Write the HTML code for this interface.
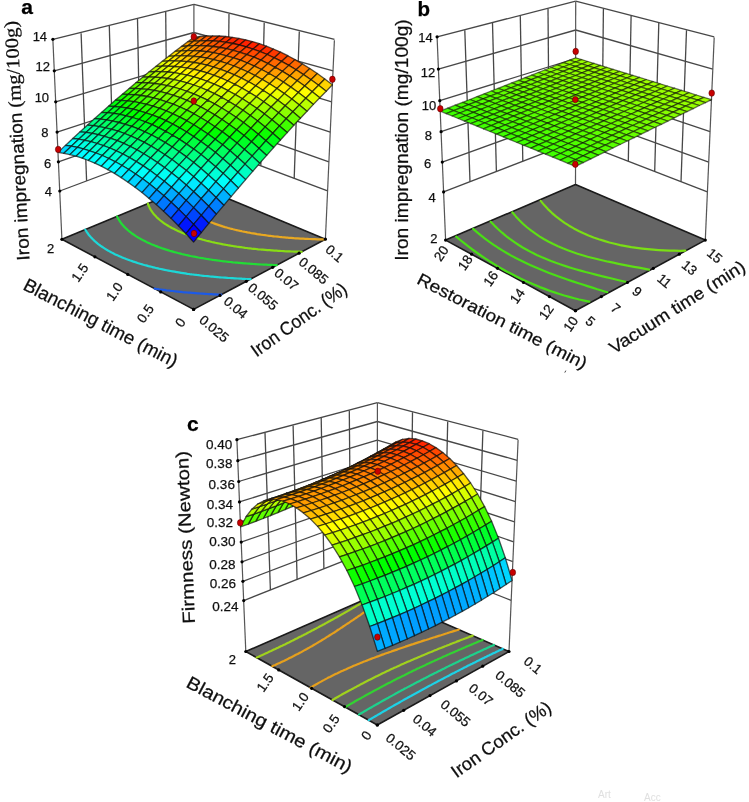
<!DOCTYPE html>
<html><head><meta charset="utf-8"><style>
html,body{margin:0;padding:0;background:#fff;}
svg{display:block;font-family:"Liberation Sans",sans-serif;}
</style></head><body>
<svg width="749" height="802" viewBox="0 0 749 802">
<defs><filter id="soft" x="0" y="0" width="100%" height="100%"><feGaussianBlur stdDeviation="0.45"/></filter></defs>
<rect width="749" height="802" fill="#fff"/>
<g filter="url(#soft)">
<line x1="59.8" y1="191.0" x2="193.9" y2="140.6" stroke="#474747" stroke-width="1.3"/>
<line x1="193.9" y1="140.6" x2="327.6" y2="190.9" stroke="#474747" stroke-width="1.3"/>
<line x1="58.4" y1="161.8" x2="193.9" y2="114.3" stroke="#474747" stroke-width="1.3"/>
<line x1="193.9" y1="114.3" x2="328.9" y2="161.8" stroke="#474747" stroke-width="1.3"/>
<line x1="57.1" y1="132.1" x2="193.9" y2="87.5" stroke="#474747" stroke-width="1.3"/>
<line x1="193.9" y1="87.5" x2="330.3" y2="132.1" stroke="#474747" stroke-width="1.3"/>
<line x1="55.7" y1="101.8" x2="193.9" y2="60.3" stroke="#474747" stroke-width="1.3"/>
<line x1="193.9" y1="60.3" x2="331.7" y2="101.8" stroke="#474747" stroke-width="1.3"/>
<line x1="54.3" y1="70.8" x2="193.9" y2="32.5" stroke="#474747" stroke-width="1.3"/>
<line x1="193.9" y1="32.5" x2="333.1" y2="70.8" stroke="#474747" stroke-width="1.3"/>
<line x1="52.9" y1="39.3" x2="193.9" y2="4.3" stroke="#474747" stroke-width="1.3"/>
<line x1="193.9" y1="4.3" x2="334.5" y2="39.3" stroke="#474747" stroke-width="1.3"/>
<line x1="86.6" y1="180.9" x2="81.1" y2="33.2" stroke="#474747" stroke-width="1.3"/>
<line x1="113.4" y1="170.8" x2="109.3" y2="26.1" stroke="#474747" stroke-width="1.3"/>
<line x1="140.2" y1="160.8" x2="137.5" y2="19.1" stroke="#474747" stroke-width="1.3"/>
<line x1="167.1" y1="150.7" x2="165.7" y2="12.1" stroke="#474747" stroke-width="1.3"/>
<line x1="294.2" y1="178.3" x2="299.3" y2="31.4" stroke="#474747" stroke-width="1.3"/>
<line x1="260.8" y1="165.8" x2="264.2" y2="22.7" stroke="#474747" stroke-width="1.3"/>
<line x1="227.3" y1="153.2" x2="229.0" y2="13.9" stroke="#474747" stroke-width="1.3"/>
<line x1="61.9" y1="239.3" x2="52.9" y2="40.2" stroke="#555" stroke-width="1.2"/>
<line x1="193.9" y1="184.4" x2="193.9" y2="5.1" stroke="#555" stroke-width="1.2"/>
<line x1="325.4" y1="239.2" x2="334.4" y2="40.2" stroke="#555" stroke-width="1.2"/>
<polygon points="193.6,309.4 61.9,239.3 193.9,184.4 325.4,239.2" fill="#656565" stroke="#1a1a1a" stroke-width="1.6" stroke-linejoin="round"/>
<polyline points="154.6,288.6 154.6,288.6 156.8,289.0 158.6,289.2 159.1,289.3 161.3,289.6 162.5,289.8 163.6,289.9 165.9,290.2 166.4,290.3 168.2,290.5 170.2,290.7 170.6,290.8 172.9,291.0 173.9,291.2 175.3,291.3 177.6,291.6 177.7,291.6 180.1,291.8 181.2,291.9 182.5,292.1 184.8,292.3 185.0,292.3 187.5,292.5 188.3,292.6 190.0,292.7 191.8,292.9 192.5,292.9 195.0,293.1 195.3,293.2 197.5,293.3 198.7,293.4 200.1,293.5 202.1,293.7 202.7,293.7 205.3,293.9 205.4,293.9 207.9,294.0 208.7,294.1 210.5,294.2 212.0,294.2 213.2,294.3 215.2,294.4 215.9,294.4 218.5,294.6 218.5,294.6 221.3,294.7" fill="none" stroke="#1e5ae6" stroke-width="2.2" stroke-linecap="round"/>
<polyline points="85.3,229.6 85.4,229.8 85.8,230.5 86.4,231.3 86.6,231.7 86.9,232.2 87.5,233.0 88.0,233.7 88.1,233.9 88.7,234.7 89.4,235.5 89.8,236.0 90.1,236.3 90.8,237.1 91.5,237.9 92.1,238.5 92.3,238.7 93.1,239.5 93.9,240.3 94.7,241.1 95.2,241.5 95.6,241.8 96.5,242.6 97.4,243.4 98.3,244.1 99.3,244.8 100.1,245.4 100.3,245.6 101.3,246.3 102.4,247.0 103.4,247.7 104.5,248.4 105.6,249.1 106.7,249.8 107.9,250.5 109.1,251.1 110.3,251.8 111.5,252.4 112.8,253.1 114.0,253.7 115.3,254.4 116.7,255.0 118.0,255.6 119.4,256.2 120.8,256.8 122.2,257.4 123.6,258.0 125.1,258.6 126.5,259.2 126.9,259.3 128.1,259.7 129.6,260.3 131.1,260.8 132.7,261.4 134.3,261.9 135.5,262.3 135.9,262.4 137.5,263.0 139.2,263.5 140.9,264.0 142.3,264.4 142.6,264.5 144.3,265.0 146.0,265.4 147.8,265.9 148.3,266.1 149.6,266.4 151.4,266.8 153.2,267.3 153.8,267.4 155.1,267.7 156.9,268.2 158.8,268.6 158.9,268.6 160.7,269.0 162.7,269.4 163.7,269.7 164.6,269.8 166.6,270.2 168.3,270.6 168.6,270.6 170.6,271.0 172.6,271.4 172.8,271.4 174.7,271.7 176.7,272.1 177.1,272.2 178.8,272.4 181.0,272.8 181.2,272.8 183.1,273.1 185.2,273.4 185.3,273.4 187.4,273.8 189.2,274.0 189.6,274.1 191.8,274.4 193.1,274.5 194.1,274.7 196.3,274.9 196.9,275.0 198.6,275.2 200.6,275.5 200.9,275.5 203.2,275.8 204.2,275.9 205.5,276.0 207.8,276.2 207.8,276.2 210.2,276.5 211.3,276.6 212.6,276.7 214.8,276.9 215.0,276.9 217.4,277.1 218.3,277.2 219.9,277.3 221.7,277.5 222.3,277.5 224.8,277.7 225.0,277.7 227.3,277.9 228.3,278.0 229.8,278.0 231.6,278.2 232.3,278.2 234.8,278.4 234.9,278.4 237.4,278.5 238.0,278.5 240.0,278.6 241.2,278.7 242.6,278.8 244.4,278.8 245.3,278.9 247.5,279.0 247.9,279.0 250.6,279.1" fill="none" stroke="#1ed8d8" stroke-width="2.2" stroke-linecap="round"/>
<polyline points="117.1,216.4 117.5,217.3 117.9,218.0 117.9,218.1 118.4,219.0 118.8,219.6 118.9,219.8 119.4,220.7 119.9,221.4 120.0,221.5 120.6,222.3 121.2,223.2 121.3,223.3 121.8,224.0 122.5,224.8 123.0,225.4 123.2,225.6 123.9,226.4 124.6,227.1 125.1,227.7 125.4,227.9 126.2,228.7 127.0,229.4 127.9,230.2 128.0,230.3 128.7,230.9 129.6,231.7 130.6,232.4 131.5,233.1 132.3,233.7 132.5,233.8 133.5,234.5 134.5,235.2 135.5,235.9 136.6,236.6 137.7,237.3 138.8,237.9 140.0,238.6 141.2,239.2 142.4,239.9 143.6,240.5 143.7,240.6 144.8,241.1 146.1,241.8 146.9,242.2 147.4,242.4 148.7,243.0 150.0,243.6 151.4,244.2 152.7,244.7 154.2,245.3 155.6,245.9 157.0,246.4 158.5,247.0 160.0,247.5 161.5,248.1 161.9,248.2 163.1,248.6 164.6,249.1 166.2,249.6 167.8,250.1 169.4,250.6 169.7,250.7 171.1,251.1 172.8,251.6 174.4,252.1 176.2,252.5 176.2,252.5 177.9,253.0 179.7,253.4 181.4,253.9 181.8,254.0 183.2,254.3 185.1,254.7 186.9,255.2 187.1,255.2 188.8,255.6 190.6,256.0 191.9,256.2 192.5,256.4 194.5,256.7 196.4,257.1 196.6,257.1 198.4,257.5 200.4,257.8 201.0,258.0 202.4,258.2 204.4,258.5 205.2,258.7 206.4,258.9 208.5,259.2 209.3,259.3 210.6,259.5 212.7,259.8 213.3,259.9 214.8,260.1 217.0,260.4 217.2,260.5 219.1,260.7 221.0,261.0 221.3,261.0 223.5,261.3 224.7,261.4 225.8,261.5 228.0,261.8 228.3,261.8 230.3,262.0 231.9,262.2 232.6,262.3 234.9,262.5 235.4,262.6 237.2,262.7 238.8,262.9 239.5,262.9 241.9,263.1 242.2,263.2 244.2,263.3 245.6,263.4 246.6,263.5 248.9,263.7 249.1,263.7 251.5,263.9 252.1,263.9 253.9,264.0 255.3,264.1 256.4,264.2 258.5,264.3 258.9,264.3 261.4,264.5 261.6,264.5 263.9,264.6 264.7,264.6 266.5,264.7 267.8,264.8 269.0,264.8 270.8,264.9 271.6,264.9 273.8,265.0 274.2,265.0 276.8,265.1" fill="none" stroke="#22dc36" stroke-width="2.2" stroke-linecap="round"/>
<polyline points="147.9,203.6 148.0,204.1 148.2,204.5 148.5,205.4 148.6,205.5 148.9,206.2 149.2,206.9 149.3,207.1 149.7,207.9 149.9,208.4 150.2,208.8 150.6,209.6 150.8,209.9 151.2,210.5 151.7,211.3 151.9,211.5 152.3,212.1 152.9,212.9 153.2,213.3 153.5,213.7 154.2,214.5 154.8,215.2 154.9,215.3 155.6,216.0 156.3,216.8 156.8,217.3 157.1,217.6 157.9,218.3 158.7,219.0 159.5,219.7 159.6,219.8 160.4,220.5 161.3,221.2 162.3,221.9 163.2,222.6 163.2,222.6 164.2,223.3 165.2,224.0 166.2,224.6 167.3,225.3 168.4,226.0 169.5,226.6 170.4,227.1 170.6,227.3 171.8,227.9 173.0,228.5 174.2,229.1 175.4,229.7 176.6,230.3 177.9,230.9 179.2,231.5 180.5,232.1 181.9,232.7 183.3,233.2 184.6,233.8 184.8,233.8 186.1,234.3 187.5,234.9 189.0,235.4 190.5,235.9 192.0,236.4 193.5,236.9 195.0,237.4 195.3,237.5 196.6,237.9 198.2,238.4 199.8,238.9 201.5,239.3 202.4,239.6 203.1,239.8 204.8,240.2 206.5,240.7 208.3,241.1 208.5,241.2 210.0,241.5 211.8,242.0 213.6,242.4 213.8,242.4 215.4,242.8 217.2,243.2 218.8,243.5 219.1,243.5 221.0,243.9 222.9,244.3 223.4,244.4 224.8,244.6 226.7,245.0 227.8,245.2 228.7,245.3 230.7,245.7 232.1,245.9 232.7,246.0 234.7,246.3 236.1,246.5 236.7,246.6 238.8,246.9 240.1,247.1 240.9,247.2 243.0,247.5 243.9,247.6 245.1,247.8 247.2,248.0 247.6,248.1 249.4,248.3 251.2,248.5 251.6,248.6 253.8,248.8 254.8,248.9 256.0,249.0 258.2,249.3 258.2,249.3 260.5,249.5 261.6,249.6 262.8,249.7 265.0,249.9 265.1,249.9 267.4,250.1 268.3,250.1 269.7,250.2 271.5,250.4 272.1,250.4 274.4,250.6 274.7,250.6 276.8,250.7 277.9,250.8 279.2,250.9 281.0,251.0 281.7,251.0 284.0,251.1 284.1,251.2 286.6,251.3 287.1,251.3 289.1,251.4 290.1,251.4 291.6,251.5 293.0,251.5 294.1,251.6 296.0,251.6 296.6,251.7 298.9,251.7 299.2,251.7 301.7,251.8" fill="none" stroke="#88dc14" stroke-width="2.2" stroke-linecap="round"/>
<polyline points="177.1,191.4 177.3,192.3 177.3,192.5 177.5,193.2 177.6,193.6 177.8,194.1 178.0,194.8 178.0,195.0 178.4,195.9 178.4,196.0 178.7,196.8 179.0,197.3 179.1,197.6 179.5,198.5 179.6,198.7 179.9,199.3 180.4,200.0 180.4,200.1 180.9,200.9 181.3,201.5 181.5,201.8 182.0,202.6 182.4,203.1 182.6,203.3 183.2,204.1 183.7,204.7 183.9,204.9 184.6,205.7 185.3,206.4 185.4,206.5 186.0,207.2 186.8,207.9 187.5,208.6 187.6,208.6 188.4,209.4 189.3,210.1 190.1,210.8 190.3,210.9 191.0,211.5 192.0,212.2 192.9,212.8 193.9,213.5 194.3,213.8 194.9,214.2 196.0,214.8 197.0,215.5 198.1,216.1 199.2,216.7 200.4,217.3 201.5,218.0 202.7,218.6 203.9,219.2 204.2,219.3 205.2,219.7 206.4,220.3 207.7,220.9 209.0,221.4 209.6,221.7 210.4,222.0 211.7,222.5 213.1,223.1 214.5,223.6 215.9,224.1 217.4,224.6 218.9,225.1 220.4,225.6 221.9,226.1 222.7,226.4 223.4,226.6 225.0,227.1 226.6,227.5 228.2,228.0 229.8,228.4 230.0,228.5 231.5,228.8 233.2,229.3 234.9,229.7 236.0,230.0 236.6,230.1 238.3,230.5 240.1,230.9 241.3,231.1 241.9,231.3 243.7,231.7 245.5,232.0 246.2,232.1 247.4,232.4 249.3,232.7 250.7,233.0 251.2,233.1 253.1,233.4 255.0,233.7 255.0,233.7 257.0,234.1 258.9,234.4 259.1,234.4 260.9,234.7 263.0,235.0 263.0,235.0 265.0,235.2 266.9,235.5 267.1,235.5 269.1,235.8 270.5,235.9 271.2,236.0 273.4,236.3 274.1,236.4 275.5,236.5 277.6,236.7 277.7,236.7 279.8,237.0 281.1,237.1 282.0,237.2 284.3,237.4 284.4,237.4 286.5,237.6 287.7,237.7 288.7,237.8 290.9,237.9 291.0,237.9 293.3,238.1 294.1,238.2 295.6,238.3 297.2,238.4 298.0,238.4 300.3,238.6 300.3,238.6 302.7,238.7 303.3,238.7 305.1,238.8 306.3,238.9 307.5,238.9 309.3,239.0 309.9,239.0 312.2,239.1 312.4,239.1 314.8,239.2 315.0,239.2 317.3,239.3 317.9,239.3 319.8,239.4 320.7,239.4 322.3,239.4 323.5,239.5 324.9,239.5" fill="none" stroke="#e8a820" stroke-width="2.2" stroke-linecap="round"/>
<circle cx="59.8" cy="191.0" r="1.6" fill="#000"/>
<circle cx="58.4" cy="161.8" r="1.6" fill="#000"/>
<circle cx="57.1" cy="132.1" r="1.6" fill="#000"/>
<circle cx="55.7" cy="101.8" r="1.6" fill="#000"/>
<circle cx="54.3" cy="70.8" r="1.6" fill="#000"/>
<circle cx="52.9" cy="39.3" r="1.6" fill="#000"/>
<circle cx="193.6" cy="309.4" r="1.6" fill="#000"/>
<circle cx="160.7" cy="291.9" r="1.6" fill="#000"/>
<circle cx="127.8" cy="274.4" r="1.6" fill="#000"/>
<circle cx="94.9" cy="256.8" r="1.6" fill="#000"/>
<circle cx="61.9" cy="239.3" r="1.6" fill="#000"/>
<circle cx="193.6" cy="309.4" r="1.6" fill="#000"/>
<circle cx="220.0" cy="295.4" r="1.6" fill="#000"/>
<circle cx="246.3" cy="281.3" r="1.6" fill="#000"/>
<circle cx="272.7" cy="267.3" r="1.6" fill="#000"/>
<circle cx="299.1" cy="253.2" r="1.6" fill="#000"/>
<circle cx="325.4" cy="239.2" r="1.6" fill="#000"/>
<g stroke="#0a0a0a" stroke-width="1.3" stroke-linejoin="round" stroke-opacity="0.68">
<polygon points="193.9,41.1 187.7,41.8 193.9,37.3 200.1,36.5" fill="#ff8500"/>
<polygon points="187.6,45.9 181.4,46.5 187.7,41.8 193.9,41.1" fill="#ffa200"/>
<polygon points="200.1,40.8 193.9,41.1 200.1,36.5 206.4,36.0" fill="#ff6e00"/>
<polygon points="181.3,50.8 175.1,51.3 181.4,46.5 187.6,45.9" fill="#ffc000"/>
<polygon points="193.9,45.6 187.6,45.9 193.9,41.1 200.1,40.8" fill="#ff8b00"/>
<polygon points="206.5,40.7 200.1,40.8 206.4,36.0 212.7,35.9" fill="#ff5a00"/>
<polygon points="174.9,55.8 168.8,56.3 175.1,51.3 181.3,50.8" fill="#ffde00"/>
<polygon points="187.5,50.6 181.3,50.8 187.6,45.9 193.9,45.6" fill="#ffaa00"/>
<polygon points="200.2,45.6 193.9,45.6 200.1,40.8 206.5,40.7" fill="#ff7800"/>
<polygon points="212.9,40.9 206.5,40.7 212.7,35.9 219.2,36.0" fill="#ff4900"/>
<polygon points="168.5,60.9 162.3,61.3 168.8,56.3 174.9,55.8" fill="#fffd00"/>
<polygon points="181.1,55.6 174.9,55.8 181.3,50.8 187.5,50.6" fill="#ffc800"/>
<polygon points="193.9,50.6 187.5,50.6 193.9,45.6 200.2,45.6" fill="#ff9600"/>
<polygon points="206.6,45.9 200.2,45.6 206.5,40.7 212.9,40.9" fill="#ff6700"/>
<polygon points="161.9,66.2 155.8,66.5 162.3,61.3 168.5,60.9" fill="#e1ff00"/>
<polygon points="219.4,41.4 212.9,40.9 219.2,36.0 225.7,36.5" fill="#ff3b00"/>
<polygon points="174.7,60.8 168.5,60.9 174.9,55.8 181.1,55.6" fill="#ffe800"/>
<polygon points="187.5,55.8 181.1,55.6 187.5,50.6 193.9,50.6" fill="#ffb600"/>
<polygon points="200.3,51.0 193.9,50.6 200.2,45.6 206.6,45.9" fill="#ff8600"/>
<polygon points="155.4,71.5 149.2,71.8 155.8,66.5 161.9,66.2" fill="#c1ff00"/>
<polygon points="213.1,46.5 206.6,45.9 212.9,40.9 219.4,41.4" fill="#ff5a00"/>
<polygon points="168.1,66.2 161.9,66.2 168.5,60.9 174.7,60.8" fill="#f6ff00"/>
<polygon points="226.0,42.3 219.4,41.4 225.7,36.5 232.3,37.3" fill="#ff3000"/>
<polygon points="181.0,61.1 174.7,60.8 181.1,55.6 187.5,55.8" fill="#ffd600"/>
<polygon points="148.7,77.0 142.6,77.2 149.2,71.8 155.4,71.5" fill="#9fff00"/>
<polygon points="193.8,56.3 187.5,55.8 193.9,50.6 200.3,51.0" fill="#ffa600"/>
<polygon points="206.8,51.7 200.3,51.0 206.6,45.9 213.1,46.5" fill="#ff7900"/>
<polygon points="161.6,71.6 155.4,71.5 161.9,66.2 168.1,66.2" fill="#d5ff00"/>
<polygon points="219.7,47.5 213.1,46.5 219.4,41.4 226.0,42.3" fill="#ff4f00"/>
<polygon points="174.4,66.5 168.1,66.2 174.7,60.8 181.0,61.1" fill="#fff600"/>
<polygon points="232.7,43.5 226.0,42.3 232.3,37.3 238.9,38.4" fill="#ff2800"/>
<polygon points="142.0,82.7 135.9,82.7 142.6,77.2 148.7,77.0" fill="#7dff00"/>
<polygon points="187.4,61.6 181.0,61.1 187.5,55.8 193.8,56.3" fill="#ffc600"/>
<polygon points="200.3,57.0 193.8,56.3 200.3,51.0 206.8,51.7" fill="#ff9900"/>
<polygon points="154.9,77.2 148.7,77.0 155.4,71.5 161.6,71.6" fill="#b3ff00"/>
<polygon points="213.3,52.7 206.8,51.7 213.1,46.5 219.7,47.5" fill="#ff6f00"/>
<polygon points="167.8,72.0 161.6,71.6 168.1,66.2 174.4,66.5" fill="#e6ff00"/>
<polygon points="226.4,48.7 219.7,47.5 226.0,42.3 232.7,43.5" fill="#ff4800"/>
<polygon points="135.2,88.4 129.2,88.4 135.9,82.7 142.0,82.7" fill="#5bff00"/>
<polygon points="180.8,67.1 174.4,66.5 181.0,61.1 187.4,61.6" fill="#ffe800"/>
<polygon points="239.4,45.0 232.7,43.5 238.9,38.4 245.7,39.8" fill="#ff2300"/>
<polygon points="193.8,62.5 187.4,61.6 193.8,56.3 200.3,57.0" fill="#ffba00"/>
<polygon points="148.2,82.9 142.0,82.7 148.7,77.0 154.9,77.2" fill="#91ff00"/>
<polygon points="206.9,58.2 200.3,57.0 206.8,51.7 213.3,52.7" fill="#ff9000"/>
<polygon points="161.2,77.7 154.9,77.2 161.6,71.6 167.8,72.0" fill="#c4ff00"/>
<polygon points="220.0,54.1 213.3,52.7 219.7,47.5 226.4,48.7" fill="#ff6800"/>
<polygon points="128.4,94.3 122.4,94.2 129.2,88.4 135.2,88.4" fill="#38ff00"/>
<polygon points="174.2,72.7 167.8,72.0 174.4,66.5 180.8,67.1" fill="#f5ff00"/>
<polygon points="233.1,50.3 226.4,48.7 232.7,43.5 239.4,45.0" fill="#ff4300"/>
<polygon points="187.3,68.1 180.8,67.1 187.4,61.6 193.8,62.5" fill="#ffdc00"/>
<polygon points="246.2,46.9 239.4,45.0 245.7,39.8 252.5,41.6" fill="#ff2100"/>
<polygon points="141.4,88.8 135.2,88.4 142.0,82.7 148.2,82.9" fill="#6eff00"/>
<polygon points="200.4,63.7 193.8,62.5 200.3,57.0 206.9,58.2" fill="#ffb100"/>
<polygon points="154.4,83.5 148.2,82.9 154.9,77.2 161.2,77.7" fill="#a1ff00"/>
<polygon points="213.5,59.6 206.9,58.2 213.3,52.7 220.0,54.1" fill="#ff8900"/>
<polygon points="121.5,100.3 115.5,100.1 122.4,94.2 128.4,94.3" fill="#13ff00"/>
<polygon points="167.5,78.5 161.2,77.7 167.8,72.0 174.2,72.7" fill="#d2ff00"/>
<polygon points="226.7,55.8 220.0,54.1 226.4,48.7 233.1,50.3" fill="#ff6400"/>
<polygon points="180.7,73.8 174.2,72.7 180.8,67.1 187.3,68.1" fill="#fffe00"/>
<polygon points="134.6,94.7 128.4,94.3 135.2,88.4 141.4,88.8" fill="#4aff00"/>
<polygon points="239.9,52.3 233.1,50.3 239.4,45.0 246.2,46.9" fill="#ff4200"/>
<polygon points="253.1,49.1 246.2,46.9 252.5,41.6 259.4,43.7" fill="#ff2300"/>
<polygon points="193.8,69.4 187.3,68.1 193.8,62.5 200.4,63.7" fill="#ffd300"/>
<polygon points="147.6,89.4 141.4,88.8 148.2,82.9 154.4,83.5" fill="#7eff00"/>
<polygon points="207.0,65.2 200.4,63.7 206.9,58.2 213.5,59.6" fill="#ffab00"/>
<polygon points="114.5,106.5 108.5,106.2 115.5,100.1 121.5,100.3" fill="#00ff11"/>
<polygon points="160.8,84.4 154.4,83.5 161.2,77.7 167.5,78.5" fill="#afff00"/>
<polygon points="220.3,61.4 213.5,59.6 220.0,54.1 226.7,55.8" fill="#ff8600"/>
<polygon points="174.0,79.6 167.5,78.5 174.2,72.7 180.7,73.8" fill="#ddff00"/>
<polygon points="127.6,100.8 121.5,100.3 128.4,94.3 134.6,94.7" fill="#26ff00"/>
<polygon points="233.5,57.8 226.7,55.8 233.1,50.3 239.9,52.3" fill="#ff6300"/>
<polygon points="246.8,54.6 239.9,52.3 246.2,46.9 253.1,49.1" fill="#ff4300"/>
<polygon points="187.2,75.1 180.7,73.8 187.3,68.1 193.8,69.4" fill="#fff600"/>
<polygon points="140.8,95.5 134.6,94.7 141.4,88.8 147.6,89.4" fill="#5aff00"/>
<polygon points="260.1,51.6 253.1,49.1 259.4,43.7 266.4,46.2" fill="#ff2700"/>
<polygon points="200.5,71.0 193.8,69.4 200.4,63.7 207.0,65.2" fill="#ffcd00"/>
<polygon points="107.5,112.7 101.5,112.4 108.5,106.2 114.5,106.5" fill="#00ff37"/>
<polygon points="154.0,90.4 147.6,89.4 154.4,83.5 160.8,84.4" fill="#8bff00"/>
<polygon points="213.7,67.1 207.0,65.2 213.5,59.6 220.3,61.4" fill="#ffa800"/>
<polygon points="120.7,107.1 114.5,106.5 121.5,100.3 127.6,100.8" fill="#01ff00"/>
<polygon points="167.2,85.6 160.8,84.4 167.5,78.5 174.0,79.6" fill="#b9ff00"/>
<polygon points="227.1,63.5 220.3,61.4 226.7,55.8 233.5,57.8" fill="#ff8500"/>
<polygon points="240.4,60.2 233.5,57.8 239.9,52.3 246.8,54.6" fill="#ff6500"/>
<polygon points="180.5,81.1 174.0,79.6 180.7,73.8 187.2,75.1" fill="#e5ff00"/>
<polygon points="133.9,101.7 127.6,100.8 134.6,94.7 140.8,95.5" fill="#35ff00"/>
<polygon points="253.8,57.2 246.8,54.6 253.1,49.1 260.1,51.6" fill="#ff4800"/>
<polygon points="193.8,76.9 187.2,75.1 193.8,69.4 200.5,71.0" fill="#fff000"/>
<polygon points="100.4,119.2 94.4,118.7 101.5,112.4 107.5,112.7" fill="#00ff5d"/>
<polygon points="267.2,54.5 260.1,51.6 266.4,46.2 273.4,49.0" fill="#ff2e00"/>
<polygon points="147.1,96.5 140.8,95.5 147.6,89.4 154.0,90.4" fill="#66ff00"/>
<polygon points="207.2,72.9 200.5,71.0 207.0,65.2 213.7,67.1" fill="#ffcb00"/>
<polygon points="113.6,113.4 107.5,112.7 114.5,106.5 120.7,107.1" fill="#00ff25"/>
<polygon points="160.4,91.7 154.0,90.4 160.8,84.4 167.2,85.6" fill="#95ff00"/>
<polygon points="220.5,69.3 213.7,67.1 220.3,61.4 227.1,63.5" fill="#ffa700"/>
<polygon points="234.0,66.0 227.1,63.5 233.5,57.8 240.4,60.2" fill="#ff8700"/>
<polygon points="173.7,87.1 167.2,85.6 174.0,79.6 180.5,81.1" fill="#c1ff00"/>
<polygon points="126.9,108.0 120.7,107.1 127.6,100.8 133.9,101.7" fill="#0fff00"/>
<polygon points="247.4,63.0 240.4,60.2 246.8,54.6 253.8,57.2" fill="#ff6a00"/>
<polygon points="187.1,82.9 180.5,81.1 187.2,75.1 193.8,76.9" fill="#eaff00"/>
<polygon points="93.3,125.7 87.3,125.2 94.4,118.7 100.4,119.2" fill="#00ff84"/>
<polygon points="260.8,60.2 253.8,57.2 260.1,51.6 267.2,54.5" fill="#ff5000"/>
<polygon points="140.2,102.8 133.9,101.7 140.8,95.5 147.1,96.5" fill="#41ff00"/>
<polygon points="274.3,57.8 267.2,54.5 273.4,49.0 280.6,52.1" fill="#ff3800"/>
<polygon points="200.5,78.9 193.8,76.9 200.5,71.0 207.2,72.9" fill="#ffee00"/>
<polygon points="106.5,119.9 100.4,119.2 107.5,112.7 113.6,113.4" fill="#00ff4c"/>
<polygon points="153.5,97.9 147.1,96.5 154.0,90.4 160.4,91.7" fill="#70ff00"/>
<polygon points="214.0,75.3 207.2,72.9 213.7,67.1 220.5,69.3" fill="#ffcb00"/>
<polygon points="227.4,71.9 220.5,69.3 227.1,63.5 234.0,66.0" fill="#ffaa00"/>
<polygon points="166.9,93.3 160.4,91.7 167.2,85.6 173.7,87.1" fill="#9cff00"/>
<polygon points="119.8,114.4 113.6,113.4 120.7,107.1 126.9,108.0" fill="#00ff17"/>
<polygon points="240.9,68.8 234.0,66.0 240.4,60.2 247.4,63.0" fill="#ff8d00"/>
<polygon points="86.0,132.4 80.1,131.8 87.3,125.2 93.3,125.7" fill="#00ffab"/>
<polygon points="180.3,89.0 173.7,87.1 180.5,81.1 187.1,82.9" fill="#c5ff00"/>
<polygon points="254.4,66.1 247.4,63.0 253.8,57.2 260.8,60.2" fill="#ff7200"/>
<polygon points="133.2,109.2 126.9,108.0 133.9,101.7 140.2,102.8" fill="#1bff00"/>
<polygon points="268.0,63.6 260.8,60.2 267.2,54.5 274.3,57.8" fill="#ff5a00"/>
<polygon points="193.8,85.0 187.1,82.9 193.8,76.9 200.5,78.9" fill="#ecff00"/>
<polygon points="281.5,61.4 274.3,57.8 280.6,52.1 287.8,55.7" fill="#ff4500"/>
<polygon points="99.3,126.6 93.3,125.7 100.4,119.2 106.5,119.9" fill="#00ff73"/>
<polygon points="146.6,104.3 140.2,102.8 147.1,96.5 153.5,97.9" fill="#4aff00"/>
<polygon points="207.3,81.3 200.5,78.9 207.2,72.9 214.0,75.3" fill="#ffef00"/>
<polygon points="220.8,77.9 214.0,75.3 220.5,69.3 227.4,71.9" fill="#ffce00"/>
<polygon points="160.0,99.7 153.5,97.9 160.4,91.7 166.9,93.3" fill="#77ff00"/>
<polygon points="112.7,121.1 106.5,119.9 113.6,113.4 119.8,114.4" fill="#00ff3e"/>
<polygon points="234.4,74.8 227.4,71.9 234.0,66.0 240.9,68.8" fill="#ffb000"/>
<polygon points="78.7,139.2 72.8,138.5 80.1,131.8 86.0,132.4" fill="#00ffd3"/>
<polygon points="173.5,95.3 166.9,93.3 173.7,87.1 180.3,89.0" fill="#a0ff00"/>
<polygon points="126.1,115.8 119.8,114.4 126.9,108.0 133.2,109.2" fill="#00ff0c"/>
<polygon points="248.0,72.0 240.9,68.8 247.4,63.0 254.4,66.1" fill="#ff9500"/>
<polygon points="261.5,69.5 254.4,66.1 260.8,60.2 268.0,63.6" fill="#ff7d00"/>
<polygon points="187.0,91.3 180.3,89.0 187.1,82.9 193.8,85.0" fill="#c7ff00"/>
<polygon points="92.1,133.4 86.0,132.4 93.3,125.7 99.3,126.6" fill="#00ff9b"/>
<polygon points="275.1,67.3 268.0,63.6 274.3,57.8 281.5,61.4" fill="#ff6800"/>
<polygon points="139.5,110.8 133.2,109.2 140.2,102.8 146.6,104.3" fill="#24ff00"/>
<polygon points="200.6,87.5 193.8,85.0 200.5,78.9 207.3,81.3" fill="#ebff00"/>
<polygon points="288.8,65.4 281.5,61.4 287.8,55.7 295.0,59.6" fill="#ff5500"/>
<polygon points="153.0,106.2 146.6,104.3 153.5,97.9 160.0,99.7" fill="#50ff00"/>
<polygon points="214.2,84.1 207.3,81.3 214.0,75.3 220.8,77.9" fill="#fff200"/>
<polygon points="105.5,127.8 99.3,126.6 106.5,119.9 112.7,121.1" fill="#00ff66"/>
<polygon points="227.8,81.0 220.8,77.9 227.4,71.9 234.4,74.8" fill="#ffd400"/>
<polygon points="71.3,146.2 65.4,145.4 72.8,138.5 78.7,139.2" fill="#00fffc"/>
<polygon points="166.6,101.8 160.0,99.7 166.9,93.3 173.5,95.3" fill="#7aff00"/>
<polygon points="118.9,122.5 112.7,121.1 119.8,114.4 126.1,115.8" fill="#00ff33"/>
<polygon points="241.4,78.1 234.4,74.8 240.9,68.8 248.0,72.0" fill="#ffb900"/>
<polygon points="180.2,97.7 173.5,95.3 180.3,89.0 187.0,91.3" fill="#a1ff00"/>
<polygon points="255.1,75.6 248.0,72.0 254.4,66.1 261.5,69.5" fill="#ffa100"/>
<polygon points="84.7,140.3 78.7,139.2 86.0,132.4 92.1,133.4" fill="#00ffc4"/>
<polygon points="132.4,117.5 126.1,115.8 133.2,109.2 139.5,110.8" fill="#00ff03"/>
<polygon points="268.7,73.3 261.5,69.5 268.0,63.6 275.1,67.3" fill="#ff8b00"/>
<polygon points="193.8,93.9 187.0,91.3 193.8,85.0 200.6,87.5" fill="#c5ff00"/>
<polygon points="282.4,71.4 275.1,67.3 281.5,61.4 288.8,65.4" fill="#ff7800"/>
<polygon points="296.1,69.8 288.8,65.4 295.0,59.6 302.4,63.9" fill="#ff6800"/>
<polygon points="146.0,112.8 139.5,110.8 146.6,104.3 153.0,106.2" fill="#29ff00"/>
<polygon points="98.2,134.7 92.1,133.4 99.3,126.6 105.5,127.8" fill="#00ff8e"/>
<polygon points="207.4,90.4 200.6,87.5 207.3,81.3 214.2,84.1" fill="#e6ff00"/>
<polygon points="63.9,153.3 58.0,152.4 65.4,145.4 71.3,146.2" fill="#00d8ff"/>
<polygon points="221.1,87.2 214.2,84.1 220.8,77.9 227.8,81.0" fill="#fff900"/>
<polygon points="159.6,108.3 153.0,106.2 160.0,99.7 166.6,101.8" fill="#53ff00"/>
<polygon points="111.7,129.3 105.5,127.8 112.7,121.1 118.9,122.5" fill="#00ff5b"/>
<polygon points="234.8,84.3 227.8,81.0 234.4,74.8 241.4,78.1" fill="#ffde00"/>
<polygon points="173.2,104.2 166.6,101.8 173.5,95.3 180.2,97.7" fill="#7bff00"/>
<polygon points="248.5,81.8 241.4,78.1 248.0,72.0 255.1,75.6" fill="#ffc500"/>
<polygon points="77.4,147.4 71.3,146.2 78.7,139.2 84.7,140.3" fill="#00ffed"/>
<polygon points="125.3,124.3 118.9,122.5 126.1,115.8 132.4,117.5" fill="#00ff2b"/>
<polygon points="262.3,79.5 255.1,75.6 261.5,69.5 268.7,73.3" fill="#ffaf00"/>
<polygon points="186.9,100.4 180.2,97.7 187.0,91.3 193.8,93.9" fill="#9fff00"/>
<polygon points="276.0,77.5 268.7,73.3 275.1,67.3 282.4,71.4" fill="#ff9c00"/>
<polygon points="289.8,75.9 282.4,71.4 288.8,65.4 296.1,69.8" fill="#ff8c00"/>
<polygon points="90.9,141.7 84.7,140.3 92.1,133.4 98.2,134.7" fill="#00ffb7"/>
<polygon points="138.9,119.5 132.4,117.5 139.5,110.8 146.0,112.8" fill="#02ff00"/>
<polygon points="200.6,96.9 193.8,93.9 200.6,87.5 207.4,90.4" fill="#c1ff00"/>
<polygon points="303.5,74.6 296.1,69.8 302.4,63.9 309.8,68.5" fill="#ff7f00"/>
<polygon points="214.4,93.6 207.4,90.4 214.2,84.1 221.1,87.2" fill="#dfff00"/>
<polygon points="152.6,115.1 146.0,112.8 153.0,106.2 159.6,108.3" fill="#2cff00"/>
<polygon points="104.4,136.3 98.2,134.7 105.5,127.8 111.7,129.3" fill="#00ff84"/>
<polygon points="228.1,90.7 221.1,87.2 227.8,81.0 234.8,84.3" fill="#fbff00"/>
<polygon points="166.3,110.9 159.6,108.3 166.6,101.8 173.2,104.2" fill="#54ff00"/>
<polygon points="69.9,154.6 63.9,153.3 71.3,146.2 77.4,147.4" fill="#00e7ff"/>
<polygon points="241.9,88.1 234.8,84.3 241.4,78.1 248.5,81.8" fill="#ffea00"/>
<polygon points="118.0,131.2 111.7,129.3 118.9,122.5 125.3,124.3" fill="#00ff54"/>
<polygon points="255.7,85.8 248.5,81.8 255.1,75.6 262.3,79.5" fill="#ffd400"/>
<polygon points="180.0,107.0 173.2,104.2 180.2,97.7 186.9,100.4" fill="#78ff00"/>
<polygon points="269.5,83.8 262.3,79.5 268.7,73.3 276.0,77.5" fill="#ffc100"/>
<polygon points="83.5,148.9 77.4,147.4 84.7,140.3 90.9,141.7" fill="#00ffe1"/>
<polygon points="283.4,82.1 276.0,77.5 282.4,71.4 289.8,75.9" fill="#ffb000"/>
<polygon points="131.7,126.4 125.3,124.3 132.4,117.5 138.9,119.5" fill="#00ff26"/>
<polygon points="193.8,103.5 186.9,100.4 193.8,93.9 200.6,96.9" fill="#9aff00"/>
<polygon points="297.2,80.8 289.8,75.9 296.1,69.8 303.5,74.6" fill="#ffa300"/>
<polygon points="311.0,79.7 303.5,74.6 309.8,68.5 317.3,73.5" fill="#ff9800"/>
<polygon points="207.6,100.2 200.6,96.9 207.4,90.4 214.4,93.6" fill="#b9ff00"/>
<polygon points="145.4,121.9 138.9,119.5 146.0,112.8 152.6,115.1" fill="#04ff00"/>
<polygon points="97.1,143.5 90.9,141.7 98.2,134.7 104.4,136.3" fill="#00ffae"/>
<polygon points="221.4,97.2 214.4,93.6 221.1,87.2 228.1,90.7" fill="#d5ff00"/>
<polygon points="159.2,117.7 152.6,115.1 159.6,108.3 166.3,110.9" fill="#2cff00"/>
<polygon points="235.3,94.6 228.1,90.7 234.8,84.3 241.9,88.1" fill="#eeff00"/>
<polygon points="110.7,138.3 104.4,136.3 111.7,129.3 118.0,131.2" fill="#00ff7d"/>
<polygon points="249.1,92.3 241.9,88.1 248.5,81.8 255.7,85.8" fill="#fff900"/>
<polygon points="173.0,113.8 166.3,110.9 173.2,104.2 180.0,107.0" fill="#51ff00"/>
<polygon points="263.0,90.2 255.7,85.8 262.3,79.5 269.5,83.8" fill="#ffe600"/>
<polygon points="76.0,156.2 69.9,154.6 77.4,147.4 83.5,148.9" fill="#00f2ff"/>
<polygon points="124.5,133.5 118.0,131.2 125.3,124.3 131.7,126.4" fill="#00ff4f"/>
<polygon points="276.9,88.5 269.5,83.8 276.0,77.5 283.4,82.1" fill="#ffd500"/>
<polygon points="186.8,110.2 180.0,107.0 186.9,100.4 193.8,103.5" fill="#73ff00"/>
<polygon points="290.8,87.1 283.4,82.1 289.8,75.9 297.2,80.8" fill="#ffc700"/>
<polygon points="304.7,86.0 297.2,80.8 303.5,74.6 311.0,79.7" fill="#ffbc00"/>
<polygon points="318.6,85.2 311.0,79.7 317.3,73.5 324.8,79.0" fill="#ffb400"/>
<polygon points="200.7,106.9 193.8,103.5 200.6,96.9 207.6,100.2" fill="#92ff00"/>
<polygon points="138.3,128.9 131.7,126.4 138.9,119.5 145.4,121.9" fill="#00ff25"/>
<polygon points="89.6,150.8 83.5,148.9 90.9,141.7 97.1,143.5" fill="#00ffd8"/>
<polygon points="214.6,103.9 207.6,100.2 214.4,93.6 221.4,97.2" fill="#aeff00"/>
<polygon points="152.1,124.7 145.4,121.9 152.6,115.1 159.2,117.7" fill="#03ff00"/>
<polygon points="228.5,101.2 221.4,97.2 228.1,90.7 235.3,94.6" fill="#c8ff00"/>
<polygon points="103.4,145.6 97.1,143.5 104.4,136.3 110.7,138.3" fill="#00ffa7"/>
<polygon points="242.4,98.8 235.3,94.6 241.9,88.1 249.1,92.3" fill="#dfff00"/>
<polygon points="165.9,120.7 159.2,117.7 166.3,110.9 173.0,113.8" fill="#29ff00"/>
<polygon points="256.4,96.8 249.1,92.3 255.7,85.8 263.0,90.2" fill="#f2ff00"/>
<polygon points="117.2,140.7 110.7,138.3 118.0,131.2 124.5,133.5" fill="#00ff79"/>
<polygon points="270.3,95.0 263.0,90.2 269.5,83.8 276.9,88.5" fill="#fffb00"/>
<polygon points="179.8,117.1 173.0,113.8 180.0,107.0 186.8,110.2" fill="#4bff00"/>
<polygon points="284.3,93.6 276.9,88.5 283.4,82.1 290.8,87.1" fill="#ffed00"/>
<polygon points="298.3,92.5 290.8,87.1 297.2,80.8 304.7,86.0" fill="#ffe100"/>
<polygon points="312.2,91.7 304.7,86.0 311.0,79.7 318.6,85.2" fill="#ffd900"/>
<polygon points="326.2,91.2 318.6,85.2 324.8,79.0 332.4,84.8" fill="#ffd300"/>
<polygon points="193.8,113.7 186.8,110.2 193.8,103.5 200.7,106.9" fill="#6aff00"/>
<polygon points="131.0,136.1 124.5,133.5 131.7,126.4 138.3,128.9" fill="#00ff4e"/>
<polygon points="82.2,158.2 76.0,156.2 83.5,148.9 89.6,150.8" fill="#00fbff"/>
<polygon points="207.7,110.7 200.7,106.9 207.6,100.2 214.6,103.9" fill="#87ff00"/>
<polygon points="144.9,131.8 138.3,128.9 145.4,121.9 152.1,124.7" fill="#00ff26"/>
<polygon points="221.7,108.0 214.6,103.9 221.4,97.2 228.5,101.2" fill="#a1ff00"/>
<polygon points="95.9,153.0 89.6,150.8 97.1,143.5 103.4,145.6" fill="#00ffd2"/>
<polygon points="235.7,105.6 228.5,101.2 235.3,94.6 242.4,98.8" fill="#b8ff00"/>
<polygon points="158.8,127.8 152.1,124.7 159.2,117.7 165.9,120.7" fill="#00ff00"/>
<polygon points="249.7,103.5 242.4,98.8 249.1,92.3 256.4,96.8" fill="#ccff00"/>
<polygon points="109.8,148.0 103.4,145.6 110.7,138.3 117.2,140.7" fill="#00ffa4"/>
<polygon points="263.7,101.7 256.4,96.8 263.0,90.2 270.3,95.0" fill="#ddff00"/>
<polygon points="172.8,124.1 165.9,120.7 173.0,113.8 179.8,117.1" fill="#22ff00"/>
<polygon points="277.8,100.2 270.3,95.0 276.9,88.5 284.3,93.6" fill="#ebff00"/>
<polygon points="291.8,99.1 284.3,93.6 290.8,87.1 298.3,92.5" fill="#f7ff00"/>
<polygon points="305.8,98.2 298.3,92.5 304.7,86.0 312.2,91.7" fill="#fffe00"/>
<polygon points="123.7,143.4 117.2,140.7 124.5,133.5 131.0,136.1" fill="#00ff78"/>
<polygon points="186.7,120.7 179.8,117.1 186.8,110.2 193.8,113.7" fill="#42ff00"/>
<polygon points="319.8,97.7 312.2,91.7 318.6,85.2 326.2,91.2" fill="#fff800"/>
<polygon points="200.8,117.7 193.8,113.7 200.7,106.9 207.7,110.7" fill="#5fff00"/>
<polygon points="137.6,139.1 131.0,136.1 138.3,128.9 144.9,131.8" fill="#00ff50"/>
<polygon points="88.4,160.5 82.2,158.2 89.6,150.8 95.9,153.0" fill="#00fffd"/>
<polygon points="214.8,114.9 207.7,110.7 214.6,103.9 221.7,108.0" fill="#79ff00"/>
<polygon points="228.9,112.5 221.7,108.0 228.5,101.2 235.7,105.6" fill="#90ff00"/>
<polygon points="151.6,135.0 144.9,131.8 152.1,124.7 158.8,127.8" fill="#00ff2a"/>
<polygon points="243.0,110.3 235.7,105.6 242.4,98.8 249.7,103.5" fill="#a4ff00"/>
<polygon points="102.3,155.5 95.9,153.0 103.4,145.6 109.8,148.0" fill="#00ffcf"/>
<polygon points="165.6,131.3 158.8,127.8 165.9,120.7 172.8,124.1" fill="#00ff07"/>
<polygon points="257.0,108.5 249.7,103.5 256.4,96.8 263.7,101.7" fill="#b6ff00"/>
<polygon points="271.1,107.0 263.7,101.7 270.3,95.0 277.8,100.2" fill="#c5ff00"/>
<polygon points="285.2,105.8 277.8,100.2 284.3,93.6 291.8,99.1" fill="#d0ff00"/>
<polygon points="116.3,150.9 109.8,148.0 117.2,140.7 123.7,143.4" fill="#00ffa3"/>
<polygon points="179.7,127.9 172.8,124.1 179.8,117.1 186.7,120.7" fill="#19ff00"/>
<polygon points="299.4,104.9 291.8,99.1 298.3,92.5 305.8,98.2" fill="#d9ff00"/>
<polygon points="313.4,104.4 305.8,98.2 312.2,91.7 319.8,97.7" fill="#e0ff00"/>
<polygon points="193.7,124.8 186.7,120.7 193.8,113.7 200.8,117.7" fill="#36ff00"/>
<polygon points="130.3,146.5 123.7,143.4 131.0,136.1 137.6,139.1" fill="#00ff7a"/>
<polygon points="207.9,122.0 200.8,117.7 207.7,110.7 214.8,114.9" fill="#50ff00"/>
<polygon points="144.3,142.4 137.6,139.1 144.9,131.8 151.6,135.0" fill="#00ff54"/>
<polygon points="222.0,119.5 214.8,114.9 221.7,108.0 228.9,112.5" fill="#68ff00"/>
<polygon points="94.8,163.2 88.4,160.5 95.9,153.0 102.3,155.5" fill="#00fffb"/>
<polygon points="236.1,117.3 228.9,112.5 235.7,105.6 243.0,110.3" fill="#7cff00"/>
<polygon points="158.4,138.6 151.6,135.0 158.8,127.8 165.6,131.3" fill="#00ff31"/>
<polygon points="250.3,115.5 243.0,110.3 249.7,103.5 257.0,108.5" fill="#8eff00"/>
<polygon points="264.5,113.9 257.0,108.5 263.7,101.7 271.1,107.0" fill="#9dff00"/>
<polygon points="108.8,158.5 102.3,155.5 109.8,148.0 116.3,150.9" fill="#00ffcf"/>
<polygon points="278.6,112.7 271.1,107.0 277.8,100.2 285.2,105.8" fill="#a9ff00"/>
<polygon points="172.5,135.2 165.6,131.3 172.8,124.1 179.7,127.9" fill="#00ff11"/>
<polygon points="292.8,111.8 285.2,105.8 291.8,99.1 299.4,104.9" fill="#b2ff00"/>
<polygon points="307.0,111.2 299.4,104.9 305.8,98.2 313.4,104.4" fill="#b9ff00"/>
<polygon points="186.7,132.0 179.7,127.9 186.7,120.7 193.7,124.8" fill="#0cff00"/>
<polygon points="122.9,154.0 116.3,150.9 123.7,143.4 130.3,146.5" fill="#00ffa6"/>
<polygon points="200.8,129.2 193.7,124.8 200.8,117.7 207.9,122.0" fill="#27ff00"/>
<polygon points="137.0,149.9 130.3,146.5 137.6,139.1 144.3,142.4" fill="#00ff7f"/>
<polygon points="215.0,126.7 207.9,122.0 214.8,114.9 222.0,119.5" fill="#3fff00"/>
<polygon points="229.2,124.5 222.0,119.5 228.9,112.5 236.1,117.3" fill="#54ff00"/>
<polygon points="151.1,146.1 144.3,142.4 151.6,135.0 158.4,138.6" fill="#00ff5c"/>
<polygon points="243.5,122.6 236.1,117.3 243.0,110.3 250.3,115.5" fill="#66ff00"/>
<polygon points="257.7,121.0 250.3,115.5 257.0,108.5 264.5,113.9" fill="#75ff00"/>
<polygon points="101.3,166.2 94.8,163.2 102.3,155.5 108.8,158.5" fill="#00fffb"/>
<polygon points="272.0,119.7 264.5,113.9 271.1,107.0 278.6,112.7" fill="#81ff00"/>
<polygon points="165.3,142.6 158.4,138.6 165.6,131.3 172.5,135.2" fill="#00ff3b"/>
<polygon points="286.2,118.8 278.6,112.7 285.2,105.8 292.8,111.8" fill="#8bff00"/>
<polygon points="300.4,118.2 292.8,111.8 299.4,104.9 307.0,111.2" fill="#91ff00"/>
<polygon points="179.5,139.4 172.5,135.2 179.7,127.9 186.7,132.0" fill="#00ff1e"/>
<polygon points="115.4,161.8 108.8,158.5 116.3,150.9 122.9,154.0" fill="#00ffd2"/>
<polygon points="193.7,136.6 186.7,132.0 193.7,124.8 200.8,129.2" fill="#00ff03"/>
<polygon points="129.5,157.6 122.9,154.0 130.3,146.5 137.0,149.9" fill="#00ffab"/>
<polygon points="208.0,134.0 200.8,129.2 207.9,122.0 215.0,126.7" fill="#15ff00"/>
<polygon points="222.3,131.8 215.0,126.7 222.0,119.5 229.2,124.5" fill="#2aff00"/>
<polygon points="143.7,153.8 137.0,149.9 144.3,142.4 151.1,146.1" fill="#00ff87"/>
<polygon points="236.6,129.8 229.2,124.5 236.1,117.3 243.5,122.6" fill="#3dff00"/>
<polygon points="250.9,128.2 243.5,122.6 250.3,115.5 257.7,121.0" fill="#4cff00"/>
<polygon points="158.0,150.2 151.1,146.1 158.4,138.6 165.3,142.6" fill="#00ff67"/>
<polygon points="265.2,126.9 257.7,121.0 264.5,113.9 272.0,119.7" fill="#59ff00"/>
<polygon points="279.5,125.9 272.0,119.7 278.6,112.7 286.2,118.8" fill="#62ff00"/>
<polygon points="293.8,125.3 286.2,118.8 292.8,111.8 300.4,118.2" fill="#69ff00"/>
<polygon points="172.3,147.0 165.3,142.6 172.5,135.2 179.5,139.4" fill="#00ff49"/>
<polygon points="107.8,169.6 101.3,166.2 108.8,158.5 115.4,161.8" fill="#00fffe"/>
<polygon points="186.6,144.1 179.5,139.4 186.7,132.0 193.7,136.6" fill="#00ff2e"/>
<polygon points="122.0,165.5 115.4,161.8 122.9,154.0 129.5,157.6" fill="#00ffd8"/>
<polygon points="200.9,141.5 193.7,136.6 200.8,129.2 208.0,134.0" fill="#00ff15"/>
<polygon points="215.2,139.2 208.0,134.0 215.0,126.7 222.3,131.8" fill="#00ff00"/>
<polygon points="136.3,161.6 129.5,157.6 137.0,149.9 143.7,153.8" fill="#00ffb4"/>
<polygon points="229.6,137.2 222.3,131.8 229.2,124.5 236.6,129.8" fill="#13ff00"/>
<polygon points="244.0,135.6 236.6,129.8 243.5,122.6 250.9,128.2" fill="#22ff00"/>
<polygon points="150.6,158.0 143.7,153.8 151.1,146.1 158.0,150.2" fill="#00ff93"/>
<polygon points="258.4,134.3 250.9,128.2 257.7,121.0 265.2,126.9" fill="#2fff00"/>
<polygon points="272.8,133.3 265.2,126.9 272.0,119.7 279.5,125.9" fill="#39ff00"/>
<polygon points="287.2,132.6 279.5,125.9 286.2,118.8 293.8,125.3" fill="#41ff00"/>
<polygon points="164.9,154.7 158.0,150.2 165.3,142.6 172.3,147.0" fill="#00ff74"/>
<polygon points="179.3,151.8 172.3,147.0 179.5,139.4 186.6,144.1" fill="#00ff59"/>
<polygon points="114.5,173.4 107.8,169.6 115.4,161.8 122.0,165.5" fill="#00f9ff"/>
<polygon points="193.7,149.1 186.6,144.1 193.7,136.6 200.9,141.5" fill="#00ff40"/>
<polygon points="208.1,146.8 200.9,141.5 208.0,134.0 215.2,139.2" fill="#00ff2b"/>
<polygon points="128.8,169.5 122.0,165.5 129.5,157.6 136.3,161.6" fill="#00ffe0"/>
<polygon points="222.6,144.8 215.2,139.2 222.3,131.8 229.6,137.2" fill="#00ff18"/>
<polygon points="237.0,143.1 229.6,137.2 236.6,129.8 244.0,135.6" fill="#00ff08"/>
<polygon points="143.2,165.9 136.3,161.6 143.7,153.8 150.6,158.0" fill="#00ffbf"/>
<polygon points="251.5,141.8 244.0,135.6 250.9,128.2 258.4,134.3" fill="#05ff00"/>
<polygon points="265.9,140.7 258.4,134.3 265.2,126.9 272.8,133.3" fill="#10ff00"/>
<polygon points="280.4,140.0 272.8,133.3 279.5,125.9 287.2,132.6" fill="#17ff00"/>
<polygon points="157.6,162.6 150.6,158.0 158.0,150.2 164.9,154.7" fill="#00ffa1"/>
<polygon points="172.0,159.6 164.9,154.7 172.3,147.0 179.3,151.8" fill="#00ff85"/>
<polygon points="186.5,156.9 179.3,151.8 186.6,144.1 193.7,149.1" fill="#00ff6c"/>
<polygon points="201.0,154.6 193.7,149.1 200.9,141.5 208.1,146.8" fill="#00ff56"/>
<polygon points="121.2,177.6 114.5,173.4 122.0,165.5 128.8,169.5" fill="#00f0ff"/>
<polygon points="215.5,152.5 208.1,146.8 215.2,139.2 222.6,144.8" fill="#00ff43"/>
<polygon points="230.0,150.8 222.6,144.8 229.6,137.2 237.0,143.1" fill="#00ff33"/>
<polygon points="135.6,174.0 128.8,169.5 136.3,161.6 143.2,165.9" fill="#00ffec"/>
<polygon points="244.5,149.4 237.0,143.1 244.0,135.6 251.5,141.8" fill="#00ff25"/>
<polygon points="259.1,148.4 251.5,141.8 258.4,134.3 265.9,140.7" fill="#00ff1b"/>
<polygon points="273.6,147.6 265.9,140.7 272.8,133.3 280.4,140.0" fill="#00ff13"/>
<polygon points="150.1,170.6 143.2,165.9 150.6,158.0 157.6,162.6" fill="#00ffce"/>
<polygon points="164.6,167.6 157.6,162.6 164.9,154.7 172.0,159.6" fill="#00ffb2"/>
<polygon points="179.1,164.9 172.0,159.6 179.3,151.8 186.5,156.9" fill="#00ff99"/>
<polygon points="193.7,162.5 186.5,156.9 193.7,149.1 201.0,154.6" fill="#00ff82"/>
<polygon points="208.3,160.4 201.0,154.6 208.1,146.8 215.5,152.5" fill="#00ff6f"/>
<polygon points="222.9,158.7 215.5,152.5 222.6,144.8 230.0,150.8" fill="#00ff5f"/>
<polygon points="128.0,182.2 121.2,177.6 128.8,169.5 135.6,174.0" fill="#00e4ff"/>
<polygon points="237.5,157.3 230.0,150.8 237.0,143.1 244.5,149.4" fill="#00ff51"/>
<polygon points="252.1,156.1 244.5,149.4 251.5,141.8 259.1,148.4" fill="#00ff46"/>
<polygon points="266.7,155.4 259.1,148.4 265.9,140.7 273.6,147.6" fill="#00ff3e"/>
<polygon points="142.6,178.8 135.6,174.0 143.2,165.9 150.1,170.6" fill="#00fffb"/>
<polygon points="157.1,175.8 150.1,170.6 157.6,162.6 164.6,167.6" fill="#00ffdf"/>
<polygon points="171.7,173.0 164.6,167.6 172.0,159.6 179.1,164.9" fill="#00ffc6"/>
<polygon points="186.4,170.6 179.1,164.9 186.5,156.9 193.7,162.5" fill="#00ffaf"/>
<polygon points="201.0,168.5 193.7,162.5 201.0,154.6 208.3,160.4" fill="#00ff9c"/>
<polygon points="215.7,166.7 208.3,160.4 215.5,152.5 222.9,158.7" fill="#00ff8b"/>
<polygon points="230.4,165.2 222.9,158.7 230.0,150.8 237.5,157.3" fill="#00ff7d"/>
<polygon points="245.0,164.1 237.5,157.3 244.5,149.4 252.1,156.1" fill="#00ff72"/>
<polygon points="135.0,187.2 128.0,182.2 135.6,174.0 142.6,178.8" fill="#00d4ff"/>
<polygon points="259.7,163.3 252.1,156.1 259.1,148.4 266.7,155.4" fill="#00ff6a"/>
<polygon points="149.6,184.1 142.6,178.8 150.1,170.6 157.1,175.8" fill="#00f1ff"/>
<polygon points="164.3,181.3 157.1,175.8 164.6,167.6 171.7,173.0" fill="#00fff4"/>
<polygon points="179.0,178.8 171.7,173.0 179.1,164.9 186.4,170.6" fill="#00ffdd"/>
<polygon points="193.7,176.7 186.4,170.6 193.7,162.5 201.0,168.5" fill="#00ffc9"/>
<polygon points="208.4,174.9 201.0,168.5 208.3,160.4 215.7,166.7" fill="#00ffb8"/>
<polygon points="223.2,173.4 215.7,166.7 222.9,158.7 230.4,165.2" fill="#00ffaa"/>
<polygon points="237.9,172.2 230.4,165.2 237.5,157.3 245.0,164.1" fill="#00ff9e"/>
<polygon points="252.7,171.4 245.0,164.1 252.1,156.1 259.7,163.3" fill="#00ff96"/>
<polygon points="142.0,192.6 135.0,187.2 142.6,178.8 149.6,184.1" fill="#00c2ff"/>
<polygon points="156.7,189.8 149.6,184.1 157.1,175.8 164.3,181.3" fill="#00dcff"/>
<polygon points="171.5,187.3 164.3,181.3 171.7,173.0 179.0,178.8" fill="#00f3ff"/>
<polygon points="186.3,185.1 179.0,178.8 186.4,170.6 193.7,176.7" fill="#00fff7"/>
<polygon points="201.1,183.2 193.7,176.7 201.0,168.5 208.4,174.9" fill="#00ffe6"/>
<polygon points="215.9,181.7 208.4,174.9 215.7,166.7 223.2,173.4" fill="#00ffd7"/>
<polygon points="230.7,180.5 223.2,173.4 230.4,165.2 237.9,172.2" fill="#00ffcc"/>
<polygon points="245.6,179.6 237.9,172.2 245.0,164.1 252.7,171.4" fill="#00ffc3"/>
<polygon points="149.1,198.4 142.0,192.6 149.6,184.1 156.7,189.8" fill="#00acff"/>
<polygon points="163.9,195.8 156.7,189.8 164.3,181.3 171.5,187.3" fill="#00c4ff"/>
<polygon points="178.8,193.6 171.5,187.3 179.0,178.8 186.3,185.1" fill="#00d8ff"/>
<polygon points="193.7,191.7 186.3,185.1 193.7,176.7 201.1,183.2" fill="#00eaff"/>
<polygon points="208.6,190.2 201.1,183.2 208.4,174.9 215.9,181.7" fill="#00f8ff"/>
<polygon points="223.5,188.9 215.9,181.7 223.2,173.4 230.7,180.5" fill="#00fffa"/>
<polygon points="238.4,188.0 230.7,180.5 237.9,172.2 245.6,179.6" fill="#00fff1"/>
<polygon points="156.3,204.6 149.1,198.4 156.7,189.8 163.9,195.8" fill="#0094ff"/>
<polygon points="171.2,202.3 163.9,195.8 171.5,187.3 178.8,193.6" fill="#00a9ff"/>
<polygon points="186.2,200.4 178.8,193.6 186.3,185.1 193.7,191.7" fill="#00baff"/>
<polygon points="201.1,198.8 193.7,191.7 201.1,183.2 208.6,190.2" fill="#00c9ff"/>
<polygon points="216.1,197.5 208.6,190.2 215.9,181.7 223.5,188.9" fill="#00d6ff"/>
<polygon points="231.1,196.6 223.5,188.9 230.7,180.5 238.4,188.0" fill="#00dfff"/>
<polygon points="163.6,211.2 156.3,204.6 163.9,195.8 171.2,202.3" fill="#0078ff"/>
<polygon points="178.6,209.3 171.2,202.3 178.8,193.6 186.2,200.4" fill="#008aff"/>
<polygon points="193.6,207.6 186.2,200.4 193.7,191.7 201.1,198.8" fill="#009aff"/>
<polygon points="208.7,206.3 201.1,198.8 208.6,190.2 216.1,197.5" fill="#00a6ff"/>
<polygon points="223.8,205.3 216.1,197.5 223.5,188.9 231.1,196.6" fill="#00b0ff"/>
<polygon points="171.0,218.3 163.6,211.2 171.2,202.3 178.6,209.3" fill="#005aff"/>
<polygon points="186.1,216.6 178.6,209.3 186.2,200.4 193.6,207.6" fill="#0069ff"/>
<polygon points="201.2,215.3 193.6,207.6 201.1,198.8 208.7,206.3" fill="#0076ff"/>
<polygon points="216.3,214.2 208.7,206.3 216.1,197.5 223.8,205.3" fill="#0080ff"/>
<polygon points="178.4,225.8 171.0,218.3 178.6,209.3 186.1,216.6" fill="#0038ff"/>
<polygon points="193.6,224.4 186.1,216.6 193.6,207.6 201.2,215.3" fill="#0045ff"/>
<polygon points="208.8,223.3 201.2,215.3 208.7,206.3 216.3,214.2" fill="#0050ff"/>
<polygon points="186.0,233.7 178.4,225.8 186.1,216.6 193.6,224.4" fill="#0014ff"/>
<polygon points="201.3,232.6 193.6,224.4 201.2,215.3 208.8,223.3" fill="#001eff"/>
<polygon points="193.6,242.1 186.0,233.7 193.6,224.4 201.3,232.6" fill="#0000ff"/>
</g>
<line x1="443.6" y1="191.9" x2="575.6" y2="140.8" stroke="#474747" stroke-width="1.3"/>
<line x1="575.6" y1="140.8" x2="707.4" y2="191.9" stroke="#474747" stroke-width="1.3"/>
<line x1="442.3" y1="162.1" x2="575.6" y2="113.8" stroke="#474747" stroke-width="1.3"/>
<line x1="575.6" y1="113.8" x2="708.7" y2="162.1" stroke="#474747" stroke-width="1.3"/>
<line x1="441.1" y1="131.7" x2="575.6" y2="86.4" stroke="#474747" stroke-width="1.3"/>
<line x1="575.6" y1="86.4" x2="710.1" y2="131.7" stroke="#474747" stroke-width="1.3"/>
<line x1="439.8" y1="100.7" x2="575.6" y2="58.5" stroke="#474747" stroke-width="1.3"/>
<line x1="575.6" y1="58.5" x2="711.4" y2="100.7" stroke="#474747" stroke-width="1.3"/>
<line x1="438.4" y1="69.1" x2="575.7" y2="30.0" stroke="#474747" stroke-width="1.3"/>
<line x1="575.7" y1="30.0" x2="712.8" y2="69.1" stroke="#474747" stroke-width="1.3"/>
<line x1="437.1" y1="36.8" x2="575.7" y2="1.1" stroke="#474747" stroke-width="1.3"/>
<line x1="575.7" y1="1.1" x2="714.2" y2="36.9" stroke="#474747" stroke-width="1.3"/>
<line x1="470.0" y1="181.7" x2="464.8" y2="30.2" stroke="#474747" stroke-width="1.3"/>
<line x1="496.4" y1="171.5" x2="492.5" y2="23.1" stroke="#474747" stroke-width="1.3"/>
<line x1="522.8" y1="161.2" x2="520.3" y2="15.9" stroke="#474747" stroke-width="1.3"/>
<line x1="549.2" y1="151.0" x2="548.0" y2="8.8" stroke="#474747" stroke-width="1.3"/>
<line x1="681.0" y1="181.7" x2="686.5" y2="30.2" stroke="#474747" stroke-width="1.3"/>
<line x1="654.7" y1="171.5" x2="658.8" y2="23.1" stroke="#474747" stroke-width="1.3"/>
<line x1="628.3" y1="161.2" x2="631.1" y2="15.9" stroke="#474747" stroke-width="1.3"/>
<line x1="601.9" y1="151.0" x2="603.4" y2="8.8" stroke="#474747" stroke-width="1.3"/>
<line x1="445.6" y1="240.1" x2="437.1" y2="37.4" stroke="#555" stroke-width="1.2"/>
<line x1="575.5" y1="184.6" x2="575.7" y2="1.6" stroke="#555" stroke-width="1.2"/>
<line x1="705.3" y1="240.1" x2="714.2" y2="37.4" stroke="#555" stroke-width="1.2"/>
<polygon points="575.4,310.7 445.6,240.1 575.5,184.6 705.3,240.1" fill="#656565" stroke="#1a1a1a" stroke-width="1.6" stroke-linejoin="round"/>
<polyline points="456.2,236.7 460.2,240.0 464.2,243.2 468.3,246.4 472.4,249.5 476.6,252.5 480.8,255.5 485.1,258.4 489.4,261.2 493.8,263.9 498.2,266.6 502.7,269.2 507.2,271.7 511.8,274.1 516.4,276.5 521.0,278.8 525.7,281.0 530.4,283.1 535.1,285.1 539.9,287.1 544.7,288.9 549.6,290.7 554.5,292.4 559.4,294.0 564.3,295.5 569.3,296.9 574.2,298.2 579.3,299.5 584.3,300.6 589.3,301.6" fill="none" stroke="#4ade14" stroke-width="2.2" stroke-linecap="round" stroke-linejoin="round"/>
<polyline points="473.2,228.9 477.2,232.3 481.2,235.6 485.3,238.8 489.4,241.9 493.7,244.8 498.0,247.7 502.3,250.4 506.7,253.0 511.2,255.6 515.7,258.0 520.3,260.3 524.9,262.6 529.5,264.7 534.2,266.8 538.9,268.8 543.7,270.8 548.5,272.7 553.3,274.5 558.1,276.3 563.0,278.0 567.9,279.7 572.8,281.4 577.7,283.0 582.6,284.5 587.5,286.1 592.4,287.6 597.3,289.2 602.3,290.7 607.2,292.2" fill="none" stroke="#4ade14" stroke-width="2.2" stroke-linecap="round" stroke-linejoin="round"/>
<polyline points="490.7,221.7 494.4,225.6 498.2,229.2 502.1,232.7 506.1,236.1 510.2,239.2 514.4,242.2 518.7,245.0 523.1,247.7 527.6,250.2 532.1,252.6 536.7,254.9 541.4,257.0 546.2,259.0 551.0,261.0 555.8,262.8 560.7,264.5 565.6,266.1 570.6,267.7 575.6,269.2 580.6,270.6 585.6,272.0 590.7,273.3 595.7,274.6 600.7,275.9 605.8,277.1 610.8,278.3 615.8,279.5 620.8,280.7 625.7,281.8" fill="none" stroke="#52de14" stroke-width="2.2" stroke-linecap="round" stroke-linejoin="round"/>
<polyline points="512.3,212.3 515.8,216.4 519.4,220.3 523.2,224.0 527.2,227.5 531.3,230.7 535.5,233.7 539.8,236.6 544.2,239.3 548.7,241.8 553.3,244.1 558.0,246.3 562.8,248.3 567.7,250.2 572.6,252.0 577.5,253.7 582.6,255.2 587.6,256.7 592.7,258.0 597.9,259.3 603.0,260.5 608.2,261.7 613.3,262.7 618.5,263.8 623.6,264.8 628.8,265.8 633.9,266.8 639.0,267.7 644.0,268.7 649.0,269.7" fill="none" stroke="#5ede14" stroke-width="2.2" stroke-linecap="round" stroke-linejoin="round"/>
<polyline points="540.7,200.9 544.2,205.1 547.9,209.1 551.8,212.8 555.9,216.4 560.2,219.7 564.6,222.8 569.1,225.7 573.8,228.4 578.6,230.9 583.5,233.3 588.5,235.5 593.6,237.5 598.8,239.3 604.1,240.9 609.4,242.5 614.8,243.8 620.2,245.1 625.7,246.1 631.2,247.1 636.7,247.9 642.2,248.6 647.7,249.2 653.2,249.7 658.6,250.1 664.1,250.4 669.5,250.6 674.8,250.7 680.1,250.8 685.3,250.7" fill="none" stroke="#7ade14" stroke-width="2.2" stroke-linecap="round" stroke-linejoin="round"/>
<circle cx="443.6" cy="191.9" r="1.6" fill="#000"/>
<circle cx="442.3" cy="162.1" r="1.6" fill="#000"/>
<circle cx="441.1" cy="131.7" r="1.6" fill="#000"/>
<circle cx="439.8" cy="100.7" r="1.6" fill="#000"/>
<circle cx="438.4" cy="69.1" r="1.6" fill="#000"/>
<circle cx="437.1" cy="36.8" r="1.6" fill="#000"/>
<circle cx="575.4" cy="310.7" r="1.6" fill="#000"/>
<circle cx="549.4" cy="296.6" r="1.6" fill="#000"/>
<circle cx="523.5" cy="282.5" r="1.6" fill="#000"/>
<circle cx="497.5" cy="268.3" r="1.6" fill="#000"/>
<circle cx="471.6" cy="254.2" r="1.6" fill="#000"/>
<circle cx="445.6" cy="240.1" r="1.6" fill="#000"/>
<circle cx="575.4" cy="310.7" r="1.6" fill="#000"/>
<circle cx="601.4" cy="296.6" r="1.6" fill="#000"/>
<circle cx="627.4" cy="282.5" r="1.6" fill="#000"/>
<circle cx="653.3" cy="268.3" r="1.6" fill="#000"/>
<circle cx="679.3" cy="254.2" r="1.6" fill="#000"/>
<circle cx="705.3" cy="240.1" r="1.6" fill="#000"/>
<g stroke="#0a0a0a" stroke-width="1.3" stroke-linejoin="round" stroke-opacity="0.55">
<polygon points="575.6,62.0 569.6,60.2 575.6,57.8 581.7,59.6" fill="#9cff00"/>
<polygon points="569.5,64.5 563.4,62.6 569.6,60.2 575.6,62.0" fill="#97ff00"/>
<polygon points="581.8,64.0 575.6,62.0 581.7,59.6 587.8,61.5" fill="#9cff00"/>
<polygon points="563.3,67.0 557.2,65.0 563.4,62.6 569.5,64.5" fill="#92ff00"/>
<polygon points="575.6,66.4 569.5,64.5 575.6,62.0 581.8,64.0" fill="#97ff00"/>
<polygon points="588.0,65.9 581.8,64.0 587.8,61.5 594.0,63.4" fill="#9cff00"/>
<polygon points="557.0,69.5 550.9,67.5 557.2,65.0 563.3,67.0" fill="#8dff00"/>
<polygon points="569.4,68.9 563.3,67.0 569.5,64.5 575.6,66.4" fill="#92ff00"/>
<polygon points="581.8,68.4 575.6,66.4 581.8,64.0 588.0,65.9" fill="#97ff00"/>
<polygon points="594.3,67.9 588.0,65.9 594.0,63.4 600.3,65.4" fill="#9dff00"/>
<polygon points="550.7,72.0 544.6,70.0 550.9,67.5 557.0,69.5" fill="#88ff00"/>
<polygon points="563.1,71.4 557.0,69.5 563.3,67.0 569.4,68.9" fill="#8dff00"/>
<polygon points="575.6,70.9 569.4,68.9 575.6,66.4 581.8,68.4" fill="#92ff00"/>
<polygon points="588.1,70.4 581.8,68.4 588.0,65.9 594.3,67.9" fill="#98ff00"/>
<polygon points="600.6,69.8 594.3,67.9 600.3,65.4 606.7,67.3" fill="#9dff00"/>
<polygon points="544.2,74.5 538.2,72.5 544.6,70.0 550.7,72.0" fill="#83ff00"/>
<polygon points="556.8,74.0 550.7,72.0 557.0,69.5 563.1,71.4" fill="#88ff00"/>
<polygon points="569.3,73.5 563.1,71.4 569.4,68.9 575.6,70.9" fill="#8dff00"/>
<polygon points="581.9,72.9 575.6,70.9 581.8,68.4 588.1,70.4" fill="#93ff00"/>
<polygon points="594.5,72.4 588.1,70.4 594.3,67.9 600.6,69.8" fill="#98ff00"/>
<polygon points="607.0,71.8 600.6,69.8 606.7,67.3 613.1,69.3" fill="#9dff00"/>
<polygon points="537.8,77.1 531.7,75.1 538.2,72.5 544.2,74.5" fill="#7eff00"/>
<polygon points="550.4,76.6 544.2,74.5 550.7,72.0 556.8,74.0" fill="#83ff00"/>
<polygon points="563.0,76.0 556.8,74.0 563.1,71.4 569.3,73.5" fill="#89ff00"/>
<polygon points="575.6,75.5 569.3,73.5 575.6,70.9 581.9,72.9" fill="#8eff00"/>
<polygon points="588.3,75.0 581.9,72.9 588.1,70.4 594.5,72.4" fill="#93ff00"/>
<polygon points="600.9,74.4 594.5,72.4 600.6,69.8 607.0,71.8" fill="#98ff00"/>
<polygon points="613.5,73.9 607.0,71.8 613.1,69.3 619.6,71.3" fill="#9dff00"/>
<polygon points="531.2,79.7 525.1,77.7 531.7,75.1 537.8,77.1" fill="#79ff00"/>
<polygon points="543.9,79.2 537.8,77.1 544.2,74.5 550.4,76.6" fill="#7eff00"/>
<polygon points="556.6,78.6 550.4,76.6 556.8,74.0 563.0,76.0" fill="#84ff00"/>
<polygon points="569.3,78.1 563.0,76.0 569.3,73.5 575.6,75.5" fill="#89ff00"/>
<polygon points="582.0,77.6 575.6,75.5 581.9,72.9 588.3,75.0" fill="#8eff00"/>
<polygon points="594.7,77.0 588.3,75.0 594.5,72.4 600.9,74.4" fill="#93ff00"/>
<polygon points="607.4,76.5 600.9,74.4 607.0,71.8 613.5,73.9" fill="#98ff00"/>
<polygon points="620.1,75.9 613.5,73.9 619.6,71.3 626.2,73.3" fill="#9dff00"/>
<polygon points="524.6,82.4 518.5,80.3 525.1,77.7 531.2,79.7" fill="#74ff00"/>
<polygon points="537.3,81.8 531.2,79.7 537.8,77.1 543.9,79.2" fill="#7aff00"/>
<polygon points="550.1,81.3 543.9,79.2 550.4,76.6 556.6,78.6" fill="#7fff00"/>
<polygon points="562.8,80.7 556.6,78.6 563.0,76.0 569.3,78.1" fill="#84ff00"/>
<polygon points="575.6,80.2 569.3,78.1 575.6,75.5 582.0,77.6" fill="#89ff00"/>
<polygon points="588.4,79.6 582.0,77.6 588.3,75.0 594.7,77.0" fill="#8eff00"/>
<polygon points="601.2,79.1 594.7,77.0 600.9,74.4 607.4,76.5" fill="#93ff00"/>
<polygon points="614.0,78.5 607.4,76.5 613.5,73.9 620.1,75.9" fill="#98ff00"/>
<polygon points="626.8,78.0 620.1,75.9 626.2,73.3 632.8,75.4" fill="#9dff00"/>
<polygon points="517.8,85.1 511.8,82.9 518.5,80.3 524.6,82.4" fill="#6fff00"/>
<polygon points="530.7,84.5 524.6,82.4 531.2,79.7 537.3,81.8" fill="#75ff00"/>
<polygon points="543.5,84.0 537.3,81.8 543.9,79.2 550.1,81.3" fill="#7aff00"/>
<polygon points="556.3,83.4 550.1,81.3 556.6,78.6 562.8,80.7" fill="#7fff00"/>
<polygon points="569.2,82.8 562.8,80.7 569.3,78.1 575.6,80.2" fill="#84ff00"/>
<polygon points="582.0,82.3 575.6,80.2 582.0,77.6 588.4,79.6" fill="#89ff00"/>
<polygon points="594.9,81.7 588.4,79.6 594.7,77.0 601.2,79.1" fill="#8eff00"/>
<polygon points="607.8,81.2 601.2,79.1 607.4,76.5 614.0,78.5" fill="#93ff00"/>
<polygon points="620.6,80.6 614.0,78.5 620.1,75.9 626.8,78.0" fill="#98ff00"/>
<polygon points="633.5,80.1 626.8,78.0 632.8,75.4 639.5,77.4" fill="#9dff00"/>
<polygon points="511.0,87.8 505.0,85.6 511.8,82.9 517.8,85.1" fill="#6aff00"/>
<polygon points="523.9,87.2 517.8,85.1 524.6,82.4 530.7,84.5" fill="#70ff00"/>
<polygon points="536.9,86.6 530.7,84.5 537.3,81.8 543.5,84.0" fill="#75ff00"/>
<polygon points="549.8,86.1 543.5,84.0 550.1,81.3 556.3,83.4" fill="#7aff00"/>
<polygon points="562.7,85.5 556.3,83.4 562.8,80.7 569.2,82.8" fill="#7fff00"/>
<polygon points="575.6,85.0 569.2,82.8 575.6,80.2 582.0,82.3" fill="#84ff00"/>
<polygon points="588.5,84.4 582.0,82.3 588.4,79.6 594.9,81.7" fill="#89ff00"/>
<polygon points="601.5,83.9 594.9,81.7 601.2,79.1 607.8,81.2" fill="#8eff00"/>
<polygon points="614.4,83.3 607.8,81.2 614.0,78.5 620.6,80.6" fill="#93ff00"/>
<polygon points="627.3,82.8 620.6,80.6 626.8,78.0 633.5,80.1" fill="#98ff00"/>
<polygon points="640.3,82.2 633.5,80.1 639.5,77.4 646.4,79.5" fill="#9dff00"/>
<polygon points="504.2,90.5 498.1,88.3 505.0,85.6 511.0,87.8" fill="#66ff00"/>
<polygon points="517.1,89.9 511.0,87.8 517.8,85.1 523.9,87.2" fill="#6bff00"/>
<polygon points="530.1,89.4 523.9,87.2 530.7,84.5 536.9,86.6" fill="#70ff00"/>
<polygon points="543.1,88.8 536.9,86.6 543.5,84.0 549.8,86.1" fill="#75ff00"/>
<polygon points="556.1,88.3 549.8,86.1 556.3,83.4 562.7,85.5" fill="#7aff00"/>
<polygon points="569.1,87.7 562.7,85.5 569.2,82.8 575.6,85.0" fill="#7fff00"/>
<polygon points="582.1,87.2 575.6,85.0 582.0,82.3 588.5,84.4" fill="#84ff00"/>
<polygon points="595.1,86.6 588.5,84.4 594.9,81.7 601.5,83.9" fill="#89ff00"/>
<polygon points="608.1,86.0 601.5,83.9 607.8,81.2 614.4,83.3" fill="#8eff00"/>
<polygon points="621.1,85.5 614.4,83.3 620.6,80.6 627.3,82.8" fill="#93ff00"/>
<polygon points="634.2,84.9 627.3,82.8 633.5,80.1 640.3,82.2" fill="#99ff00"/>
<polygon points="647.2,84.4 640.3,82.2 646.4,79.5 653.2,81.7" fill="#9eff00"/>
<polygon points="497.2,93.3 491.2,91.0 498.1,88.3 504.2,90.5" fill="#61ff00"/>
<polygon points="510.3,92.7 504.2,90.5 511.0,87.8 517.1,89.9" fill="#66ff00"/>
<polygon points="523.3,92.1 517.1,89.9 523.9,87.2 530.1,89.4" fill="#6bff00"/>
<polygon points="536.4,91.6 530.1,89.4 536.9,86.6 543.1,88.8" fill="#70ff00"/>
<polygon points="549.5,91.0 543.1,88.8 549.8,86.1 556.1,88.3" fill="#75ff00"/>
<polygon points="562.5,90.5 556.1,88.3 562.7,85.5 569.1,87.7" fill="#7aff00"/>
<polygon points="575.6,89.9 569.1,87.7 575.6,85.0 582.1,87.2" fill="#7fff00"/>
<polygon points="588.7,89.3 582.1,87.2 588.5,84.4 595.1,86.6" fill="#84ff00"/>
<polygon points="601.8,88.8 595.1,86.6 601.5,83.9 608.1,86.0" fill="#89ff00"/>
<polygon points="614.9,88.2 608.1,86.0 614.4,83.3 621.1,85.5" fill="#8eff00"/>
<polygon points="628.0,87.7 621.1,85.5 627.3,82.8 634.2,84.9" fill="#94ff00"/>
<polygon points="641.1,87.1 634.2,84.9 640.3,82.2 647.2,84.4" fill="#99ff00"/>
<polygon points="654.2,86.5 647.2,84.4 653.2,81.7 660.2,83.8" fill="#9eff00"/>
<polygon points="490.2,96.1 484.2,93.8 491.2,91.0 497.2,93.3" fill="#5cff00"/>
<polygon points="503.3,95.5 497.2,93.3 504.2,90.5 510.3,92.7" fill="#61ff00"/>
<polygon points="516.4,94.9 510.3,92.7 517.1,89.9 523.3,92.1" fill="#66ff00"/>
<polygon points="529.6,94.4 523.3,92.1 530.1,89.4 536.4,91.6" fill="#6bff00"/>
<polygon points="542.7,93.8 536.4,91.6 543.1,88.8 549.5,91.0" fill="#70ff00"/>
<polygon points="555.9,93.3 549.5,91.0 556.1,88.3 562.5,90.5" fill="#75ff00"/>
<polygon points="569.0,92.7 562.5,90.5 569.1,87.7 575.6,89.9" fill="#7aff00"/>
<polygon points="582.2,92.1 575.6,89.9 582.1,87.2 588.7,89.3" fill="#7fff00"/>
<polygon points="595.3,91.6 588.7,89.3 595.1,86.6 601.8,88.8" fill="#84ff00"/>
<polygon points="608.5,91.0 601.8,88.8 608.1,86.0 614.9,88.2" fill="#89ff00"/>
<polygon points="621.7,90.4 614.9,88.2 621.1,85.5 628.0,87.7" fill="#8fff00"/>
<polygon points="634.9,89.9 628.0,87.7 634.2,84.9 641.1,87.1" fill="#94ff00"/>
<polygon points="648.0,89.3 641.1,87.1 647.2,84.4 654.2,86.5" fill="#99ff00"/>
<polygon points="661.2,88.8 654.2,86.5 660.2,83.8 667.3,86.0" fill="#9eff00"/>
<polygon points="483.1,98.9 477.1,96.6 484.2,93.8 490.2,96.1" fill="#57ff00"/>
<polygon points="496.3,98.3 490.2,96.1 497.2,93.3 503.3,95.5" fill="#5cff00"/>
<polygon points="509.5,97.8 503.3,95.5 510.3,92.7 516.4,94.9" fill="#61ff00"/>
<polygon points="522.7,97.2 516.4,94.9 523.3,92.1 529.6,94.4" fill="#66ff00"/>
<polygon points="535.9,96.6 529.6,94.4 536.4,91.6 542.7,93.8" fill="#6bff00"/>
<polygon points="549.1,96.1 542.7,93.8 549.5,91.0 555.9,93.3" fill="#70ff00"/>
<polygon points="562.4,95.5 555.9,93.3 562.5,90.5 569.0,92.7" fill="#75ff00"/>
<polygon points="575.6,94.9 569.0,92.7 575.6,89.9 582.2,92.1" fill="#7aff00"/>
<polygon points="588.8,94.4 582.2,92.1 588.7,89.3 595.3,91.6" fill="#7fff00"/>
<polygon points="602.1,93.8 595.3,91.6 601.8,88.8 608.5,91.0" fill="#85ff00"/>
<polygon points="615.3,93.2 608.5,91.0 614.9,88.2 621.7,90.4" fill="#8aff00"/>
<polygon points="628.6,92.7 621.7,90.4 628.0,87.7 634.9,89.9" fill="#8fff00"/>
<polygon points="641.8,92.1 634.9,89.9 641.1,87.1 648.0,89.3" fill="#94ff00"/>
<polygon points="655.1,91.5 648.0,89.3 654.2,86.5 661.2,88.8" fill="#99ff00"/>
<polygon points="668.4,91.0 661.2,88.8 667.3,86.0 674.4,88.2" fill="#9eff00"/>
<polygon points="475.9,101.8 469.9,99.5 477.1,96.6 483.1,98.9" fill="#52ff00"/>
<polygon points="489.1,101.2 483.1,98.9 490.2,96.1 496.3,98.3" fill="#57ff00"/>
<polygon points="502.4,100.6 496.3,98.3 503.3,95.5 509.5,97.8" fill="#5cff00"/>
<polygon points="515.7,100.1 509.5,97.8 516.4,94.9 522.7,97.2" fill="#61ff00"/>
<polygon points="529.0,99.5 522.7,97.2 529.6,94.4 535.9,96.6" fill="#66ff00"/>
<polygon points="542.3,98.9 535.9,96.6 542.7,93.8 549.1,96.1" fill="#6bff00"/>
<polygon points="555.6,98.4 549.1,96.1 555.9,93.3 562.4,95.5" fill="#70ff00"/>
<polygon points="568.9,97.8 562.4,95.5 569.0,92.7 575.6,94.9" fill="#75ff00"/>
<polygon points="582.3,97.2 575.6,94.9 582.2,92.1 588.8,94.4" fill="#7aff00"/>
<polygon points="595.6,96.7 588.8,94.4 595.3,91.6 602.1,93.8" fill="#80ff00"/>
<polygon points="608.9,96.1 602.1,93.8 608.5,91.0 615.3,93.2" fill="#85ff00"/>
<polygon points="622.2,95.5 615.3,93.2 621.7,90.4 628.6,92.7" fill="#8aff00"/>
<polygon points="635.6,94.9 628.6,92.7 634.9,89.9 641.8,92.1" fill="#8fff00"/>
<polygon points="648.9,94.4 641.8,92.1 648.0,89.3 655.1,91.5" fill="#94ff00"/>
<polygon points="662.3,93.8 655.1,91.5 661.2,88.8 668.4,91.0" fill="#99ff00"/>
<polygon points="675.6,93.2 668.4,91.0 674.4,88.2 681.6,90.4" fill="#9eff00"/>
<polygon points="468.6,104.7 462.6,102.3 469.9,99.5 475.9,101.8" fill="#4dff00"/>
<polygon points="481.9,104.1 475.9,101.8 483.1,98.9 489.1,101.2" fill="#52ff00"/>
<polygon points="495.3,103.5 489.1,101.2 496.3,98.3 502.4,100.6" fill="#57ff00"/>
<polygon points="508.7,102.9 502.4,100.6 509.5,97.8 515.7,100.1" fill="#5cff00"/>
<polygon points="522.0,102.4 515.7,100.1 522.7,97.2 529.0,99.5" fill="#61ff00"/>
<polygon points="535.4,101.8 529.0,99.5 535.9,96.6 542.3,98.9" fill="#66ff00"/>
<polygon points="548.8,101.2 542.3,98.9 549.1,96.1 555.6,98.4" fill="#6bff00"/>
<polygon points="562.2,100.7 555.6,98.4 562.4,95.5 568.9,97.8" fill="#70ff00"/>
<polygon points="575.6,100.1 568.9,97.8 575.6,94.9 582.3,97.2" fill="#76ff00"/>
<polygon points="589.0,99.5 582.3,97.2 588.8,94.4 595.6,96.7" fill="#7bff00"/>
<polygon points="602.4,99.0 595.6,96.7 602.1,93.8 608.9,96.1" fill="#80ff00"/>
<polygon points="615.8,98.4 608.9,96.1 615.3,93.2 622.2,95.5" fill="#85ff00"/>
<polygon points="629.2,97.8 622.2,95.5 628.6,92.7 635.6,94.9" fill="#8aff00"/>
<polygon points="642.6,97.2 635.6,94.9 641.8,92.1 648.9,94.4" fill="#8fff00"/>
<polygon points="656.1,96.7 648.9,94.4 655.1,91.5 662.3,93.8" fill="#94ff00"/>
<polygon points="669.5,96.1 662.3,93.8 668.4,91.0 675.6,93.2" fill="#99ff00"/>
<polygon points="682.9,95.5 675.6,93.2 681.6,90.4 689.0,92.7" fill="#9eff00"/>
<polygon points="461.2,107.6 455.2,105.2 462.6,102.3 468.6,104.7" fill="#48ff00"/>
<polygon points="474.6,107.0 468.6,104.7 475.9,101.8 481.9,104.1" fill="#4dff00"/>
<polygon points="488.1,106.5 481.9,104.1 489.1,101.2 495.3,103.5" fill="#52ff00"/>
<polygon points="501.5,105.9 495.3,103.5 502.4,100.6 508.7,102.9" fill="#57ff00"/>
<polygon points="515.0,105.3 508.7,102.9 515.7,100.1 522.0,102.4" fill="#5cff00"/>
<polygon points="528.4,104.7 522.0,102.4 529.0,99.5 535.4,101.8" fill="#61ff00"/>
<polygon points="541.9,104.2 535.4,101.8 542.3,98.9 548.8,101.2" fill="#66ff00"/>
<polygon points="555.4,103.6 548.8,101.2 555.6,98.4 562.2,100.7" fill="#6bff00"/>
<polygon points="568.9,103.0 562.2,100.7 568.9,97.8 575.6,100.1" fill="#71ff00"/>
<polygon points="582.3,102.4 575.6,100.1 582.3,97.2 589.0,99.5" fill="#76ff00"/>
<polygon points="595.8,101.9 589.0,99.5 595.6,96.7 602.4,99.0" fill="#7bff00"/>
<polygon points="609.3,101.3 602.4,99.0 608.9,96.1 615.8,98.4" fill="#80ff00"/>
<polygon points="622.8,100.7 615.8,98.4 622.2,95.5 629.2,97.8" fill="#85ff00"/>
<polygon points="636.3,100.1 629.2,97.8 635.6,94.9 642.6,97.2" fill="#8aff00"/>
<polygon points="649.8,99.6 642.6,97.2 648.9,94.4 656.1,96.7" fill="#8fff00"/>
<polygon points="663.3,99.0 656.1,96.7 662.3,93.8 669.5,96.1" fill="#94ff00"/>
<polygon points="676.8,98.4 669.5,96.1 675.6,93.2 682.9,95.5" fill="#99ff00"/>
<polygon points="690.4,97.8 682.9,95.5 689.0,92.7 696.4,95.0" fill="#9eff00"/>
<polygon points="453.7,110.6 447.7,108.2 455.2,105.2 461.2,107.6" fill="#43ff00"/>
<polygon points="467.2,110.0 461.2,107.6 468.6,104.7 474.6,107.0" fill="#48ff00"/>
<polygon points="480.8,109.4 474.6,107.0 481.9,104.1 488.1,106.5" fill="#4dff00"/>
<polygon points="494.3,108.8 488.1,106.5 495.3,103.5 501.5,105.9" fill="#52ff00"/>
<polygon points="507.8,108.3 501.5,105.9 508.7,102.9 515.0,105.3" fill="#57ff00"/>
<polygon points="521.4,107.7 515.0,105.3 522.0,102.4 528.4,104.7" fill="#5cff00"/>
<polygon points="534.9,107.1 528.4,104.7 535.4,101.8 541.9,104.2" fill="#61ff00"/>
<polygon points="548.5,106.5 541.9,104.2 548.8,101.2 555.4,103.6" fill="#66ff00"/>
<polygon points="562.0,106.0 555.4,103.6 562.2,100.7 568.9,103.0" fill="#6cff00"/>
<polygon points="575.6,105.4 568.9,103.0 575.6,100.1 582.3,102.4" fill="#71ff00"/>
<polygon points="589.2,104.8 582.3,102.4 589.0,99.5 595.8,101.9" fill="#76ff00"/>
<polygon points="602.7,104.2 595.8,101.9 602.4,99.0 609.3,101.3" fill="#7bff00"/>
<polygon points="616.3,103.7 609.3,101.3 615.8,98.4 622.8,100.7" fill="#80ff00"/>
<polygon points="629.9,103.1 622.8,100.7 629.2,97.8 636.3,100.1" fill="#85ff00"/>
<polygon points="643.5,102.5 636.3,100.1 642.6,97.2 649.8,99.6" fill="#8aff00"/>
<polygon points="657.1,101.9 649.8,99.6 656.1,96.7 663.3,99.0" fill="#8fff00"/>
<polygon points="670.7,101.3 663.3,99.0 669.5,96.1 676.8,98.4" fill="#94ff00"/>
<polygon points="684.3,100.8 676.8,98.4 682.9,95.5 690.4,97.8" fill="#99ff00"/>
<polygon points="697.9,100.2 690.4,97.8 696.4,95.0 703.9,97.3" fill="#9fff00"/>
<polygon points="446.2,113.6 440.2,111.1 447.7,108.2 453.7,110.6" fill="#3eff00"/>
<polygon points="459.8,113.0 453.7,110.6 461.2,107.6 467.2,110.0" fill="#43ff00"/>
<polygon points="473.4,112.4 467.2,110.0 474.6,107.0 480.8,109.4" fill="#48ff00"/>
<polygon points="487.0,111.8 480.8,109.4 488.1,106.5 494.3,108.8" fill="#4dff00"/>
<polygon points="500.6,111.3 494.3,108.8 501.5,105.9 507.8,108.3" fill="#52ff00"/>
<polygon points="514.2,110.7 507.8,108.3 515.0,105.3 521.4,107.7" fill="#57ff00"/>
<polygon points="527.9,110.1 521.4,107.7 528.4,104.7 534.9,107.1" fill="#5cff00"/>
<polygon points="541.5,109.5 534.9,107.1 541.9,104.2 548.5,106.5" fill="#62ff00"/>
<polygon points="555.1,108.9 548.5,106.5 555.4,103.6 562.0,106.0" fill="#67ff00"/>
<polygon points="568.8,108.4 562.0,106.0 568.9,103.0 575.6,105.4" fill="#6cff00"/>
<polygon points="582.4,107.8 575.6,105.4 582.3,102.4 589.2,104.8" fill="#71ff00"/>
<polygon points="596.1,107.2 589.2,104.8 595.8,101.9 602.7,104.2" fill="#76ff00"/>
<polygon points="609.7,106.6 602.7,104.2 609.3,101.3 616.3,103.7" fill="#7bff00"/>
<polygon points="623.4,106.0 616.3,103.7 622.8,100.7 629.9,103.1" fill="#80ff00"/>
<polygon points="637.1,105.5 629.9,103.1 636.3,100.1 643.5,102.5" fill="#85ff00"/>
<polygon points="650.7,104.9 643.5,102.5 649.8,99.6 657.1,101.9" fill="#8aff00"/>
<polygon points="664.4,104.3 657.1,101.9 663.3,99.0 670.7,101.3" fill="#8fff00"/>
<polygon points="678.1,103.7 670.7,101.3 676.8,98.4 684.3,100.8" fill="#95ff00"/>
<polygon points="691.8,103.1 684.3,100.8 690.4,97.8 697.9,100.2" fill="#9aff00"/>
<polygon points="705.5,102.6 697.9,100.2 703.9,97.3 711.5,99.6" fill="#9fff00"/>
<polygon points="452.2,116.0 446.2,113.6 453.7,110.6 459.8,113.0" fill="#3eff00"/>
<polygon points="465.9,115.5 459.8,113.0 467.2,110.0 473.4,112.4" fill="#43ff00"/>
<polygon points="479.6,114.9 473.4,112.4 480.8,109.4 487.0,111.8" fill="#48ff00"/>
<polygon points="493.3,114.3 487.0,111.8 494.3,108.8 500.6,111.3" fill="#4dff00"/>
<polygon points="507.0,113.7 500.6,111.3 507.8,108.3 514.2,110.7" fill="#52ff00"/>
<polygon points="520.7,113.1 514.2,110.7 521.4,107.7 527.9,110.1" fill="#57ff00"/>
<polygon points="534.4,112.5 527.9,110.1 534.9,107.1 541.5,109.5" fill="#5dff00"/>
<polygon points="548.1,112.0 541.5,109.5 548.5,106.5 555.1,108.9" fill="#62ff00"/>
<polygon points="561.9,111.4 555.1,108.9 562.0,106.0 568.8,108.4" fill="#67ff00"/>
<polygon points="575.6,110.8 568.8,108.4 575.6,105.4 582.4,107.8" fill="#6cff00"/>
<polygon points="589.3,110.2 582.4,107.8 589.2,104.8 596.1,107.2" fill="#71ff00"/>
<polygon points="603.1,109.6 596.1,107.2 602.7,104.2 609.7,106.6" fill="#76ff00"/>
<polygon points="616.8,109.0 609.7,106.6 616.3,103.7 623.4,106.0" fill="#7bff00"/>
<polygon points="630.6,108.5 623.4,106.0 629.9,103.1 637.1,105.5" fill="#80ff00"/>
<polygon points="644.3,107.9 637.1,105.5 643.5,102.5 650.7,104.9" fill="#85ff00"/>
<polygon points="658.1,107.3 650.7,104.9 657.1,101.9 664.4,104.3" fill="#8aff00"/>
<polygon points="671.8,106.7 664.4,104.3 670.7,101.3 678.1,103.7" fill="#90ff00"/>
<polygon points="685.6,106.1 678.1,103.7 684.3,100.8 691.8,103.1" fill="#95ff00"/>
<polygon points="699.4,105.5 691.8,103.1 697.9,100.2 705.5,102.6" fill="#9aff00"/>
<polygon points="458.3,118.5 452.2,116.0 459.8,113.0 465.9,115.5" fill="#3eff00"/>
<polygon points="472.1,118.0 465.9,115.5 473.4,112.4 479.6,114.9" fill="#43ff00"/>
<polygon points="485.9,117.4 479.6,114.9 487.0,111.8 493.3,114.3" fill="#48ff00"/>
<polygon points="499.7,116.8 493.3,114.3 500.6,111.3 507.0,113.7" fill="#4dff00"/>
<polygon points="513.4,116.2 507.0,113.7 514.2,110.7 520.7,113.1" fill="#52ff00"/>
<polygon points="527.2,115.6 520.7,113.1 527.9,110.1 534.4,112.5" fill="#58ff00"/>
<polygon points="541.1,115.0 534.4,112.5 541.5,109.5 548.1,112.0" fill="#5dff00"/>
<polygon points="554.9,114.4 548.1,112.0 555.1,108.9 561.9,111.4" fill="#62ff00"/>
<polygon points="568.7,113.9 561.9,111.4 568.8,108.4 575.6,110.8" fill="#67ff00"/>
<polygon points="582.5,113.3 575.6,110.8 582.4,107.8 589.3,110.2" fill="#6cff00"/>
<polygon points="596.3,112.7 589.3,110.2 596.1,107.2 603.1,109.6" fill="#71ff00"/>
<polygon points="610.2,112.1 603.1,109.6 609.7,106.6 616.8,109.0" fill="#76ff00"/>
<polygon points="624.0,111.5 616.8,109.0 623.4,106.0 630.6,108.5" fill="#7bff00"/>
<polygon points="637.8,110.9 630.6,108.5 637.1,105.5 644.3,107.9" fill="#80ff00"/>
<polygon points="651.7,110.3 644.3,107.9 650.7,104.9 658.1,107.3" fill="#85ff00"/>
<polygon points="665.5,109.7 658.1,107.3 664.4,104.3 671.8,106.7" fill="#8bff00"/>
<polygon points="679.4,109.2 671.8,106.7 678.1,103.7 685.6,106.1" fill="#90ff00"/>
<polygon points="693.2,108.6 685.6,106.1 691.8,103.1 699.4,105.5" fill="#95ff00"/>
<polygon points="464.5,121.1 458.3,118.5 465.9,115.5 472.1,118.0" fill="#3eff00"/>
<polygon points="478.4,120.5 472.1,118.0 479.6,114.9 485.9,117.4" fill="#43ff00"/>
<polygon points="492.2,119.9 485.9,117.4 493.3,114.3 499.7,116.8" fill="#48ff00"/>
<polygon points="506.1,119.3 499.7,116.8 507.0,113.7 513.4,116.2" fill="#4eff00"/>
<polygon points="520.0,118.7 513.4,116.2 520.7,113.1 527.2,115.6" fill="#53ff00"/>
<polygon points="533.9,118.1 527.2,115.6 534.4,112.5 541.1,115.0" fill="#58ff00"/>
<polygon points="547.8,117.5 541.1,115.0 548.1,112.0 554.9,114.4" fill="#5dff00"/>
<polygon points="561.7,116.9 554.9,114.4 561.9,111.4 568.7,113.9" fill="#62ff00"/>
<polygon points="575.6,116.4 568.7,113.9 575.6,110.8 582.5,113.3" fill="#67ff00"/>
<polygon points="589.5,115.8 582.5,113.3 589.3,110.2 596.3,112.7" fill="#6cff00"/>
<polygon points="603.4,115.2 596.3,112.7 603.1,109.6 610.2,112.1" fill="#71ff00"/>
<polygon points="617.3,114.6 610.2,112.1 616.8,109.0 624.0,111.5" fill="#76ff00"/>
<polygon points="631.3,114.0 624.0,111.5 630.6,108.5 637.8,110.9" fill="#7bff00"/>
<polygon points="645.2,113.4 637.8,110.9 644.3,107.9 651.7,110.3" fill="#81ff00"/>
<polygon points="659.1,112.8 651.7,110.3 658.1,107.3 665.5,109.7" fill="#86ff00"/>
<polygon points="673.1,112.2 665.5,109.7 671.8,106.7 679.4,109.2" fill="#8bff00"/>
<polygon points="687.0,111.6 679.4,109.2 685.6,106.1 693.2,108.6" fill="#90ff00"/>
<polygon points="470.8,123.6 464.5,121.1 472.1,118.0 478.4,120.5" fill="#3eff00"/>
<polygon points="484.7,123.0 478.4,120.5 485.9,117.4 492.2,119.9" fill="#43ff00"/>
<polygon points="498.7,122.4 492.2,119.9 499.7,116.8 506.1,119.3" fill="#49ff00"/>
<polygon points="512.7,121.8 506.1,119.3 513.4,116.2 520.0,118.7" fill="#4eff00"/>
<polygon points="526.6,121.3 520.0,118.7 527.2,115.6 533.9,118.1" fill="#53ff00"/>
<polygon points="540.6,120.7 533.9,118.1 541.1,115.0 547.8,117.5" fill="#58ff00"/>
<polygon points="554.6,120.1 547.8,117.5 554.9,114.4 561.7,116.9" fill="#5dff00"/>
<polygon points="568.6,119.5 561.7,116.9 568.7,113.9 575.6,116.4" fill="#62ff00"/>
<polygon points="582.6,118.9 575.6,116.4 582.5,113.3 589.5,115.8" fill="#67ff00"/>
<polygon points="596.6,118.3 589.5,115.8 596.3,112.7 603.4,115.2" fill="#6cff00"/>
<polygon points="610.6,117.7 603.4,115.2 610.2,112.1 617.3,114.6" fill="#71ff00"/>
<polygon points="624.6,117.1 617.3,114.6 624.0,111.5 631.3,114.0" fill="#76ff00"/>
<polygon points="638.6,116.5 631.3,114.0 637.8,110.9 645.2,113.4" fill="#7cff00"/>
<polygon points="652.6,115.9 645.2,113.4 651.7,110.3 659.1,112.8" fill="#81ff00"/>
<polygon points="666.7,115.3 659.1,112.8 665.5,109.7 673.1,112.2" fill="#86ff00"/>
<polygon points="680.7,114.7 673.1,112.2 679.4,109.2 687.0,111.6" fill="#8bff00"/>
<polygon points="477.1,126.2 470.8,123.6 478.4,120.5 484.7,123.0" fill="#3fff00"/>
<polygon points="491.2,125.6 484.7,123.0 492.2,119.9 498.7,122.4" fill="#44ff00"/>
<polygon points="505.2,125.0 498.7,122.4 506.1,119.3 512.7,121.8" fill="#49ff00"/>
<polygon points="519.3,124.4 512.7,121.8 520.0,118.7 526.6,121.3" fill="#4eff00"/>
<polygon points="533.3,123.8 526.6,121.3 533.9,118.1 540.6,120.7" fill="#53ff00"/>
<polygon points="547.4,123.2 540.6,120.7 547.8,117.5 554.6,120.1" fill="#58ff00"/>
<polygon points="561.5,122.6 554.6,120.1 561.7,116.9 568.6,119.5" fill="#5dff00"/>
<polygon points="575.6,122.0 568.6,119.5 575.6,116.4 582.6,118.9" fill="#62ff00"/>
<polygon points="589.7,121.5 582.6,118.9 589.5,115.8 596.6,118.3" fill="#67ff00"/>
<polygon points="603.8,120.9 596.6,118.3 603.4,115.2 610.6,117.7" fill="#6cff00"/>
<polygon points="617.9,120.3 610.6,117.7 617.3,114.6 624.6,117.1" fill="#72ff00"/>
<polygon points="632.0,119.7 624.6,117.1 631.3,114.0 638.6,116.5" fill="#77ff00"/>
<polygon points="646.1,119.1 638.6,116.5 645.2,113.4 652.6,115.9" fill="#7cff00"/>
<polygon points="660.2,118.5 652.6,115.9 659.1,112.8 666.7,115.3" fill="#81ff00"/>
<polygon points="674.3,117.9 666.7,115.3 673.1,112.2 680.7,114.7" fill="#86ff00"/>
<polygon points="483.5,128.8 477.1,126.2 484.7,123.0 491.2,125.6" fill="#3fff00"/>
<polygon points="497.7,128.2 491.2,125.6 498.7,122.4 505.2,125.0" fill="#44ff00"/>
<polygon points="511.8,127.6 505.2,125.0 512.7,121.8 519.3,124.4" fill="#49ff00"/>
<polygon points="526.0,127.0 519.3,124.4 526.6,121.3 533.3,123.8" fill="#4eff00"/>
<polygon points="540.1,126.5 533.3,123.8 540.6,120.7 547.4,123.2" fill="#53ff00"/>
<polygon points="554.3,125.9 547.4,123.2 554.6,120.1 561.5,122.6" fill="#58ff00"/>
<polygon points="568.5,125.3 561.5,122.6 568.6,119.5 575.6,122.0" fill="#5dff00"/>
<polygon points="582.7,124.7 575.6,122.0 582.6,118.9 589.7,121.5" fill="#62ff00"/>
<polygon points="596.8,124.1 589.7,121.5 596.6,118.3 603.8,120.9" fill="#67ff00"/>
<polygon points="611.0,123.5 603.8,120.9 610.6,117.7 617.9,120.3" fill="#6dff00"/>
<polygon points="625.2,122.9 617.9,120.3 624.6,117.1 632.0,119.7" fill="#72ff00"/>
<polygon points="639.4,122.3 632.0,119.7 638.6,116.5 646.1,119.1" fill="#77ff00"/>
<polygon points="653.6,121.7 646.1,119.1 652.6,115.9 660.2,118.5" fill="#7cff00"/>
<polygon points="667.8,121.1 660.2,118.5 666.7,115.3 674.3,117.9" fill="#81ff00"/>
<polygon points="490.1,131.5 483.5,128.8 491.2,125.6 497.7,128.2" fill="#3fff00"/>
<polygon points="504.3,130.9 497.7,128.2 505.2,125.0 511.8,127.6" fill="#44ff00"/>
<polygon points="518.5,130.3 511.8,127.6 519.3,124.4 526.0,127.0" fill="#49ff00"/>
<polygon points="532.8,129.7 526.0,127.0 533.3,123.8 540.1,126.5" fill="#4eff00"/>
<polygon points="547.0,129.1 540.1,126.5 547.4,123.2 554.3,125.9" fill="#53ff00"/>
<polygon points="561.3,128.5 554.3,125.9 561.5,122.6 568.5,125.3" fill="#58ff00"/>
<polygon points="575.6,127.9 568.5,125.3 575.6,122.0 582.7,124.7" fill="#5dff00"/>
<polygon points="589.8,127.3 582.7,124.7 589.7,121.5 596.8,124.1" fill="#62ff00"/>
<polygon points="604.1,126.7 596.8,124.1 603.8,120.9 611.0,123.5" fill="#68ff00"/>
<polygon points="618.4,126.1 611.0,123.5 617.9,120.3 625.2,122.9" fill="#6dff00"/>
<polygon points="632.7,125.5 625.2,122.9 632.0,119.7 639.4,122.3" fill="#72ff00"/>
<polygon points="647.0,124.9 639.4,122.3 646.1,119.1 653.6,121.7" fill="#77ff00"/>
<polygon points="661.3,124.3 653.6,121.7 660.2,118.5 667.8,121.1" fill="#7cff00"/>
<polygon points="496.7,134.2 490.1,131.5 497.7,128.2 504.3,130.9" fill="#3fff00"/>
<polygon points="511.0,133.6 504.3,130.9 511.8,127.6 518.5,130.3" fill="#44ff00"/>
<polygon points="525.3,133.0 518.5,130.3 526.0,127.0 532.8,129.7" fill="#49ff00"/>
<polygon points="539.7,132.4 532.8,129.7 540.1,126.5 547.0,129.1" fill="#4eff00"/>
<polygon points="554.0,131.8 547.0,129.1 554.3,125.9 561.3,128.5" fill="#53ff00"/>
<polygon points="568.4,131.2 561.3,128.5 568.5,125.3 575.6,127.9" fill="#58ff00"/>
<polygon points="582.8,130.6 575.6,127.9 582.7,124.7 589.8,127.3" fill="#5eff00"/>
<polygon points="597.1,130.0 589.8,127.3 596.8,124.1 604.1,126.7" fill="#63ff00"/>
<polygon points="611.5,129.4 604.1,126.7 611.0,123.5 618.4,126.1" fill="#68ff00"/>
<polygon points="625.9,128.7 618.4,126.1 625.2,122.9 632.7,125.5" fill="#6dff00"/>
<polygon points="640.3,128.1 632.7,125.5 639.4,122.3 647.0,124.9" fill="#72ff00"/>
<polygon points="654.6,127.5 647.0,124.9 653.6,121.7 661.3,124.3" fill="#77ff00"/>
<polygon points="503.4,136.9 496.7,134.2 504.3,130.9 511.0,133.6" fill="#3fff00"/>
<polygon points="517.8,136.3 511.0,133.6 518.5,130.3 525.3,133.0" fill="#44ff00"/>
<polygon points="532.2,135.7 525.3,133.0 532.8,129.7 539.7,132.4" fill="#49ff00"/>
<polygon points="546.7,135.1 539.7,132.4 547.0,129.1 554.0,131.8" fill="#4eff00"/>
<polygon points="561.1,134.5 554.0,131.8 561.3,128.5 568.4,131.2" fill="#53ff00"/>
<polygon points="575.6,133.9 568.4,131.2 575.6,127.9 582.8,130.6" fill="#59ff00"/>
<polygon points="590.0,133.3 582.8,130.6 589.8,127.3 597.1,130.0" fill="#5eff00"/>
<polygon points="604.5,132.7 597.1,130.0 604.1,126.7 611.5,129.4" fill="#63ff00"/>
<polygon points="619.0,132.1 611.5,129.4 618.4,126.1 625.9,128.7" fill="#68ff00"/>
<polygon points="633.4,131.5 625.9,128.7 632.7,125.5 640.3,128.1" fill="#6dff00"/>
<polygon points="647.9,130.8 640.3,128.1 647.0,124.9 654.6,127.5" fill="#72ff00"/>
<polygon points="510.1,139.7 503.4,136.9 511.0,133.6 517.8,136.3" fill="#3fff00"/>
<polygon points="524.7,139.1 517.8,136.3 525.3,133.0 532.2,135.7" fill="#44ff00"/>
<polygon points="539.2,138.5 532.2,135.7 539.7,132.4 546.7,135.1" fill="#49ff00"/>
<polygon points="553.7,137.9 546.7,135.1 554.0,131.8 561.1,134.5" fill="#4eff00"/>
<polygon points="568.3,137.3 561.1,134.5 568.4,131.2 575.6,133.9" fill="#54ff00"/>
<polygon points="582.8,136.6 575.6,133.9 582.8,130.6 590.0,133.3" fill="#59ff00"/>
<polygon points="597.4,136.0 590.0,133.3 597.1,130.0 604.5,132.7" fill="#5eff00"/>
<polygon points="612.0,135.4 604.5,132.7 611.5,129.4 619.0,132.1" fill="#63ff00"/>
<polygon points="626.5,134.8 619.0,132.1 625.9,128.7 633.4,131.5" fill="#68ff00"/>
<polygon points="641.1,134.2 633.4,131.5 640.3,128.1 647.9,130.8" fill="#6dff00"/>
<polygon points="517.0,142.5 510.1,139.7 517.8,136.3 524.7,139.1" fill="#3fff00"/>
<polygon points="531.6,141.9 524.7,139.1 532.2,135.7 539.2,138.5" fill="#44ff00"/>
<polygon points="546.3,141.3 539.2,138.5 546.7,135.1 553.7,137.9" fill="#4aff00"/>
<polygon points="560.9,140.7 553.7,137.9 561.1,134.5 568.3,137.3" fill="#4fff00"/>
<polygon points="575.6,140.0 568.3,137.3 575.6,133.9 582.8,136.6" fill="#54ff00"/>
<polygon points="590.2,139.4 582.8,136.6 590.0,133.3 597.4,136.0" fill="#59ff00"/>
<polygon points="604.9,138.8 597.4,136.0 604.5,132.7 612.0,135.4" fill="#5eff00"/>
<polygon points="619.5,138.2 612.0,135.4 619.0,132.1 626.5,134.8" fill="#63ff00"/>
<polygon points="634.2,137.6 626.5,134.8 633.4,131.5 641.1,134.2" fill="#68ff00"/>
<polygon points="524.0,145.4 517.0,142.5 524.7,139.1 531.6,141.9" fill="#3fff00"/>
<polygon points="538.7,144.7 531.6,141.9 539.2,138.5 546.3,141.3" fill="#45ff00"/>
<polygon points="553.4,144.1 546.3,141.3 553.7,137.9 560.9,140.7" fill="#4aff00"/>
<polygon points="568.2,143.5 560.9,140.7 568.3,137.3 575.6,140.0" fill="#4fff00"/>
<polygon points="582.9,142.9 575.6,140.0 582.8,136.6 590.2,139.4" fill="#54ff00"/>
<polygon points="597.7,142.3 590.2,139.4 597.4,136.0 604.9,138.8" fill="#59ff00"/>
<polygon points="612.4,141.6 604.9,138.8 612.0,135.4 619.5,138.2" fill="#5eff00"/>
<polygon points="627.2,141.0 619.5,138.2 626.5,134.8 634.2,137.6" fill="#63ff00"/>
<polygon points="531.0,148.2 524.0,145.4 531.6,141.9 538.7,144.7" fill="#40ff00"/>
<polygon points="545.9,147.6 538.7,144.7 546.3,141.3 553.4,144.1" fill="#45ff00"/>
<polygon points="560.7,147.0 553.4,144.1 560.9,140.7 568.2,143.5" fill="#4aff00"/>
<polygon points="575.6,146.4 568.2,143.5 575.6,140.0 582.9,142.9" fill="#4fff00"/>
<polygon points="590.4,145.8 582.9,142.9 590.2,139.4 597.7,142.3" fill="#54ff00"/>
<polygon points="605.3,145.1 597.7,142.3 604.9,138.8 612.4,141.6" fill="#59ff00"/>
<polygon points="620.1,144.5 612.4,141.6 619.5,138.2 627.2,141.0" fill="#5eff00"/>
<polygon points="538.2,151.2 531.0,148.2 538.7,144.7 545.9,147.6" fill="#40ff00"/>
<polygon points="553.1,150.5 545.9,147.6 553.4,144.1 560.7,147.0" fill="#45ff00"/>
<polygon points="568.1,149.9 560.7,147.0 568.2,143.5 575.6,146.4" fill="#4aff00"/>
<polygon points="583.0,149.3 575.6,146.4 582.9,142.9 590.4,145.8" fill="#4fff00"/>
<polygon points="598.0,148.7 590.4,145.8 597.7,142.3 605.3,145.1" fill="#54ff00"/>
<polygon points="612.9,148.0 605.3,145.1 612.4,141.6 620.1,144.5" fill="#59ff00"/>
<polygon points="545.5,154.1 538.2,151.2 545.9,147.6 553.1,150.5" fill="#40ff00"/>
<polygon points="560.5,153.5 553.1,150.5 560.7,147.0 568.1,149.9" fill="#45ff00"/>
<polygon points="575.5,152.9 568.1,149.9 575.6,146.4 583.0,149.3" fill="#4aff00"/>
<polygon points="590.6,152.2 583.0,149.3 590.4,145.8 598.0,148.7" fill="#4fff00"/>
<polygon points="605.7,151.6 598.0,148.7 605.3,145.1 612.9,148.0" fill="#54ff00"/>
<polygon points="552.8,157.1 545.5,154.1 553.1,150.5 560.5,153.5" fill="#40ff00"/>
<polygon points="568.0,156.5 560.5,153.5 568.1,149.9 575.5,152.9" fill="#45ff00"/>
<polygon points="583.1,155.9 575.5,152.9 583.0,149.3 590.6,152.2" fill="#4aff00"/>
<polygon points="598.3,155.2 590.6,152.2 598.0,148.7 605.7,151.6" fill="#4fff00"/>
<polygon points="560.3,160.2 552.8,157.1 560.5,153.5 568.0,156.5" fill="#40ff00"/>
<polygon points="575.5,159.6 568.0,156.5 575.5,152.9 583.1,155.9" fill="#45ff00"/>
<polygon points="590.8,158.9 583.1,155.9 590.6,152.2 598.3,155.2" fill="#4aff00"/>
<polygon points="567.9,163.3 560.3,160.2 568.0,156.5 575.5,159.6" fill="#40ff00"/>
<polygon points="583.2,162.6 575.5,159.6 583.1,155.9 590.8,158.9" fill="#45ff00"/>
<polygon points="575.5,166.4 567.9,163.3 575.5,159.6 583.2,162.6" fill="#40ff00"/>
</g>
<line x1="243.7" y1="600.6" x2="377.3" y2="547.6" stroke="#474747" stroke-width="1.3"/>
<line x1="377.3" y1="547.6" x2="511.2" y2="600.4" stroke="#474747" stroke-width="1.3"/>
<line x1="242.9" y1="581.3" x2="377.3" y2="530.1" stroke="#474747" stroke-width="1.3"/>
<line x1="377.3" y1="530.1" x2="512.0" y2="581.1" stroke="#474747" stroke-width="1.3"/>
<line x1="242.0" y1="561.8" x2="377.3" y2="512.5" stroke="#474747" stroke-width="1.3"/>
<line x1="377.3" y1="512.5" x2="512.9" y2="561.6" stroke="#474747" stroke-width="1.3"/>
<line x1="241.2" y1="542.1" x2="377.3" y2="494.7" stroke="#474747" stroke-width="1.3"/>
<line x1="377.3" y1="494.7" x2="513.7" y2="541.9" stroke="#474747" stroke-width="1.3"/>
<line x1="240.4" y1="522.2" x2="377.3" y2="476.7" stroke="#474747" stroke-width="1.3"/>
<line x1="377.3" y1="476.7" x2="514.6" y2="521.9" stroke="#474747" stroke-width="1.3"/>
<line x1="239.5" y1="501.9" x2="377.3" y2="458.5" stroke="#474747" stroke-width="1.3"/>
<line x1="377.3" y1="458.5" x2="515.5" y2="501.6" stroke="#474747" stroke-width="1.3"/>
<line x1="238.7" y1="481.5" x2="377.3" y2="440.1" stroke="#474747" stroke-width="1.3"/>
<line x1="377.3" y1="440.1" x2="516.3" y2="481.1" stroke="#474747" stroke-width="1.3"/>
<line x1="237.8" y1="460.7" x2="377.4" y2="421.5" stroke="#474747" stroke-width="1.3"/>
<line x1="377.4" y1="421.5" x2="517.2" y2="460.3" stroke="#474747" stroke-width="1.3"/>
<line x1="236.9" y1="439.7" x2="377.4" y2="402.6" stroke="#474747" stroke-width="1.3"/>
<line x1="377.4" y1="402.6" x2="518.1" y2="439.3" stroke="#474747" stroke-width="1.3"/>
<line x1="270.4" y1="590.0" x2="265.0" y2="432.8" stroke="#474747" stroke-width="1.3"/>
<line x1="297.1" y1="579.4" x2="293.1" y2="425.4" stroke="#474747" stroke-width="1.3"/>
<line x1="323.9" y1="568.8" x2="321.2" y2="418.0" stroke="#474747" stroke-width="1.3"/>
<line x1="350.6" y1="558.2" x2="349.3" y2="410.5" stroke="#474747" stroke-width="1.3"/>
<line x1="477.7" y1="587.2" x2="482.9" y2="430.6" stroke="#474747" stroke-width="1.3"/>
<line x1="444.3" y1="574.0" x2="447.7" y2="421.5" stroke="#474747" stroke-width="1.3"/>
<line x1="410.8" y1="560.8" x2="412.5" y2="412.3" stroke="#474747" stroke-width="1.3"/>
<line x1="245.8" y1="651.5" x2="236.9" y2="440.3" stroke="#555" stroke-width="1.2"/>
<line x1="377.3" y1="593.9" x2="377.4" y2="403.1" stroke="#555" stroke-width="1.2"/>
<line x1="509.0" y1="651.5" x2="518.1" y2="439.8" stroke="#555" stroke-width="1.2"/>
<polygon points="377.3,725.0 245.8,651.5 377.3,593.9 509.0,651.5" fill="#656565" stroke="#1a1a1a" stroke-width="1.6" stroke-linejoin="round"/>
<polyline points="368.7,720.2 370.2,719.3 371.6,718.5 373.0,717.6 374.5,716.8 375.9,716.0 376.9,715.4 377.3,715.1 378.8,714.3 380.2,713.5 381.6,712.6 383.0,711.8 384.4,711.0 385.8,710.2 387.2,709.4 388.7,708.5 390.1,707.7 391.5,706.9 392.9,706.1 394.3,705.3 395.7,704.5 397.1,703.7 398.5,703.0 399.8,702.2 401.2,701.4 402.6,700.6 404.0,699.8 405.4,699.0 406.8,698.3 408.1,697.5 409.5,696.7 410.9,696.0 412.3,695.2 413.6,694.5 415.0,693.7 416.4,693.0 417.8,692.2 419.1,691.5 420.5,690.7 421.8,690.0 423.2,689.2 424.6,688.5 425.9,687.8 427.3,687.0 428.6,686.3 430.0,685.6 431.3,684.9 432.7,684.1 434.0,683.4 435.3,682.7 436.7,682.0 438.0,681.3 439.4,680.6 440.7,679.9 442.0,679.2 443.4,678.5 444.7,677.8 446.0,677.1 447.3,676.4 448.7,675.7 450.0,675.0 451.3,674.3 452.6,673.6 454.0,673.0 455.3,672.3 456.0,671.9 456.6,671.6 457.9,670.9 459.2,670.3 460.5,669.6 461.8,668.9 463.1,668.3 464.4,667.6 465.7,667.0 467.0,666.3 468.3,665.6 469.6,665.0 470.9,664.3 472.2,663.7 473.5,663.0 474.8,662.4 476.1,661.8 477.4,661.1 478.7,660.5 480.0,659.8 481.2,659.2 482.5,658.6 483.8,658.0 485.1,657.3 486.2,656.8 486.4,656.7 487.6,656.1 488.9,655.5 490.2,654.8 491.5,654.2 492.7,653.6 494.0,653.0 495.3,652.4 496.5,651.8 497.8,651.2 499.0,650.6 500.3,650.0 501.6,649.4 502.8,648.8" fill="none" stroke="#1ed2e6" stroke-width="2.2" stroke-linecap="round"/>
<polyline points="358.8,714.6 360.2,713.8 361.6,713.0 363.1,712.1 364.5,711.3 365.9,710.5 367.3,709.6 368.8,708.8 370.2,708.0 371.6,707.2 373.0,706.4 373.6,706.0 374.4,705.6 375.8,704.8 377.2,704.0 378.6,703.2 380.0,702.4 381.4,701.6 382.8,700.8 384.2,700.0 385.6,699.2 387.0,698.4 388.4,697.7 389.8,696.9 391.2,696.1 392.6,695.4 394.0,694.6 395.4,693.8 396.8,693.1 398.1,692.3 399.5,691.6 400.9,690.8 402.3,690.1 403.7,689.3 405.0,688.6 406.4,687.9 407.8,687.1 409.1,686.4 410.5,685.7 411.9,684.9 413.3,684.2 414.6,683.5 416.0,682.8 417.3,682.1 418.7,681.4 420.1,680.7 421.4,679.9 422.8,679.2 424.1,678.5 425.5,677.9 426.8,677.2 428.2,676.5 429.5,675.8 430.9,675.1 432.1,674.5 432.2,674.4 433.6,673.7 434.9,673.0 436.3,672.4 437.6,671.7 439.0,671.0 440.3,670.4 441.6,669.7 443.0,669.0 444.3,668.4 445.6,667.7 447.0,667.1 448.3,666.4 449.6,665.7 451.0,665.1 452.3,664.5 453.6,663.8 454.9,663.2 456.3,662.5 457.6,661.9 458.9,661.3 460.2,660.6 461.5,660.0 462.5,659.5 462.9,659.4 464.2,658.7 465.5,658.1 466.8,657.5 468.1,656.9 469.4,656.3 470.7,655.6 472.0,655.0 473.3,654.4 474.6,653.8 475.9,653.2 477.2,652.6 478.5,652.0 479.8,651.4 481.1,650.8 482.3,650.3 482.4,650.2 483.7,649.6 485.0,649.0 486.3,648.4 487.6,647.8 488.9,647.2 490.2,646.6 491.4,646.1 492.7,645.5 494.0,644.9" fill="none" stroke="#1ed28c" stroke-width="2.2" stroke-linecap="round"/>
<polyline points="345.3,707.1 346.7,706.2 348.1,705.4 349.5,704.6 350.9,703.8 352.3,703.0 353.7,702.2 355.1,701.3 356.5,700.5 357.9,699.7 359.4,698.9 360.8,698.2 362.2,697.4 363.6,696.6 365.0,695.8 366.4,695.0 367.8,694.3 369.2,693.5 370.6,692.7 372.0,692.0 373.4,691.2 374.8,690.4 376.2,689.7 377.6,688.9 379.0,688.2 380.3,687.5 381.7,686.7 383.1,686.0 384.5,685.3 385.9,684.5 387.3,683.8 388.7,683.1 390.1,682.4 391.5,681.7 392.9,680.9 394.2,680.2 395.6,679.5 397.0,678.8 398.4,678.1 399.8,677.4 401.2,676.7 402.5,676.0 403.9,675.4 405.3,674.7 406.7,674.0 408.1,673.3 409.4,672.6 410.8,672.0 412.2,671.3 413.6,670.6 415.0,670.0 416.3,669.3 417.7,668.6 419.1,668.0 420.4,667.3 421.8,666.7 423.2,666.0 424.6,665.4 425.0,665.2 425.9,664.8 427.3,664.1 428.7,663.5 430.0,662.8 431.4,662.2 432.8,661.6 434.1,661.0 435.5,660.3 436.9,659.7 438.2,659.1 439.6,658.5 440.9,657.9 442.3,657.3 443.7,656.6 445.0,656.0 445.2,656.0 446.4,655.4 447.7,654.8 449.1,654.2 450.4,653.6 451.8,653.0 453.1,652.4 454.5,651.9 455.8,651.3 457.2,650.7 458.5,650.1 459.9,649.5 460.6,649.2 461.2,648.9 462.6,648.4 463.9,647.8 465.3,647.2 466.6,646.6 467.9,646.1 469.3,645.5 470.6,644.9 472.0,644.4 473.3,643.8 473.9,643.5 474.6,643.2 476.0,642.7 477.3,642.1 478.6,641.6 479.9,641.0 481.3,640.5 482.6,639.9" fill="none" stroke="#32d232" stroke-width="2.2" stroke-linecap="round"/>
<polyline points="332.5,700.0 333.9,699.2 335.3,698.3 336.7,697.5 338.1,696.7 339.5,695.9 340.9,695.1 342.3,694.3 343.7,693.5 345.1,692.8 346.5,692.0 347.9,691.2 349.3,690.4 350.8,689.7 352.2,688.9 353.6,688.2 355.0,687.4 356.4,686.7 357.8,685.9 359.2,685.2 360.6,684.4 361.2,684.1 362.0,683.7 363.4,683.0 364.8,682.2 366.2,681.5 367.6,680.8 369.0,680.1 370.3,679.5 370.4,679.4 371.8,678.7 373.2,678.0 374.6,677.3 376.0,676.6 377.4,675.9 378.8,675.2 380.3,674.5 381.7,673.8 383.1,673.1 384.5,672.5 385.9,671.8 387.3,671.1 388.7,670.5 390.1,669.8 391.5,669.1 392.9,668.5 394.3,667.8 395.8,667.2 397.2,666.6 398.6,665.9 400.0,665.3 401.4,664.6 402.8,664.0 404.2,663.4 404.3,663.3 405.6,662.8 407.0,662.1 408.4,661.5 409.9,660.9 411.3,660.3 412.7,659.7 414.1,659.1 415.5,658.5 416.9,657.9 418.3,657.3 419.7,656.7 421.0,656.1 421.1,656.1 422.5,655.5 423.9,654.9 425.4,654.3 426.8,653.7 428.2,653.1 429.6,652.5 431.0,652.0 432.4,651.4 433.8,650.8 434.3,650.6 435.2,650.2 436.6,649.7 438.0,649.1 439.4,648.5 440.8,648.0 442.2,647.4 443.6,646.9 445.0,646.3 445.9,646.0 446.4,645.8 447.8,645.2 449.2,644.7 450.6,644.1 452.0,643.6 453.4,643.0 454.8,642.5 456.2,641.9 456.4,641.8 457.5,641.4 458.9,640.9 460.3,640.3 461.7,639.8 463.1,639.3 464.5,638.7 465.9,638.2 466.2,638.1 467.2,637.7 468.6,637.2 470.0,636.6 471.4,636.1 472.8,635.6" fill="none" stroke="#a0d21e" stroke-width="2.2" stroke-linecap="round"/>
<polyline points="376.5,594.2 376.2,594.4 375.2,595.0 374.2,595.6 373.2,596.2 372.2,596.8 371.1,597.4 370.1,598.0 369.8,598.2 369.1,598.6 368.1,599.2 367.1,599.8 366.0,600.4 365.0,601.0 364.0,601.6 362.9,602.2 362.8,602.3 361.9,602.8 360.8,603.4 359.8,604.1 358.7,604.7 357.7,605.3 356.6,605.9 355.6,606.5 355.3,606.7 354.5,607.1 353.4,607.8 352.3,608.4 351.3,609.0 350.2,609.6 349.1,610.2 348.0,610.9 347.2,611.3 346.9,611.5 345.8,612.1 344.7,612.7 343.6,613.4 342.5,614.0 341.4,614.6 340.3,615.3 339.1,615.9 338.4,616.3 338.0,616.5 336.9,617.2 335.7,617.8 334.6,618.4 333.5,619.1 332.3,619.7 331.1,620.3 330.0,621.0 328.8,621.6 328.4,621.8 327.6,622.2 326.5,622.9 325.3,623.5 324.1,624.2 322.9,624.8 321.7,625.5 320.5,626.1 319.3,626.7 318.1,627.4 316.9,628.0 316.7,628.1 315.7,628.7 314.5,629.3 313.3,630.0 312.0,630.6 310.8,631.3 309.5,631.9 308.3,632.6 307.0,633.2 305.8,633.9 304.5,634.5 303.2,635.2 302.0,635.8 301.7,636.0 300.7,636.5 299.4,637.1 298.1,637.8 296.8,638.5 295.5,639.1 294.2,639.8 292.9,640.4 291.6,641.1 290.2,641.7 288.9,642.4 287.6,643.0 286.2,643.7 284.9,644.4 283.5,645.0 282.2,645.7 280.8,646.3 279.4,647.0 278.0,647.7 276.6,648.3 276.4,648.4 275.3,649.0 273.9,649.6 272.5,650.3 271.0,651.0 269.6,651.6 268.2,652.3 266.8,652.9 265.4,653.6 263.9,654.3 262.5,654.9 261.0,655.6 259.6,656.2 258.1,656.9 256.6,657.6" fill="none" stroke="#a0d21e" stroke-width="2.2" stroke-linecap="round"/>
<polyline points="310.5,687.7 311.9,686.9 313.2,686.0 314.6,685.3 315.9,684.5 316.9,683.9 317.3,683.7 318.7,682.9 320.1,682.1 321.5,681.4 322.8,680.6 324.2,679.9 325.6,679.1 327.0,678.4 328.4,677.6 329.9,676.9 331.3,676.2 332.7,675.5 334.1,674.8 335.5,674.1 337.0,673.4 338.4,672.7 339.9,672.0 341.3,671.3 342.8,670.7 344.2,670.0 345.7,669.4 347.2,668.7 348.6,668.1 350.1,667.4 351.6,666.8 351.9,666.7 353.1,666.1 354.5,665.5 356.0,664.9 357.5,664.3 359.0,663.7 360.5,663.1 362.0,662.4 363.5,661.8 365.0,661.3 366.5,660.7 367.3,660.4 368.0,660.1 369.5,659.5 371.1,658.9 372.6,658.3 374.1,657.8 375.6,657.2 377.1,656.6 378.6,656.1 378.7,656.1 380.2,655.5 381.7,654.9 383.2,654.4 384.7,653.8 386.3,653.3 387.8,652.8 388.2,652.6 389.3,652.2 390.9,651.7 392.4,651.1 393.9,650.6 395.4,650.1 397.0,649.6 397.0,649.5 398.5,649.0 400.0,648.5 401.6,648.0 403.1,647.5 404.6,647.0 405.2,646.8 406.1,646.4 407.7,645.9 409.2,645.4 410.7,644.9 412.2,644.4 413.0,644.2 413.8,643.9 415.3,643.4 416.8,642.9 418.3,642.4 419.9,641.9 420.4,641.7 421.4,641.4 422.9,640.9 424.4,640.4 425.9,640.0 427.5,639.5 427.7,639.4 429.0,639.0 430.5,638.5 432.0,638.0 433.5,637.5 434.6,637.2 435.0,637.1 436.5,636.6 438.0,636.1 439.5,635.6 441.0,635.2 441.5,635.0 442.5,634.7 444.0,634.2 445.5,633.7 447.0,633.3 448.2,632.9 448.5,632.8 450.0,632.3 451.5,631.9 453.0,631.4 454.5,630.9 454.8,630.9 456.0,630.5 457.4,630.0 458.9,629.6" fill="none" stroke="#e6a01e" stroke-width="2.2" stroke-linecap="round"/>
<polyline points="385.6,597.5 384.7,598.1 383.8,598.8 382.8,599.4 381.9,600.0 381.4,600.4 381.0,600.7 380.1,601.3 379.1,602.0 378.2,602.6 377.2,603.3 377.1,603.4 376.3,603.9 375.4,604.6 374.4,605.2 373.5,605.9 372.7,606.4 372.5,606.5 371.6,607.2 370.6,607.9 369.7,608.5 368.7,609.2 368.2,609.5 367.7,609.9 366.8,610.5 365.8,611.2 364.8,611.9 363.8,612.5 363.6,612.7 362.9,613.2 361.9,613.9 360.9,614.6 359.9,615.3 359.0,615.9 358.9,615.9 357.9,616.6 356.9,617.3 355.9,618.0 354.9,618.7 354.1,619.2 353.9,619.4 352.9,620.1 351.8,620.7 350.8,621.4 349.8,622.1 349.1,622.6 348.8,622.8 347.7,623.5 346.7,624.2 345.6,624.9 344.6,625.6 343.9,626.1 343.5,626.3 342.5,627.0 341.4,627.7 340.4,628.4 339.3,629.1 338.3,629.7 338.2,629.8 337.1,630.5 336.0,631.3 335.0,632.0 333.9,632.7 332.7,633.4 332.3,633.6 331.6,634.1 330.5,634.8 329.4,635.5 328.3,636.2 327.1,636.9 326.0,637.6 325.7,637.8 324.9,638.4 323.7,639.1 322.5,639.8 321.4,640.5 320.2,641.2 319.0,641.9 318.0,642.5 317.8,642.6 316.6,643.4 315.4,644.1 314.2,644.8 313.0,645.5 311.8,646.2 310.5,646.9 309.3,647.6 308.3,648.2 308.0,648.3 306.8,649.0 305.5,649.7 304.2,650.4 303.0,651.1 301.7,651.9 300.4,652.6 299.0,653.3 297.7,654.0 296.4,654.6 295.0,655.3 293.7,656.0 292.3,656.7 291.9,656.9 290.9,657.4 289.5,658.1 288.2,658.8 286.8,659.5 285.3,660.2 283.9,660.9 282.5,661.5 281.0,662.2 279.6,662.9 278.1,663.6 276.6,664.2 275.2,664.9 273.7,665.6 272.2,666.2" fill="none" stroke="#e6a01e" stroke-width="2.2" stroke-linecap="round"/>
<circle cx="243.7" cy="600.6" r="1.6" fill="#000"/>
<circle cx="242.9" cy="581.3" r="1.6" fill="#000"/>
<circle cx="242.0" cy="561.8" r="1.6" fill="#000"/>
<circle cx="241.2" cy="542.1" r="1.6" fill="#000"/>
<circle cx="240.4" cy="522.2" r="1.6" fill="#000"/>
<circle cx="239.5" cy="501.9" r="1.6" fill="#000"/>
<circle cx="238.7" cy="481.5" r="1.6" fill="#000"/>
<circle cx="237.8" cy="460.7" r="1.6" fill="#000"/>
<circle cx="236.9" cy="439.7" r="1.6" fill="#000"/>
<circle cx="377.3" cy="725.0" r="1.6" fill="#000"/>
<circle cx="344.5" cy="706.6" r="1.6" fill="#000"/>
<circle cx="311.6" cy="688.3" r="1.6" fill="#000"/>
<circle cx="278.7" cy="669.9" r="1.6" fill="#000"/>
<circle cx="245.8" cy="651.5" r="1.6" fill="#000"/>
<circle cx="377.3" cy="725.0" r="1.6" fill="#000"/>
<circle cx="403.7" cy="710.3" r="1.6" fill="#000"/>
<circle cx="430.0" cy="695.6" r="1.6" fill="#000"/>
<circle cx="456.4" cy="680.9" r="1.6" fill="#000"/>
<circle cx="482.7" cy="666.2" r="1.6" fill="#000"/>
<circle cx="509.0" cy="651.5" r="1.6" fill="#000"/>
<g stroke="#0a0a0a" stroke-width="1.3" stroke-linejoin="round" stroke-opacity="0.68">
<polygon points="377.3,456.4 371.2,465.3 377.3,461.5 383.5,452.6" fill="#f2ff00"/>
<polygon points="371.1,460.1 365.0,469.1 371.2,465.3 377.3,456.4" fill="#e4ff00"/>
<polygon points="383.6,449.9 377.3,456.4 383.5,452.6 389.8,446.2" fill="#ffbd00"/>
<polygon points="364.8,463.7 358.7,472.7 365.0,469.1 371.1,460.1" fill="#d6ff00"/>
<polygon points="377.3,453.5 371.1,460.1 377.3,456.4 383.6,449.9" fill="#ffcb00"/>
<polygon points="358.4,467.3 352.4,476.4 358.7,472.7 364.8,463.7" fill="#c9ff00"/>
<polygon points="390.0,445.5 383.6,449.9 389.8,446.2 396.2,441.8" fill="#ff8200"/>
<polygon points="371.0,457.1 364.8,463.7 371.1,460.1 377.3,453.5" fill="#ffd900"/>
<polygon points="352.0,470.8 346.0,479.9 352.4,476.4 358.4,467.3" fill="#bdff00"/>
<polygon points="383.7,449.1 377.3,453.5 383.6,449.9 390.0,445.5" fill="#ff9000"/>
<polygon points="396.4,442.9 390.0,445.5 396.2,441.8 402.6,439.3" fill="#ff5700"/>
<polygon points="364.6,460.6 358.4,467.3 364.8,463.7 371.0,457.1" fill="#ffe600"/>
<polygon points="345.5,474.2 339.5,483.5 346.0,479.9 352.0,470.8" fill="#b1ff00"/>
<polygon points="377.4,452.6 371.0,457.1 377.3,453.5 383.7,449.1" fill="#ff9d00"/>
<polygon points="390.1,446.5 383.7,449.1 390.0,445.5 396.4,442.9" fill="#ff6500"/>
<polygon points="358.2,464.1 352.0,470.8 358.4,467.3 364.6,460.6" fill="#fff200"/>
<polygon points="402.9,442.1 396.4,442.9 402.6,439.3 409.1,438.4" fill="#ff3b00"/>
<polygon points="338.9,477.7 332.9,486.9 339.5,483.5 345.5,474.2" fill="#a6ff00"/>
<polygon points="370.9,456.1 364.6,460.6 371.0,457.1 377.4,452.6" fill="#ffa900"/>
<polygon points="383.8,450.0 377.4,452.6 383.7,449.1 390.1,446.5" fill="#ff7200"/>
<polygon points="351.7,467.5 345.5,474.2 352.0,470.8 358.2,464.1" fill="#fffd00"/>
<polygon points="396.6,445.6 390.1,446.5 396.4,442.9 402.9,442.1" fill="#ff4800"/>
<polygon points="332.3,481.0 326.3,490.3 332.9,486.9 338.9,477.7" fill="#9cff00"/>
<polygon points="409.5,442.6 402.9,442.1 409.1,438.4 415.8,439.0" fill="#ff2b00"/>
<polygon points="364.5,459.6 358.2,464.1 364.6,460.6 370.9,456.1" fill="#ffb500"/>
<polygon points="377.4,453.5 370.9,456.1 377.4,452.6 383.8,450.0" fill="#ff7e00"/>
<polygon points="345.1,470.9 338.9,477.7 345.5,474.2 351.7,467.5" fill="#f7ff00"/>
<polygon points="390.3,449.1 383.8,450.0 390.1,446.5 396.6,445.6" fill="#ff5500"/>
<polygon points="325.6,484.3 319.6,493.7 326.3,490.3 332.3,481.0" fill="#93ff00"/>
<polygon points="403.2,446.1 396.6,445.6 402.9,442.1 409.5,442.6" fill="#ff3800"/>
<polygon points="357.9,462.9 351.7,467.5 358.2,464.1 364.5,459.6" fill="#ffc000"/>
<polygon points="416.2,444.3 409.5,442.6 415.8,439.0 422.4,440.8" fill="#ff2500"/>
<polygon points="370.9,456.9 364.5,459.6 370.9,456.1 377.4,453.5" fill="#ff8900"/>
<polygon points="338.4,474.2 332.3,481.0 338.9,477.7 345.1,470.9" fill="#edff00"/>
<polygon points="383.9,452.6 377.4,453.5 383.8,450.0 390.3,449.1" fill="#ff6100"/>
<polygon points="318.8,487.6 312.9,497.0 319.6,493.7 325.6,484.3" fill="#8aff00"/>
<polygon points="396.9,449.6 390.3,449.1 396.6,445.6 403.2,446.1" fill="#ff4400"/>
<polygon points="351.3,466.3 345.1,470.9 351.7,467.5 357.9,462.9" fill="#ffca00"/>
<polygon points="409.9,447.9 403.2,446.1 409.5,442.6 416.2,444.3" fill="#ff3100"/>
<polygon points="422.9,447.2 416.2,444.3 422.4,440.8 429.2,443.7" fill="#ff2800"/>
<polygon points="364.3,460.3 357.9,462.9 364.5,459.6 370.9,456.9" fill="#ff9400"/>
<polygon points="331.6,477.4 325.6,484.3 332.3,481.0 338.4,474.2" fill="#e4ff00"/>
<polygon points="377.4,455.9 370.9,456.9 377.4,453.5 383.9,452.6" fill="#ff6c00"/>
<polygon points="311.9,490.7 306.0,500.3 312.9,497.0 318.8,487.6" fill="#82ff00"/>
<polygon points="390.4,453.0 383.9,452.6 390.3,449.1 396.9,449.6" fill="#ff4f00"/>
<polygon points="344.6,469.5 338.4,474.2 345.1,470.9 351.3,466.3" fill="#ffd400"/>
<polygon points="403.5,451.4 396.9,449.6 403.2,446.1 409.9,447.9" fill="#ff3d00"/>
<polygon points="416.6,450.8 409.9,447.9 416.2,444.3 422.9,447.2" fill="#ff3400"/>
<polygon points="429.7,451.2 422.9,447.2 429.2,443.7 435.9,447.6" fill="#ff3300"/>
<polygon points="357.7,463.6 351.3,466.3 357.9,462.9 364.3,460.3" fill="#ff9e00"/>
<polygon points="324.8,480.6 318.8,487.6 325.6,484.3 331.6,477.4" fill="#dbff00"/>
<polygon points="370.8,459.3 364.3,460.3 370.9,456.9 377.4,455.9" fill="#ff7600"/>
<polygon points="304.9,493.9 299.1,503.4 306.0,500.3 311.9,490.7" fill="#7bff00"/>
<polygon points="383.9,456.4 377.4,455.9 383.9,452.6 390.4,453.0" fill="#ff5a00"/>
<polygon points="337.8,472.8 331.6,477.4 338.4,474.2 344.6,469.5" fill="#ffdd00"/>
<polygon points="397.1,454.8 390.4,453.0 396.9,449.6 403.5,451.4" fill="#ff4900"/>
<polygon points="436.6,456.1 429.7,451.2 435.9,447.6 442.8,452.5" fill="#ff4600"/>
<polygon points="410.3,454.3 403.5,451.4 409.9,447.9 416.6,450.8" fill="#ff4000"/>
<polygon points="423.4,454.7 416.6,450.8 422.9,447.2 429.7,451.2" fill="#ff3f00"/>
<polygon points="351.0,466.8 344.6,469.5 351.3,466.3 357.7,463.6" fill="#ffa700"/>
<polygon points="317.9,483.8 311.9,490.7 318.8,487.6 324.8,480.6" fill="#d4ff00"/>
<polygon points="364.2,462.6 357.7,463.6 364.3,460.3 370.8,459.3" fill="#ff8000"/>
<polygon points="297.9,496.9 292.1,506.6 299.1,503.4 304.9,493.9" fill="#75ff00"/>
<polygon points="377.4,459.7 370.8,459.3 377.4,455.9 383.9,456.4" fill="#ff6400"/>
<polygon points="443.5,462.1 436.6,456.1 442.8,452.5 449.7,458.5" fill="#ff6100"/>
<polygon points="331.0,475.9 324.8,480.6 331.6,477.4 337.8,472.8" fill="#ffe500"/>
<polygon points="390.6,458.2 383.9,456.4 390.4,453.0 397.1,454.8" fill="#ff5300"/>
<polygon points="430.3,459.7 423.4,454.7 429.7,451.2 436.6,456.1" fill="#ff5200"/>
<polygon points="403.8,457.7 397.1,454.8 403.5,451.4 410.3,454.3" fill="#ff4b00"/>
<polygon points="417.1,458.2 410.3,454.3 416.6,450.8 423.4,454.7" fill="#ff4b00"/>
<polygon points="344.2,470.0 337.8,472.8 344.6,469.5 351.0,466.8" fill="#ffaf00"/>
<polygon points="310.9,486.8 304.9,493.9 311.9,490.7 317.9,483.8" fill="#cdff00"/>
<polygon points="357.4,465.8 351.0,466.8 357.7,463.6 364.2,462.6" fill="#ff8800"/>
<polygon points="450.4,469.1 443.5,462.1 449.7,458.5 456.6,465.5" fill="#ff8200"/>
<polygon points="370.7,463.0 364.2,462.6 370.8,459.3 377.4,459.7" fill="#ff6d00"/>
<polygon points="290.7,499.9 285.0,509.7 292.1,506.6 297.9,496.9" fill="#6fff00"/>
<polygon points="437.2,465.6 430.3,459.7 436.6,456.1 443.5,462.1" fill="#ff6c00"/>
<polygon points="324.1,479.0 317.9,483.8 324.8,480.6 331.0,475.9" fill="#ffec00"/>
<polygon points="384.0,461.5 377.4,459.7 383.9,456.4 390.6,458.2" fill="#ff5d00"/>
<polygon points="423.9,463.1 417.1,458.2 423.4,454.7 430.3,459.7" fill="#ff5d00"/>
<polygon points="397.3,461.0 390.6,458.2 397.1,454.8 403.8,457.7" fill="#ff5500"/>
<polygon points="410.6,461.6 403.8,457.7 410.3,454.3 417.1,458.2" fill="#ff5500"/>
<polygon points="337.3,473.1 331.0,475.9 337.8,472.8 344.2,470.0" fill="#ffb700"/>
<polygon points="303.8,489.8 297.9,496.9 304.9,493.9 310.9,486.8" fill="#c7ff00"/>
<polygon points="457.4,477.2 450.4,469.1 456.6,465.5 463.6,473.6" fill="#ffac00"/>
<polygon points="350.6,468.9 344.2,470.0 351.0,466.8 357.4,465.8" fill="#ff9100"/>
<polygon points="444.2,472.6 437.2,465.6 443.5,462.1 450.4,469.1" fill="#ff8d00"/>
<polygon points="364.0,466.2 357.4,465.8 364.2,462.6 370.7,463.0" fill="#ff7600"/>
<polygon points="283.5,502.9 277.8,512.7 285.0,509.7 290.7,499.9" fill="#6aff00"/>
<polygon points="430.9,469.1 423.9,463.1 430.3,459.7 437.2,465.6" fill="#ff7700"/>
<polygon points="377.4,464.7 370.7,463.0 377.4,459.7 384.0,461.5" fill="#ff6600"/>
<polygon points="317.1,482.0 310.9,486.8 317.9,483.8 324.1,479.0" fill="#fff200"/>
<polygon points="417.5,466.6 410.6,461.6 417.1,458.2 423.9,463.1" fill="#ff6700"/>
<polygon points="390.8,464.3 384.0,461.5 390.6,458.2 397.3,461.0" fill="#ff5e00"/>
<polygon points="404.1,465.0 397.3,461.0 403.8,457.7 410.6,461.6" fill="#ff5f00"/>
<polygon points="464.4,486.7 457.4,477.2 463.6,473.6 470.6,483.0" fill="#ffdf00"/>
<polygon points="330.4,476.2 324.1,479.0 331.0,475.9 337.3,473.1" fill="#ffbe00"/>
<polygon points="296.7,492.8 290.7,499.9 297.9,496.9 303.8,489.8" fill="#c1ff00"/>
<polygon points="451.2,480.8 444.2,472.6 450.4,469.1 457.4,477.2" fill="#ffb700"/>
<polygon points="343.8,472.0 337.3,473.1 344.2,470.0 350.6,468.9" fill="#ff9800"/>
<polygon points="437.8,476.1 430.9,469.1 437.2,465.6 444.2,472.6" fill="#ff9800"/>
<polygon points="357.2,469.3 350.6,468.9 357.4,465.8 364.0,466.2" fill="#ff7e00"/>
<polygon points="424.4,472.6 417.5,466.6 423.9,463.1 430.9,469.1" fill="#ff8100"/>
<polygon points="276.2,505.8 270.5,515.6 277.8,512.7 283.5,502.9" fill="#66ff00"/>
<polygon points="471.5,497.7 464.4,486.7 470.6,483.0 477.6,494.0" fill="#e3ff00"/>
<polygon points="370.6,467.9 364.0,466.2 370.7,463.0 377.4,464.7" fill="#ff6e00"/>
<polygon points="411.0,469.9 404.1,465.0 410.6,461.6 417.5,466.6" fill="#ff7100"/>
<polygon points="310.0,485.0 303.8,489.8 310.9,486.8 317.1,482.0" fill="#fff800"/>
<polygon points="384.1,467.6 377.4,464.7 384.0,461.5 390.8,464.3" fill="#ff6700"/>
<polygon points="397.6,468.3 390.8,464.3 397.3,461.0 404.1,465.0" fill="#ff6800"/>
<polygon points="458.2,490.3 451.2,480.8 457.4,477.2 464.4,486.7" fill="#ffe900"/>
<polygon points="323.3,479.2 317.1,482.0 324.1,479.0 330.4,476.2" fill="#ffc400"/>
<polygon points="478.5,510.3 471.5,497.7 477.6,494.0 484.6,506.6" fill="#9bff00"/>
<polygon points="289.4,495.7 283.5,502.9 290.7,499.9 296.7,492.8" fill="#bdff00"/>
<polygon points="444.8,484.4 437.8,476.1 444.2,472.6 451.2,480.8" fill="#ffc100"/>
<polygon points="336.8,475.1 330.4,476.2 337.3,473.1 343.8,472.0" fill="#ff9f00"/>
<polygon points="431.4,479.6 424.4,472.6 430.9,469.1 437.8,476.1" fill="#ffa100"/>
<polygon points="350.3,472.4 343.8,472.0 350.6,468.9 357.2,469.3" fill="#ff8500"/>
<polygon points="418.0,475.9 411.0,469.9 417.5,466.6 424.4,472.6" fill="#ff8a00"/>
<polygon points="465.2,501.3 458.2,490.3 464.4,486.7 471.5,497.7" fill="#d9ff00"/>
<polygon points="268.8,508.6 263.2,518.5 270.5,515.6 276.2,505.8" fill="#62ff00"/>
<polygon points="363.8,471.0 357.2,469.3 364.0,466.2 370.6,467.9" fill="#ff7600"/>
<polygon points="485.5,525.0 478.5,510.3 484.6,506.6 491.6,521.2" fill="#45ff00"/>
<polygon points="404.4,473.2 397.6,468.3 404.1,465.0 411.0,469.9" fill="#ff7a00"/>
<polygon points="302.8,487.9 296.7,492.8 303.8,489.8 310.0,485.0" fill="#fffd00"/>
<polygon points="377.4,470.8 370.6,467.9 377.4,464.7 384.1,467.6" fill="#ff6f00"/>
<polygon points="390.9,471.5 384.1,467.6 390.8,464.3 397.6,468.3" fill="#ff7100"/>
<polygon points="451.9,493.9 444.8,484.4 451.2,480.8 458.2,490.3" fill="#fff300"/>
<polygon points="492.4,542.1 485.5,525.0 491.6,521.2 498.5,538.2" fill="#00ff21"/>
<polygon points="316.2,482.1 310.0,485.0 317.1,482.0 323.3,479.2" fill="#ffca00"/>
<polygon points="472.3,514.0 465.2,501.3 471.5,497.7 478.5,510.3" fill="#91ff00"/>
<polygon points="438.4,487.8 431.4,479.6 437.8,476.1 444.8,484.4" fill="#ffca00"/>
<polygon points="499.3,561.8 492.4,542.1 498.5,538.2 505.3,557.8" fill="#00ff9a"/>
<polygon points="282.1,498.5 276.2,505.8 283.5,502.9 289.4,495.7" fill="#b9ff00"/>
<polygon points="506.1,584.5 499.3,561.8 505.3,557.8 512.1,580.5" fill="#00d6ff"/>
<polygon points="329.8,478.0 323.3,479.2 330.4,476.2 336.8,475.1" fill="#ffa500"/>
<polygon points="424.9,483.0 418.0,475.9 424.4,472.6 431.4,479.6" fill="#ffaa00"/>
<polygon points="343.3,475.4 336.8,475.1 343.8,472.0 350.3,472.4" fill="#ff8b00"/>
<polygon points="411.4,479.2 404.4,473.2 411.0,469.9 418.0,475.9" fill="#ff9200"/>
<polygon points="459.0,504.9 451.9,493.9 458.2,490.3 465.2,501.3" fill="#cfff00"/>
<polygon points="479.3,528.8 472.3,514.0 478.5,510.3 485.5,525.0" fill="#3bff00"/>
<polygon points="261.3,511.4 255.7,521.4 263.2,518.5 268.8,508.6" fill="#5fff00"/>
<polygon points="356.9,474.1 350.3,472.4 357.2,469.3 363.8,471.0" fill="#ff7c00"/>
<polygon points="397.8,476.5 390.9,471.5 397.6,468.3 404.4,473.2" fill="#ff8200"/>
<polygon points="370.6,473.9 363.8,471.0 370.6,467.9 377.4,470.8" fill="#ff7600"/>
<polygon points="384.2,474.7 377.4,470.8 384.1,467.6 390.9,471.5" fill="#ff7800"/>
<polygon points="295.5,490.8 289.4,495.7 296.7,492.8 302.8,487.9" fill="#fcff00"/>
<polygon points="445.5,497.4 438.4,487.8 444.8,484.4 451.9,493.9" fill="#fffc00"/>
<polygon points="486.3,545.9 479.3,528.8 485.5,525.0 492.4,542.1" fill="#00ff2b"/>
<polygon points="309.0,485.0 302.8,487.9 310.0,485.0 316.2,482.1" fill="#ffcf00"/>
<polygon points="466.0,517.7 459.0,504.9 465.2,501.3 472.3,514.0" fill="#88ff00"/>
<polygon points="432.0,491.2 424.9,483.0 431.4,479.6 438.4,487.8" fill="#ffd300"/>
<polygon points="493.2,565.7 486.3,545.9 492.4,542.1 499.3,561.8" fill="#00ffa3"/>
<polygon points="274.7,501.3 268.8,508.6 276.2,505.8 282.1,498.5" fill="#b6ff00"/>
<polygon points="500.0,588.5 493.2,565.7 499.3,561.8 506.1,584.5" fill="#00cdff"/>
<polygon points="322.6,480.9 316.2,482.1 323.3,479.2 329.8,478.0" fill="#ffaa00"/>
<polygon points="418.4,486.3 411.4,479.2 418.0,475.9 424.9,483.0" fill="#ffb300"/>
<polygon points="336.3,478.4 329.8,478.0 336.8,475.1 343.3,475.4" fill="#ff9100"/>
<polygon points="404.7,482.5 397.8,476.5 404.4,473.2 411.4,479.2" fill="#ff9a00"/>
<polygon points="452.6,508.4 445.5,497.4 451.9,493.9 459.0,504.9" fill="#c6ff00"/>
<polygon points="473.1,532.5 466.0,517.7 472.3,514.0 479.3,528.8" fill="#32ff00"/>
<polygon points="391.1,479.7 384.2,474.7 390.9,471.5 397.8,476.5" fill="#ff8900"/>
<polygon points="350.0,477.1 343.3,475.4 350.3,472.4 356.9,474.1" fill="#ff8200"/>
<polygon points="253.8,514.1 248.2,524.1 255.7,521.4 261.3,511.4" fill="#5dff00"/>
<polygon points="377.4,477.8 370.6,473.9 377.4,470.8 384.2,474.7" fill="#ff7f00"/>
<polygon points="363.7,476.9 356.9,474.1 363.8,471.0 370.6,473.9" fill="#ff7d00"/>
<polygon points="288.1,493.5 282.1,498.5 289.4,495.7 295.5,490.8" fill="#f9ff00"/>
<polygon points="439.1,500.8 432.0,491.2 438.4,487.8 445.5,497.4" fill="#faff00"/>
<polygon points="480.1,549.6 473.1,532.5 479.3,528.8 486.3,545.9" fill="#00ff33"/>
<polygon points="301.7,487.8 295.5,490.8 302.8,487.9 309.0,485.0" fill="#ffd300"/>
<polygon points="459.7,521.3 452.6,508.4 459.0,504.9 466.0,517.7" fill="#7fff00"/>
<polygon points="425.4,494.6 418.4,486.3 424.9,483.0 432.0,491.2" fill="#ffdb00"/>
<polygon points="487.1,569.5 480.1,549.6 486.3,545.9 493.2,565.7" fill="#00ffab"/>
<polygon points="493.9,592.5 487.1,569.5 493.2,565.7 500.0,588.5" fill="#00c5ff"/>
<polygon points="267.1,504.0 261.3,511.4 268.8,508.6 274.7,501.3" fill="#b3ff00"/>
<polygon points="315.4,483.8 309.0,485.0 316.2,482.1 322.6,480.9" fill="#ffae00"/>
<polygon points="411.8,489.6 404.7,482.5 411.4,479.2 418.4,486.3" fill="#ffba00"/>
<polygon points="398.0,485.7 391.1,479.7 397.8,476.5 404.7,482.5" fill="#ffa100"/>
<polygon points="329.1,481.3 322.6,480.9 329.8,478.0 336.3,478.4" fill="#ff9600"/>
<polygon points="446.2,511.9 439.1,500.8 445.5,497.4 452.6,508.4" fill="#bfff00"/>
<polygon points="466.8,536.1 459.7,521.3 466.0,517.7 473.1,532.5" fill="#2aff00"/>
<polygon points="384.3,482.8 377.4,477.8 384.2,474.7 391.1,479.7" fill="#ff9000"/>
<polygon points="342.9,480.0 336.3,478.4 343.3,475.4 350.0,477.1" fill="#ff8800"/>
<polygon points="370.5,480.9 363.7,476.9 370.6,473.9 377.4,477.8" fill="#ff8500"/>
<polygon points="356.7,479.9 350.0,477.1 356.9,474.1 363.7,476.9" fill="#ff8300"/>
<polygon points="246.1,516.7 240.6,526.8 248.2,524.1 253.8,514.1" fill="#5cff00"/>
<polygon points="280.7,496.3 274.7,501.3 282.1,498.5 288.1,493.5" fill="#f6ff00"/>
<polygon points="432.5,504.2 425.4,494.6 432.0,491.2 439.1,500.8" fill="#f2ff00"/>
<polygon points="473.8,553.3 466.8,536.1 473.1,532.5 480.1,549.6" fill="#00ff3b"/>
<polygon points="294.3,490.5 288.1,493.5 295.5,490.8 301.7,487.8" fill="#ffd600"/>
<polygon points="453.3,524.8 446.2,511.9 452.6,508.4 459.7,521.3" fill="#77ff00"/>
<polygon points="418.8,497.9 411.8,489.6 418.4,486.3 425.4,494.6" fill="#ffe200"/>
<polygon points="480.8,573.3 473.8,553.3 480.1,549.6 487.1,569.5" fill="#00ffb3"/>
<polygon points="487.7,596.3 480.8,573.3 487.1,569.5 493.9,592.5" fill="#00beff"/>
<polygon points="259.5,506.6 253.8,514.1 261.3,511.4 267.1,504.0" fill="#b1ff00"/>
<polygon points="308.1,486.6 301.7,487.8 309.0,485.0 315.4,483.8" fill="#ffb200"/>
<polygon points="405.1,492.8 398.0,485.7 404.7,482.5 411.8,489.6" fill="#ffc100"/>
<polygon points="391.2,488.8 384.3,482.8 391.1,479.7 398.0,485.7" fill="#ffa700"/>
<polygon points="439.7,515.3 432.5,504.2 439.1,500.8 446.2,511.9" fill="#b7ff00"/>
<polygon points="321.9,484.1 315.4,483.8 322.6,480.9 329.1,481.3" fill="#ff9a00"/>
<polygon points="460.4,539.7 453.3,524.8 459.7,521.3 466.8,536.1" fill="#23ff00"/>
<polygon points="377.4,485.9 370.5,480.9 377.4,477.8 384.3,482.8" fill="#ff9600"/>
<polygon points="335.8,482.9 329.1,481.3 336.3,478.4 342.9,480.0" fill="#ff8c00"/>
<polygon points="363.5,483.9 356.7,479.9 363.7,476.9 370.5,480.9" fill="#ff8b00"/>
<polygon points="349.6,482.9 342.9,480.0 350.0,477.1 356.7,479.9" fill="#ff8800"/>
<polygon points="273.1,498.9 267.1,504.0 274.7,501.3 280.7,496.3" fill="#f4ff00"/>
<polygon points="425.9,507.5 418.8,497.9 425.4,494.6 432.5,504.2" fill="#ebff00"/>
<polygon points="467.5,557.0 460.4,539.7 466.8,536.1 473.8,553.3" fill="#00ff42"/>
<polygon points="446.8,528.3 439.7,515.3 446.2,511.9 453.3,524.8" fill="#71ff00"/>
<polygon points="286.9,493.2 280.7,496.3 288.1,493.5 294.3,490.5" fill="#ffd900"/>
<polygon points="412.1,501.1 405.1,492.8 411.8,489.6 418.8,497.9" fill="#ffe800"/>
<polygon points="474.5,577.0 467.5,557.0 473.8,553.3 480.8,573.3" fill="#00ffb9"/>
<polygon points="481.4,600.2 474.5,577.0 480.8,573.3 487.7,596.3" fill="#00b7ff"/>
<polygon points="251.8,509.2 246.1,516.7 253.8,514.1 259.5,506.6" fill="#b0ff00"/>
<polygon points="398.3,496.0 391.2,488.8 398.0,485.7 405.1,492.8" fill="#ffc700"/>
<polygon points="300.7,489.3 294.3,490.5 301.7,487.8 308.1,486.6" fill="#ffb500"/>
<polygon points="433.1,518.7 425.9,507.5 432.5,504.2 439.7,515.3" fill="#b1ff00"/>
<polygon points="384.3,491.9 377.4,485.9 384.3,482.8 391.2,488.8" fill="#ffad00"/>
<polygon points="314.6,486.9 308.1,486.6 315.4,483.8 321.9,484.1" fill="#ff9d00"/>
<polygon points="453.9,543.2 446.8,528.3 453.3,524.8 460.4,539.7" fill="#1cff00"/>
<polygon points="370.4,488.9 363.5,483.9 370.5,480.9 377.4,485.9" fill="#ff9b00"/>
<polygon points="328.5,485.7 321.9,484.1 329.1,481.3 335.8,482.9" fill="#ff9000"/>
<polygon points="356.4,486.8 349.6,482.9 356.7,479.9 363.5,483.9" fill="#ff9000"/>
<polygon points="342.5,485.8 335.8,482.9 342.9,480.0 349.6,482.9" fill="#ff8c00"/>
<polygon points="265.5,501.5 259.5,506.6 267.1,504.0 273.1,498.9" fill="#f2ff00"/>
<polygon points="419.3,510.8 412.1,501.1 418.8,497.9 425.9,507.5" fill="#e5ff00"/>
<polygon points="461.1,560.6 453.9,543.2 460.4,539.7 467.5,557.0" fill="#00ff48"/>
<polygon points="440.2,531.7 433.1,518.7 439.7,515.3 446.8,528.3" fill="#6aff00"/>
<polygon points="405.4,504.3 398.3,496.0 405.1,492.8 412.1,501.1" fill="#ffee00"/>
<polygon points="279.3,495.8 273.1,498.9 280.7,496.3 286.9,493.2" fill="#ffda00"/>
<polygon points="468.1,580.7 461.1,560.6 467.5,557.0 474.5,577.0" fill="#00ffbf"/>
<polygon points="475.1,604.0 468.1,580.7 474.5,577.0 481.4,600.2" fill="#00b2ff"/>
<polygon points="391.4,499.1 384.3,491.9 391.2,488.8 398.3,496.0" fill="#ffcc00"/>
<polygon points="293.2,491.9 286.9,493.2 294.3,490.5 300.7,489.3" fill="#ffb700"/>
<polygon points="426.4,522.0 419.3,510.8 425.9,507.5 433.1,518.7" fill="#abff00"/>
<polygon points="377.4,494.9 370.4,488.9 377.4,485.9 384.3,491.9" fill="#ffb200"/>
<polygon points="447.4,546.7 440.2,531.7 446.8,528.3 453.9,543.2" fill="#16ff00"/>
<polygon points="307.2,489.5 300.7,489.3 308.1,486.6 314.6,486.9" fill="#ffa000"/>
<polygon points="363.3,491.8 356.4,486.8 363.5,483.9 370.4,488.9" fill="#ff9f00"/>
<polygon points="321.2,488.5 314.6,486.9 321.9,484.1 328.5,485.7" fill="#ff9300"/>
<polygon points="349.3,489.7 342.5,485.8 349.6,482.9 356.4,486.8" fill="#ff9400"/>
<polygon points="335.2,488.6 328.5,485.7 335.8,482.9 342.5,485.8" fill="#ff8f00"/>
<polygon points="257.7,504.0 251.8,509.2 259.5,506.6 265.5,501.5" fill="#f2ff00"/>
<polygon points="412.5,514.0 405.4,504.3 412.1,501.1 419.3,510.8" fill="#e0ff00"/>
<polygon points="454.6,564.2 447.4,546.7 453.9,543.2 461.1,560.6" fill="#00ff4e"/>
<polygon points="433.6,535.0 426.4,522.0 433.1,518.7 440.2,531.7" fill="#65ff00"/>
<polygon points="398.5,507.4 391.4,499.1 398.3,496.0 405.4,504.3" fill="#fff300"/>
<polygon points="461.7,584.4 454.6,564.2 461.1,560.6 468.1,580.7" fill="#00ffc5"/>
<polygon points="271.6,498.4 265.5,501.5 273.1,498.9 279.3,495.8" fill="#ffdc00"/>
<polygon points="468.7,607.7 461.7,584.4 468.1,580.7 475.1,604.0" fill="#00adff"/>
<polygon points="384.4,502.1 377.4,494.9 384.3,491.9 391.4,499.1" fill="#ffd000"/>
<polygon points="285.6,494.5 279.3,495.8 286.9,493.2 293.2,491.9" fill="#ffb900"/>
<polygon points="419.7,525.3 412.5,514.0 419.3,510.8 426.4,522.0" fill="#a6ff00"/>
<polygon points="370.3,497.9 363.3,491.8 370.4,488.9 377.4,494.9" fill="#ffb600"/>
<polygon points="440.8,550.1 433.6,535.0 440.2,531.7 447.4,546.7" fill="#11ff00"/>
<polygon points="299.7,492.2 293.2,491.9 300.7,489.3 307.2,489.5" fill="#ffa200"/>
<polygon points="356.2,494.7 349.3,489.7 356.4,486.8 363.3,491.8" fill="#ffa300"/>
<polygon points="313.8,491.2 307.2,489.5 314.6,486.9 321.2,488.5" fill="#ff9600"/>
<polygon points="342.1,492.5 335.2,488.6 342.5,485.8 349.3,489.7" fill="#ff9700"/>
<polygon points="327.9,491.3 321.2,488.5 328.5,485.7 335.2,488.6" fill="#ff9200"/>
<polygon points="405.6,517.2 398.5,507.4 405.4,504.3 412.5,514.0" fill="#dbff00"/>
<polygon points="448.0,567.6 440.8,550.1 447.4,546.7 454.6,564.2" fill="#00ff53"/>
<polygon points="426.9,538.3 419.7,525.3 426.4,522.0 433.6,535.0" fill="#60ff00"/>
<polygon points="391.5,510.5 384.4,502.1 391.4,499.1 398.5,507.4" fill="#fff700"/>
<polygon points="455.1,587.9 448.0,567.6 454.6,564.2 461.7,584.4" fill="#00ffc9"/>
<polygon points="263.8,500.9 257.7,504.0 265.5,501.5 271.6,498.4" fill="#ffdc00"/>
<polygon points="462.2,611.4 455.1,587.9 461.7,584.4 468.7,607.7" fill="#00a9ff"/>
<polygon points="377.4,505.1 370.3,497.9 377.4,494.9 384.4,502.1" fill="#ffd400"/>
<polygon points="277.9,497.0 271.6,498.4 279.3,495.8 285.6,494.5" fill="#ffba00"/>
<polygon points="412.9,528.5 405.6,517.2 412.5,514.0 419.7,525.3" fill="#a2ff00"/>
<polygon points="363.2,500.8 356.2,494.7 363.3,491.8 370.3,497.9" fill="#ffb900"/>
<polygon points="434.1,553.5 426.9,538.3 433.6,535.0 440.8,550.1" fill="#0dff00"/>
<polygon points="292.0,494.7 285.6,494.5 293.2,491.9 299.7,492.2" fill="#ffa300"/>
<polygon points="349.0,497.5 342.1,492.5 349.3,489.7 356.2,494.7" fill="#ffa600"/>
<polygon points="306.2,493.8 299.7,492.2 307.2,489.5 313.8,491.2" fill="#ff9700"/>
<polygon points="334.7,495.2 327.9,491.3 335.2,488.6 342.1,492.5" fill="#ff9900"/>
<polygon points="320.5,494.0 313.8,491.2 321.2,488.5 327.9,491.3" fill="#ff9400"/>
<polygon points="398.7,520.3 391.5,510.5 398.5,507.4 405.6,517.2" fill="#d8ff00"/>
<polygon points="441.3,571.1 434.1,553.5 440.8,550.1 448.0,567.6" fill="#00ff57"/>
<polygon points="420.1,541.6 412.9,528.5 419.7,525.3 426.9,538.3" fill="#5cff00"/>
<polygon points="384.5,513.5 377.4,505.1 384.4,502.1 391.5,510.5" fill="#fffb00"/>
<polygon points="448.5,591.5 441.3,571.1 448.0,567.6 455.1,587.9" fill="#00ffcd"/>
<polygon points="455.6,615.0 448.5,591.5 455.1,587.9 462.2,611.4" fill="#00a5ff"/>
<polygon points="370.2,508.0 363.2,500.8 370.3,497.9 377.4,505.1" fill="#ffd700"/>
<polygon points="270.1,499.5 263.8,500.9 271.6,498.4 277.9,497.0" fill="#ffba00"/>
<polygon points="405.9,531.6 398.7,520.3 405.6,517.2 412.9,528.5" fill="#9eff00"/>
<polygon points="355.9,503.6 349.0,497.5 356.2,494.7 363.2,500.8" fill="#ffbc00"/>
<polygon points="427.3,556.8 420.1,541.6 426.9,538.3 434.1,553.5" fill="#09ff00"/>
<polygon points="284.3,497.2 277.9,497.0 285.6,494.5 292.0,494.7" fill="#ffa400"/>
<polygon points="341.6,500.3 334.7,495.2 342.1,492.5 349.0,497.5" fill="#ffa800"/>
<polygon points="298.6,496.3 292.0,494.7 299.7,492.2 306.2,493.8" fill="#ff9800"/>
<polygon points="327.3,497.9 320.5,494.0 327.9,491.3 334.7,495.2" fill="#ff9b00"/>
<polygon points="312.9,496.6 306.2,493.8 313.8,491.2 320.5,494.0" fill="#ff9600"/>
<polygon points="391.7,523.3 384.5,513.5 391.5,510.5 398.7,520.3" fill="#d4ff00"/>
<polygon points="434.6,574.5 427.3,556.8 434.1,553.5 441.3,571.1" fill="#00ff5a"/>
<polygon points="413.2,544.8 405.9,531.6 412.9,528.5 420.1,541.6" fill="#59ff00"/>
<polygon points="377.4,516.4 370.2,508.0 377.4,505.1 384.5,513.5" fill="#fffd00"/>
<polygon points="441.8,594.9 434.6,574.5 441.3,571.1 448.5,591.5" fill="#00ffd0"/>
<polygon points="449.0,618.6 441.8,594.9 448.5,591.5 455.6,615.0" fill="#00a2ff"/>
<polygon points="363.0,510.8 355.9,503.6 363.2,500.8 370.2,508.0" fill="#ffda00"/>
<polygon points="398.9,534.7 391.7,523.3 398.7,520.3 405.9,531.6" fill="#9bff00"/>
<polygon points="348.6,506.3 341.6,500.3 349.0,497.5 355.9,503.6" fill="#ffbe00"/>
<polygon points="420.5,560.0 413.2,544.8 420.1,541.6 427.3,556.8" fill="#06ff00"/>
<polygon points="276.5,499.6 270.1,499.5 277.9,497.0 284.3,497.2" fill="#ffa400"/>
<polygon points="334.2,502.9 327.3,497.9 334.7,495.2 341.6,500.3" fill="#ffa900"/>
<polygon points="290.9,498.8 284.3,497.2 292.0,494.7 298.6,496.3" fill="#ff9800"/>
<polygon points="319.7,500.5 312.9,496.6 320.5,494.0 327.3,497.9" fill="#ff9c00"/>
<polygon points="305.3,499.1 298.6,496.3 306.2,493.8 312.9,496.6" fill="#ff9600"/>
<polygon points="384.6,526.2 377.4,516.4 384.5,513.5 391.7,523.3" fill="#d2ff00"/>
<polygon points="427.8,577.8 420.5,560.0 427.3,556.8 434.6,574.5" fill="#00ff5d"/>
<polygon points="406.2,547.9 398.9,534.7 405.9,531.6 413.2,544.8" fill="#56ff00"/>
<polygon points="370.2,519.3 363.0,510.8 370.2,508.0 377.4,516.4" fill="#ffff00"/>
<polygon points="435.0,598.4 427.8,577.8 434.6,574.5 441.8,594.9" fill="#00ffd2"/>
<polygon points="442.2,622.1 435.0,598.4 441.8,594.9 449.0,618.6" fill="#00a0ff"/>
<polygon points="355.7,513.6 348.6,506.3 355.9,503.6 363.0,510.8" fill="#ffdb00"/>
<polygon points="391.9,537.7 384.6,526.2 391.7,523.3 398.9,534.7" fill="#99ff00"/>
<polygon points="341.2,509.0 334.2,502.9 341.6,500.3 348.6,506.3" fill="#ffbf00"/>
<polygon points="413.5,563.2 406.2,547.9 413.2,544.8 420.5,560.0" fill="#04ff00"/>
<polygon points="326.7,505.5 319.7,500.5 327.3,497.9 334.2,502.9" fill="#ffaa00"/>
<polygon points="312.1,503.0 305.3,499.1 312.9,496.6 319.7,500.5" fill="#ff9c00"/>
<polygon points="283.1,501.2 276.5,499.6 284.3,497.2 290.9,498.8" fill="#ff9800"/>
<polygon points="297.6,501.6 290.9,498.8 298.6,496.3 305.3,499.1" fill="#ff9600"/>
<polygon points="377.4,529.1 370.2,519.3 377.4,516.4 384.6,526.2" fill="#d0ff00"/>
<polygon points="420.8,581.1 413.5,563.2 420.5,560.0 427.8,577.8" fill="#00ff5f"/>
<polygon points="399.2,550.9 391.9,537.7 398.9,534.7 406.2,547.9" fill="#54ff00"/>
<polygon points="362.9,522.1 355.7,513.6 363.0,510.8 370.2,519.3" fill="#fdff00"/>
<polygon points="428.1,601.7 420.8,581.1 427.8,577.8 435.0,598.4" fill="#00ffd4"/>
<polygon points="435.4,625.6 428.1,601.7 435.0,598.4 442.2,622.1" fill="#009fff"/>
<polygon points="348.3,516.3 341.2,509.0 348.6,506.3 355.7,513.6" fill="#ffdc00"/>
<polygon points="384.7,540.6 377.4,529.1 384.6,526.2 391.9,537.7" fill="#98ff00"/>
<polygon points="406.5,566.4 399.2,550.9 406.2,547.9 413.5,563.2" fill="#02ff00"/>
<polygon points="333.7,511.7 326.7,505.5 334.2,502.9 341.2,509.0" fill="#ffbf00"/>
<polygon points="319.0,508.1 312.1,503.0 319.7,500.5 326.7,505.5" fill="#ffaa00"/>
<polygon points="304.4,505.5 297.6,501.6 305.3,499.1 312.1,503.0" fill="#ff9c00"/>
<polygon points="289.7,504.0 283.1,501.2 290.9,498.8 297.6,501.6" fill="#ff9500"/>
<polygon points="370.1,532.0 362.9,522.1 370.2,519.3 377.4,529.1" fill="#cfff00"/>
<polygon points="413.8,584.3 406.5,566.4 413.5,563.2 420.8,581.1" fill="#00ff60"/>
<polygon points="392.0,553.9 384.7,540.6 391.9,537.7 399.2,550.9" fill="#53ff00"/>
<polygon points="355.4,524.8 348.3,516.3 355.7,513.6 362.9,522.1" fill="#fdff00"/>
<polygon points="421.2,605.0 413.8,584.3 420.8,581.1 428.1,601.7" fill="#00ffd5"/>
<polygon points="428.5,629.0 421.2,605.0 428.1,601.7 435.4,625.6" fill="#009eff"/>
<polygon points="340.8,518.9 333.7,511.7 341.2,509.0 348.3,516.3" fill="#ffdc00"/>
<polygon points="377.4,543.5 370.1,532.0 377.4,529.1 384.7,540.6" fill="#97ff00"/>
<polygon points="399.4,569.4 392.0,553.9 399.2,550.9 406.5,566.4" fill="#01ff00"/>
<polygon points="326.0,514.2 319.0,508.1 326.7,505.5 333.7,511.7" fill="#ffbf00"/>
<polygon points="311.3,510.5 304.4,505.5 312.1,503.0 319.0,508.1" fill="#ffa900"/>
<polygon points="296.5,507.9 289.7,504.0 297.6,501.6 304.4,505.5" fill="#ff9b00"/>
<polygon points="362.7,534.7 355.4,524.8 362.9,522.1 370.1,532.0" fill="#cfff00"/>
<polygon points="406.7,587.4 399.4,569.4 406.5,566.4 413.8,584.3" fill="#00ff60"/>
<polygon points="384.7,556.9 377.4,543.5 384.7,540.6 392.0,553.9" fill="#53ff00"/>
<polygon points="347.9,527.5 340.8,518.9 348.3,516.3 355.4,524.8" fill="#fdff00"/>
<polygon points="414.1,608.3 406.7,587.4 413.8,584.3 421.2,605.0" fill="#00ffd5"/>
<polygon points="421.5,632.4 414.1,608.3 421.2,605.0 428.5,629.0" fill="#009eff"/>
<polygon points="333.1,521.5 326.0,514.2 333.7,511.7 340.8,518.9" fill="#ffdc00"/>
<polygon points="370.0,546.3 362.7,534.7 370.1,532.0 377.4,543.5" fill="#97ff00"/>
<polygon points="392.1,572.4 384.7,556.9 392.0,553.9 399.4,569.4" fill="#01ff00"/>
<polygon points="318.3,516.7 311.3,510.5 319.0,508.1 326.0,514.2" fill="#ffbe00"/>
<polygon points="303.4,512.9 296.5,507.9 304.4,505.5 311.3,510.5" fill="#ffa800"/>
<polygon points="355.2,537.4 347.9,527.5 355.4,524.8 362.7,534.7" fill="#d0ff00"/>
<polygon points="399.6,590.5 392.1,572.4 399.4,569.4 406.7,587.4" fill="#00ff60"/>
<polygon points="377.4,559.7 370.0,546.3 377.4,543.5 384.7,556.9" fill="#53ff00"/>
<polygon points="340.3,530.1 333.1,521.5 340.8,518.9 347.9,527.5" fill="#feff00"/>
<polygon points="407.0,611.5 399.6,590.5 406.7,587.4 414.1,608.3" fill="#00ffd5"/>
<polygon points="414.4,635.7 407.0,611.5 414.1,608.3 421.5,632.4" fill="#009fff"/>
<polygon points="325.4,524.0 318.3,516.7 326.0,514.2 333.1,521.5" fill="#ffda00"/>
<polygon points="362.5,549.0 355.2,537.4 362.7,534.7 370.0,546.3" fill="#98ff00"/>
<polygon points="384.8,575.4 377.4,559.7 384.7,556.9 392.1,572.4" fill="#02ff00"/>
<polygon points="310.5,519.1 303.4,512.9 311.3,510.5 318.3,516.7" fill="#ffbc00"/>
<polygon points="347.6,540.1 340.3,530.1 347.9,527.5 355.2,537.4" fill="#d1ff00"/>
<polygon points="392.3,593.5 384.8,575.4 392.1,572.4 399.6,590.5" fill="#00ff5f"/>
<polygon points="369.9,562.5 362.5,549.0 370.0,546.3 377.4,559.7" fill="#55ff00"/>
<polygon points="399.7,614.6 392.3,593.5 399.6,590.5 407.0,611.5" fill="#00ffd3"/>
<polygon points="332.6,532.6 325.4,524.0 333.1,521.5 340.3,530.1" fill="#fffe00"/>
<polygon points="407.2,639.0 399.7,614.6 407.0,611.5 414.4,635.7" fill="#00a1ff"/>
<polygon points="317.6,526.4 310.5,519.1 318.3,516.7 325.4,524.0" fill="#ffd800"/>
<polygon points="355.0,551.7 347.6,540.1 355.2,537.4 362.5,549.0" fill="#99ff00"/>
<polygon points="377.4,578.2 369.9,562.5 377.4,559.7 384.8,575.4" fill="#04ff00"/>
<polygon points="339.9,542.6 332.6,532.6 340.3,530.1 347.6,540.1" fill="#d3ff00"/>
<polygon points="384.9,596.5 377.4,578.2 384.8,575.4 392.3,593.5" fill="#00ff5d"/>
<polygon points="362.4,565.3 355.0,551.7 362.5,549.0 369.9,562.5" fill="#56ff00"/>
<polygon points="392.4,617.7 384.9,596.5 392.3,593.5 399.7,614.6" fill="#00ffd1"/>
<polygon points="324.8,535.0 317.6,526.4 325.4,524.0 332.6,532.6" fill="#fffc00"/>
<polygon points="399.9,642.2 392.4,617.7 399.7,614.6 407.2,639.0" fill="#00a3ff"/>
<polygon points="347.3,554.3 339.9,542.6 347.6,540.1 355.0,551.7" fill="#9cff00"/>
<polygon points="369.9,581.0 362.4,565.3 369.9,562.5 377.4,578.2" fill="#06ff00"/>
<polygon points="332.1,545.1 324.8,535.0 332.6,532.6 339.9,542.6" fill="#d5ff00"/>
<polygon points="377.4,599.4 369.9,581.0 377.4,578.2 384.9,596.5" fill="#00ff5b"/>
<polygon points="354.7,567.9 347.3,554.3 355.0,551.7 362.4,565.3" fill="#59ff00"/>
<polygon points="384.9,620.7 377.4,599.4 384.9,596.5 392.4,617.7" fill="#00ffce"/>
<polygon points="392.5,645.3 384.9,620.7 392.4,617.7 399.9,642.2" fill="#00a6ff"/>
<polygon points="339.5,556.9 332.1,545.1 339.9,542.6 347.3,554.3" fill="#9fff00"/>
<polygon points="362.2,583.8 354.7,567.9 362.4,565.3 369.9,581.0" fill="#09ff00"/>
<polygon points="369.8,602.2 362.2,583.8 369.9,581.0 377.4,599.4" fill="#00ff58"/>
<polygon points="346.9,570.5 339.5,556.9 347.3,554.3 354.7,567.9" fill="#5cff00"/>
<polygon points="377.4,623.6 369.8,602.2 377.4,599.4 384.9,620.7" fill="#00ffcb"/>
<polygon points="385.0,648.4 377.4,623.6 384.9,620.7 392.5,645.3" fill="#00aaff"/>
<polygon points="354.5,586.5 346.9,570.5 354.7,567.9 362.2,583.8" fill="#0cff00"/>
<polygon points="362.1,605.0 354.5,586.5 362.2,583.8 369.8,602.2" fill="#00ff54"/>
<polygon points="369.7,626.5 362.1,605.0 369.8,602.2 377.4,623.6" fill="#00ffc7"/>
<polygon points="377.4,651.4 369.7,626.5 377.4,623.6 385.0,648.4" fill="#00afff"/>
</g>
<ellipse cx="58.2" cy="149.4" rx="2.8" ry="3.2" fill="#c80000" stroke="#600000" stroke-width="0.6"/>
<ellipse cx="193.8" cy="36.7" rx="2.8" ry="3.2" fill="#c80000" stroke="#600000" stroke-width="0.6"/>
<ellipse cx="193.8" cy="101.0" rx="2.8" ry="3.2" fill="#c80000" stroke="#600000" stroke-width="0.6"/>
<ellipse cx="332.4" cy="79.3" rx="2.8" ry="3.2" fill="#c80000" stroke="#600000" stroke-width="0.6"/>
<ellipse cx="194.0" cy="233.5" rx="2.8" ry="3.2" fill="#c80000" stroke="#600000" stroke-width="0.6"/>
<ellipse cx="440.3" cy="108.7" rx="2.8" ry="3.2" fill="#c80000" stroke="#600000" stroke-width="0.6"/>
<ellipse cx="575.7" cy="51.4" rx="2.8" ry="3.2" fill="#c80000" stroke="#600000" stroke-width="0.6"/>
<ellipse cx="575.3" cy="99.6" rx="2.8" ry="3.2" fill="#c80000" stroke="#600000" stroke-width="0.6"/>
<ellipse cx="711.7" cy="93.1" rx="2.8" ry="3.2" fill="#c80000" stroke="#600000" stroke-width="0.6"/>
<ellipse cx="575.3" cy="164.3" rx="2.8" ry="3.2" fill="#c80000" stroke="#600000" stroke-width="0.6"/>
<ellipse cx="240.2" cy="522.8" rx="2.8" ry="3.2" fill="#c80000" stroke="#600000" stroke-width="0.6"/>
<ellipse cx="377.8" cy="471.3" rx="2.8" ry="3.2" fill="#c80000" stroke="#600000" stroke-width="0.6"/>
<ellipse cx="512.8" cy="572.4" rx="2.8" ry="3.2" fill="#c80000" stroke="#600000" stroke-width="0.6"/>
<ellipse cx="377.4" cy="637.1" rx="2.8" ry="3.2" fill="#c80000" stroke="#600000" stroke-width="0.6"/>
<text x="21.2" y="14.2" font-size="21" text-anchor="start" dominant-baseline="alphabetic" font-weight="bold" fill="#000" stroke="#000" stroke-width="0.25">a</text>
<text x="417.6" y="15.6" font-size="20.5" text-anchor="start" dominant-baseline="alphabetic" font-weight="bold" fill="#000" stroke="#000" stroke-width="0.25">b</text>
<text x="187.0" y="431.0" font-size="21" text-anchor="start" dominant-baseline="alphabetic" font-weight="bold" fill="#000" stroke="#000" stroke-width="0.25">c</text>
<text x="47.1" y="41.3" font-size="13" text-anchor="end" dominant-baseline="alphabetic" font-weight="normal" fill="#111" stroke="#111" stroke-width="0.25">14</text>
<text x="50.0" y="71.4" font-size="13" text-anchor="end" dominant-baseline="alphabetic" font-weight="normal" fill="#111" stroke="#111" stroke-width="0.25">12</text>
<text x="49.1" y="102.0" font-size="13" text-anchor="end" dominant-baseline="alphabetic" font-weight="normal" fill="#111" stroke="#111" stroke-width="0.25">10</text>
<text x="48.5" y="137.2" font-size="13" text-anchor="end" dominant-baseline="alphabetic" font-weight="normal" fill="#111" stroke="#111" stroke-width="0.25">8</text>
<text x="51.3" y="167.8" font-size="13" text-anchor="end" dominant-baseline="alphabetic" font-weight="normal" fill="#111" stroke="#111" stroke-width="0.25">6</text>
<text x="51.9" y="195.9" font-size="13" text-anchor="end" dominant-baseline="alphabetic" font-weight="normal" fill="#111" stroke="#111" stroke-width="0.25">4</text>
<text x="54.3" y="252.9" font-size="13" text-anchor="end" dominant-baseline="alphabetic" font-weight="normal" fill="#111" stroke="#111" stroke-width="0.25">2</text>
<text x="432.8" y="42.4" font-size="13" text-anchor="end" dominant-baseline="alphabetic" font-weight="normal" fill="#111" stroke="#111" stroke-width="0.25">14</text>
<text x="435.2" y="77.2" font-size="13" text-anchor="end" dominant-baseline="alphabetic" font-weight="normal" fill="#111" stroke="#111" stroke-width="0.25">12</text>
<text x="436.3" y="109.7" font-size="13" text-anchor="end" dominant-baseline="alphabetic" font-weight="normal" fill="#111" stroke="#111" stroke-width="0.25">10</text>
<text x="431.9" y="139.7" font-size="13" text-anchor="end" dominant-baseline="alphabetic" font-weight="normal" fill="#111" stroke="#111" stroke-width="0.25">8</text>
<text x="431.3" y="167.8" font-size="13" text-anchor="end" dominant-baseline="alphabetic" font-weight="normal" fill="#111" stroke="#111" stroke-width="0.25">6</text>
<text x="435.8" y="201.5" font-size="13" text-anchor="end" dominant-baseline="alphabetic" font-weight="normal" fill="#111" stroke="#111" stroke-width="0.25">4</text>
<text x="437.4" y="242.7" font-size="13" text-anchor="end" dominant-baseline="alphabetic" font-weight="normal" fill="#111" stroke="#111" stroke-width="0.25">2</text>
<text x="232.2" y="448.7" font-size="13.5" text-anchor="end" dominant-baseline="alphabetic" font-weight="normal" fill="#111" stroke="#111" stroke-width="0.25">0.40</text>
<text x="232.4" y="468.0" font-size="13.5" text-anchor="end" dominant-baseline="alphabetic" font-weight="normal" fill="#111" stroke="#111" stroke-width="0.25">0.38</text>
<text x="234.9" y="488.6" font-size="13.5" text-anchor="end" dominant-baseline="alphabetic" font-weight="normal" fill="#111" stroke="#111" stroke-width="0.25">0.36</text>
<text x="233.0" y="509.2" font-size="13.5" text-anchor="end" dominant-baseline="alphabetic" font-weight="normal" fill="#111" stroke="#111" stroke-width="0.25">0.34</text>
<text x="233.0" y="526.6" font-size="13.5" text-anchor="end" dominant-baseline="alphabetic" font-weight="normal" fill="#111" stroke="#111" stroke-width="0.25">0.32</text>
<text x="235.5" y="545.6" font-size="13.5" text-anchor="end" dominant-baseline="alphabetic" font-weight="normal" fill="#111" stroke="#111" stroke-width="0.25">0.30</text>
<text x="235.5" y="568.6" font-size="13.5" text-anchor="end" dominant-baseline="alphabetic" font-weight="normal" fill="#111" stroke="#111" stroke-width="0.25">0.28</text>
<text x="236.1" y="588.0" font-size="13.5" text-anchor="end" dominant-baseline="alphabetic" font-weight="normal" fill="#111" stroke="#111" stroke-width="0.25">0.26</text>
<text x="238.6" y="611.0" font-size="13.5" text-anchor="end" dominant-baseline="alphabetic" font-weight="normal" fill="#111" stroke="#111" stroke-width="0.25">0.24</text>
<text x="79.9" y="272.6" font-size="13.5" text-anchor="middle" dominant-baseline="central" font-weight="normal" fill="#111" stroke="#111" stroke-width="0.25" transform="rotate(-55 79.9 272.6)">1.5</text>
<text x="114.6" y="291.7" font-size="13.5" text-anchor="middle" dominant-baseline="central" font-weight="normal" fill="#111" stroke="#111" stroke-width="0.25" transform="rotate(-55 114.6 291.7)">1.0</text>
<text x="145.4" y="313.7" font-size="13.5" text-anchor="middle" dominant-baseline="central" font-weight="normal" fill="#111" stroke="#111" stroke-width="0.25" transform="rotate(-55 145.4 313.7)">0.5</text>
<text x="180.6" y="322.5" font-size="13.5" text-anchor="middle" dominant-baseline="central" font-weight="normal" fill="#111" stroke="#111" stroke-width="0.25" transform="rotate(-55 180.6 322.5)">0</text>
<text x="214.0" y="328.8" font-size="13.5" text-anchor="middle" dominant-baseline="central" font-weight="normal" fill="#111" stroke="#111" stroke-width="0.25" transform="rotate(40 214.0 328.8)">0.025</text>
<text x="235.7" y="307.8" font-size="13.5" text-anchor="middle" dominant-baseline="central" font-weight="normal" fill="#111" stroke="#111" stroke-width="0.25" transform="rotate(40 235.7 307.8)">0.04</text>
<text x="262.9" y="296.7" font-size="13.5" text-anchor="middle" dominant-baseline="central" font-weight="normal" fill="#111" stroke="#111" stroke-width="0.25" transform="rotate(40 262.9 296.7)">0.055</text>
<text x="286.3" y="279.4" font-size="13.5" text-anchor="middle" dominant-baseline="central" font-weight="normal" fill="#111" stroke="#111" stroke-width="0.25" transform="rotate(40 286.3 279.4)">0.07</text>
<text x="313.5" y="270.8" font-size="13.5" text-anchor="middle" dominant-baseline="central" font-weight="normal" fill="#111" stroke="#111" stroke-width="0.25" transform="rotate(40 313.5 270.8)">0.085</text>
<text x="334.5" y="253.5" font-size="13.5" text-anchor="middle" dominant-baseline="central" font-weight="normal" fill="#111" stroke="#111" stroke-width="0.25" transform="rotate(40 334.5 253.5)">0.1</text>
<text x="441.4" y="253.4" font-size="13.5" text-anchor="middle" dominant-baseline="central" font-weight="normal" fill="#111" stroke="#111" stroke-width="0.25" transform="rotate(-55 441.4 253.4)">20</text>
<text x="465.4" y="262.7" font-size="13.5" text-anchor="middle" dominant-baseline="central" font-weight="normal" fill="#111" stroke="#111" stroke-width="0.25" transform="rotate(-55 465.4 262.7)">18</text>
<text x="490.8" y="278.7" font-size="13.5" text-anchor="middle" dominant-baseline="central" font-weight="normal" fill="#111" stroke="#111" stroke-width="0.25" transform="rotate(-55 490.8 278.7)">16</text>
<text x="517.5" y="296.1" font-size="13.5" text-anchor="middle" dominant-baseline="central" font-weight="normal" fill="#111" stroke="#111" stroke-width="0.25" transform="rotate(-55 517.5 296.1)">14</text>
<text x="546.3" y="312.1" font-size="13.5" text-anchor="middle" dominant-baseline="central" font-weight="normal" fill="#111" stroke="#111" stroke-width="0.25" transform="rotate(-55 546.3 312.1)">12</text>
<text x="570.9" y="324.1" font-size="13.5" text-anchor="middle" dominant-baseline="central" font-weight="normal" fill="#111" stroke="#111" stroke-width="0.25" transform="rotate(-55 570.9 324.1)">10</text>
<text x="590.3" y="321.6" font-size="13.5" text-anchor="middle" dominant-baseline="central" font-weight="normal" fill="#111" stroke="#111" stroke-width="0.25" transform="rotate(40 590.3 321.6)">5</text>
<text x="615.4" y="308.4" font-size="13.5" text-anchor="middle" dominant-baseline="central" font-weight="normal" fill="#111" stroke="#111" stroke-width="0.25" transform="rotate(40 615.4 308.4)">7</text>
<text x="636.9" y="291.7" font-size="13.5" text-anchor="middle" dominant-baseline="central" font-weight="normal" fill="#111" stroke="#111" stroke-width="0.25" transform="rotate(40 636.9 291.7)">9</text>
<text x="664.4" y="281.0" font-size="13.5" text-anchor="middle" dominant-baseline="central" font-weight="normal" fill="#111" stroke="#111" stroke-width="0.25" transform="rotate(40 664.4 281.0)">11</text>
<text x="689.5" y="267.8" font-size="13.5" text-anchor="middle" dominant-baseline="central" font-weight="normal" fill="#111" stroke="#111" stroke-width="0.25" transform="rotate(40 689.5 267.8)">13</text>
<text x="714.6" y="255.9" font-size="13.5" text-anchor="middle" dominant-baseline="central" font-weight="normal" fill="#111" stroke="#111" stroke-width="0.25" transform="rotate(40 714.6 255.9)">15</text>
<text x="232.3" y="659.1" font-size="13" text-anchor="middle" dominant-baseline="central" font-weight="normal" fill="#111" stroke="#111" stroke-width="0.25">2</text>
<text x="265.2" y="682.6" font-size="13.5" text-anchor="middle" dominant-baseline="central" font-weight="normal" fill="#111" stroke="#111" stroke-width="0.25" transform="rotate(-55 265.2 682.6)">1.5</text>
<text x="300.4" y="701.7" font-size="13.5" text-anchor="middle" dominant-baseline="central" font-weight="normal" fill="#111" stroke="#111" stroke-width="0.25" transform="rotate(-55 300.4 701.7)">1.0</text>
<text x="331.3" y="723.7" font-size="13.5" text-anchor="middle" dominant-baseline="central" font-weight="normal" fill="#111" stroke="#111" stroke-width="0.25" transform="rotate(-55 331.3 723.7)">0.5</text>
<text x="366.5" y="735.5" font-size="13.5" text-anchor="middle" dominant-baseline="central" font-weight="normal" fill="#111" stroke="#111" stroke-width="0.25" transform="rotate(-55 366.5 735.5)">0</text>
<text x="400.7" y="746.8" font-size="13.5" text-anchor="middle" dominant-baseline="central" font-weight="normal" fill="#111" stroke="#111" stroke-width="0.25" transform="rotate(40 400.7 746.8)">0.025</text>
<text x="424.7" y="725.4" font-size="13.5" text-anchor="middle" dominant-baseline="central" font-weight="normal" fill="#111" stroke="#111" stroke-width="0.25" transform="rotate(40 424.7 725.4)">0.04</text>
<text x="455.4" y="713.4" font-size="13.5" text-anchor="middle" dominant-baseline="central" font-weight="normal" fill="#111" stroke="#111" stroke-width="0.25" transform="rotate(40 455.4 713.4)">0.055</text>
<text x="480.8" y="694.7" font-size="13.5" text-anchor="middle" dominant-baseline="central" font-weight="normal" fill="#111" stroke="#111" stroke-width="0.25" transform="rotate(40 480.8 694.7)">0.07</text>
<text x="510.2" y="684.1" font-size="13.5" text-anchor="middle" dominant-baseline="central" font-weight="normal" fill="#111" stroke="#111" stroke-width="0.25" transform="rotate(40 510.2 684.1)">0.085</text>
<text x="532.9" y="665.4" font-size="13.5" text-anchor="middle" dominant-baseline="central" font-weight="normal" fill="#111" stroke="#111" stroke-width="0.25" transform="rotate(40 532.9 665.4)">0.1</text>
<text x="22.0" y="289.0" font-size="18.5" text-anchor="start" dominant-baseline="alphabetic" font-weight="normal" fill="#111" stroke="#111" stroke-width="0.25" transform="rotate(27.4 22.0 289.0)" textLength="171.0" lengthAdjust="spacingAndGlyphs">Blanching time (min)</text>
<text x="256.5" y="357.5" font-size="18.5" text-anchor="start" dominant-baseline="alphabetic" font-weight="normal" fill="#111" stroke="#111" stroke-width="0.25" transform="rotate(-35.5 256.5 357.5)" textLength="113.0" lengthAdjust="spacingAndGlyphs">Iron Conc. (%)</text>
<text x="415.8" y="283.0" font-size="17" text-anchor="start" dominant-baseline="alphabetic" font-weight="normal" fill="#111" stroke="#111" stroke-width="0.25" transform="rotate(27.3 415.8 283.0)" textLength="188.6" lengthAdjust="spacingAndGlyphs">Restoration time (min)</text>
<text x="613.9" y="354.4" font-size="17.5" text-anchor="start" dominant-baseline="alphabetic" font-weight="normal" fill="#111" stroke="#111" stroke-width="0.25" transform="rotate(-32.5 613.9 354.4)" textLength="157.5" lengthAdjust="spacingAndGlyphs">Vacuum time (min)</text>
<text x="185.0" y="686.5" font-size="18" text-anchor="start" dominant-baseline="alphabetic" font-weight="normal" fill="#111" stroke="#111" stroke-width="0.25" transform="rotate(28 185.0 686.5)" textLength="185.0" lengthAdjust="spacingAndGlyphs">Blanching time (min)</text>
<text x="456.5" y="778.5" font-size="18" text-anchor="start" dominant-baseline="alphabetic" font-weight="normal" fill="#111" stroke="#111" stroke-width="0.25" transform="rotate(-35.4 456.5 778.5)" textLength="118.0" lengthAdjust="spacingAndGlyphs">Iron Conc. (%)</text>
<text x="29.5" y="260.2" font-size="18" fill="#111" stroke="#111" stroke-width="0.25" transform="rotate(-93 29.5 260.2)" textLength="148" lengthAdjust="spacingAndGlyphs">Iron impregnation</text>
<text x="182.5" y="260.2" font-size="19" fill="#111" stroke="#111" stroke-width="0.25" font-family="Liberation Serif" transform="rotate(-93 29.5 260.2)" textLength="87" lengthAdjust="spacingAndGlyphs">(mg/100g)</text>
<text x="408.0" y="260.8" font-size="18" text-anchor="start" dominant-baseline="alphabetic" font-weight="normal" fill="#111" stroke="#111" stroke-width="0.25" transform="rotate(-90 408.0 260.8)" textLength="241.5" lengthAdjust="spacingAndGlyphs">Iron impregnation (mg/100g)</text>
<text x="194.9" y="623.6" font-size="17.5" fill="#111" stroke="#111" stroke-width="0.25" transform="rotate(-92.3 194.9 623.6)" textLength="173" lengthAdjust="spacingAndGlyphs">Firmness (Newton)</text>
<line x1="565.8" y1="370.6" x2="564.8" y2="372.6" stroke="#444" stroke-width="1"/>
<text x="598" y="797.5" font-size="10" fill="#e0e0e0">Art</text>
<text x="644" y="801" font-size="10" fill="#e0e0e0">Acc</text>
</g>
</svg>
</body></html>
